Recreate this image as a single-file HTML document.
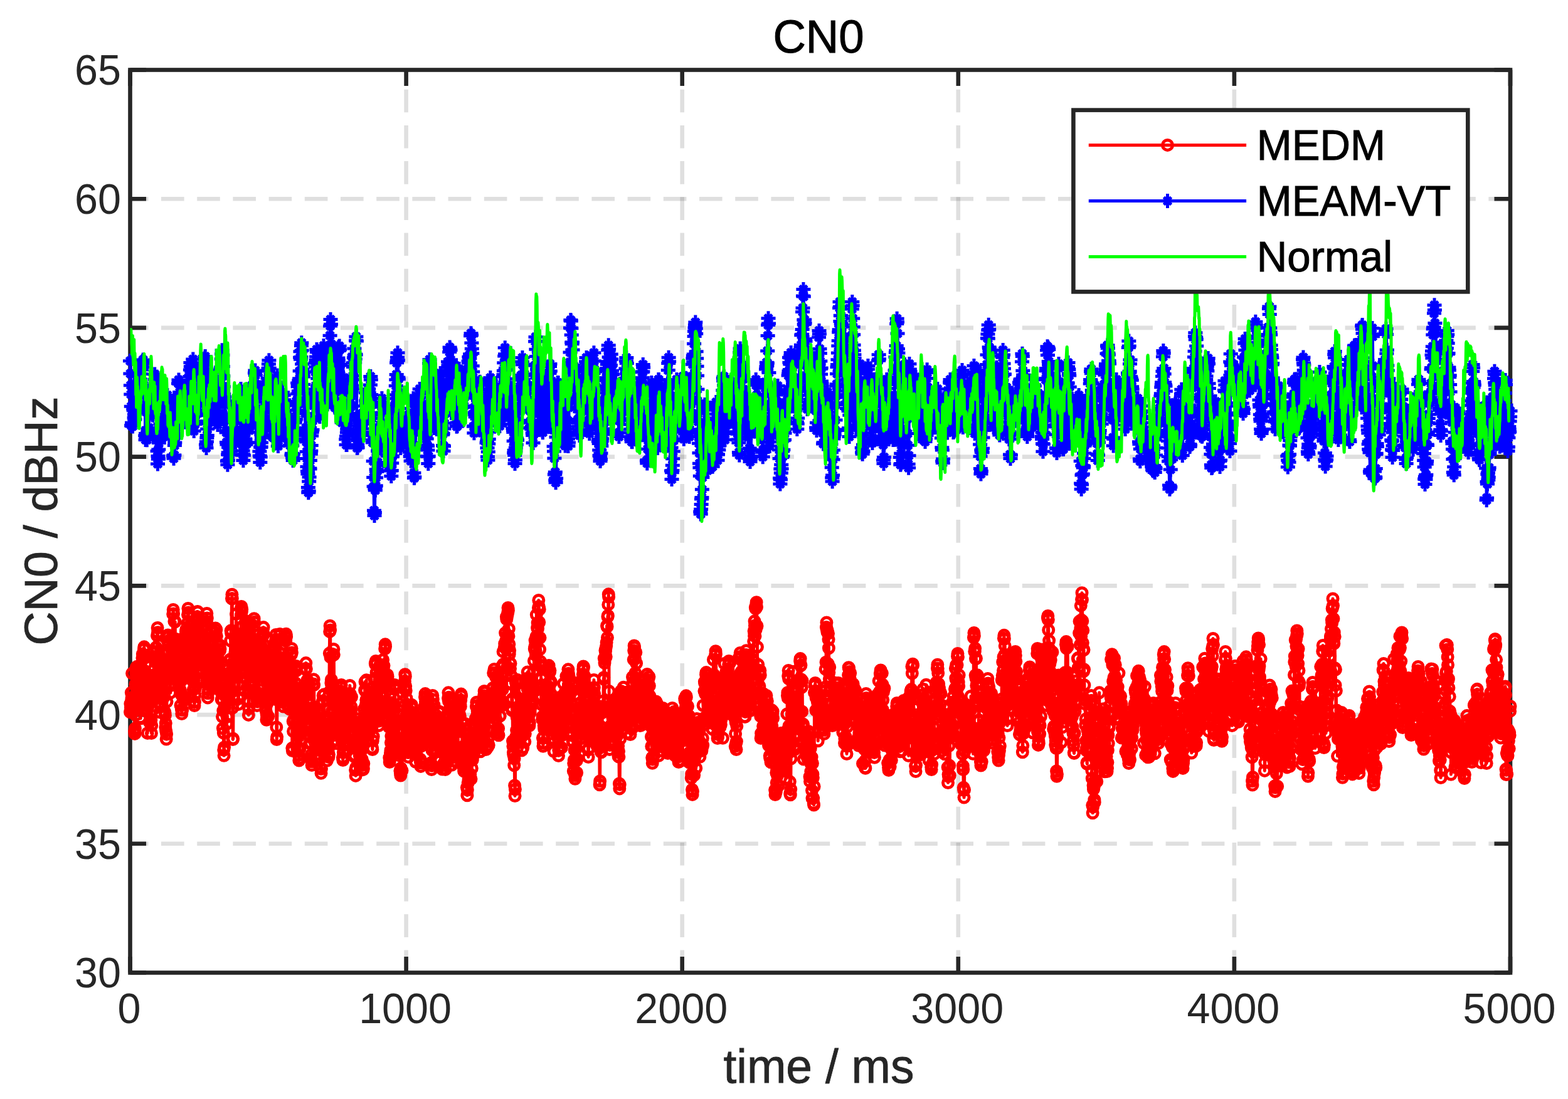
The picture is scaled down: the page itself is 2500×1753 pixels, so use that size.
<!DOCTYPE html>
<html><head><meta charset="utf-8"><title>CN0</title><style>html,body{margin:0;padding:0;background:#fff;width:2500px;height:1753px;overflow:hidden}svg{display:block}</style></head><body>
<svg width="2500" height="1753" viewBox="0 0 2500 1753">
<defs>
<marker id="mo" markerUnits="userSpaceOnUse" markerWidth="1" markerHeight="1" refX="0" refY="0" overflow="visible"><circle r="8" fill="none" stroke="#f00" stroke-width="5"/></marker>
<marker id="ms" markerUnits="userSpaceOnUse" markerWidth="1" markerHeight="1" refX="0" refY="0" overflow="visible"><path d="M0 -11.5V11.5M-11.5 0H11.5M-6 -6L6 6M-6 6L6 -6" fill="none" stroke="#00f" stroke-width="5"/></marker>
<clipPath id="ax"><rect x="207.5" y="111.5" width="2200.5" height="1440.0"/></clipPath>
</defs>
<rect width="2500" height="1753" fill="#fff"/>
<path d="M2408.0 1345.8H207.5M2408.0 1140.1H207.5M2408.0 934.4H207.5M2408.0 728.6H207.5M2408.0 522.9H207.5M2408.0 317.2H207.5" stroke="#262626" stroke-opacity="0.15" stroke-width="6.6" stroke-dasharray="36.6 20.6" stroke-dashoffset="2" fill="none"/>
<path d="M647.6 1551.5V111.5M1087.7 1551.5V111.5M1527.8 1551.5V111.5M1967.9 1551.5V111.5" stroke="#262626" stroke-opacity="0.15" stroke-width="6.6" stroke-dasharray="36.6 20.6" stroke-dashoffset="0.6" fill="none"/>
<path d="M207.5 1551.5h25.5M2408.0 1551.5h-25.5M207.5 1345.8h25.5M2408.0 1345.8h-25.5M207.5 1140.1h25.5M2408.0 1140.1h-25.5M207.5 934.4h25.5M2408.0 934.4h-25.5M207.5 728.6h25.5M2408.0 728.6h-25.5M207.5 522.9h25.5M2408.0 522.9h-25.5M207.5 317.2h25.5M2408.0 317.2h-25.5M207.5 111.5h25.5M2408.0 111.5h-25.5M207.5 1551.5v-25.5M207.5 111.5v25.5M647.6 1551.5v-25.5M647.6 111.5v25.5M1087.7 1551.5v-25.5M1087.7 111.5v25.5M1527.8 1551.5v-25.5M1527.8 111.5v25.5M1967.9 1551.5v-25.5M1967.9 111.5v25.5M2408.0 1551.5v-25.5M2408.0 111.5v25.5" stroke="#262626" stroke-width="6.6" fill="none"/>
<rect x="207.5" y="111.5" width="2200.5" height="1440.0" fill="none" stroke="#262626" stroke-width="6.6" stroke-linejoin="miter"/>
<path d="M207.5 1135.8l.4 -13.1l.5 6.1l.4 3.7l.5 -27.7l.4 12l.4 -3.8l.5 -38.9l.4 52.1l.5 -3.4l.4 -19.6l.4 14l.5 18.5l.4 -10.4l.5 5.3l.4 -19.2l.4 54.9l.5 4.1l.4 -8.5l.5 -70.4l.4 49l.4 -66.5l.5 -9.5l.4 5.3l.5 19.3l.4 -25.8l.4 23.2l.5 -20.7l.4 54.3l.5 -27l.4 -4.3l.4 38.6l.5 -52.2l.4 46l.5 -49.7l.4 30.3l.4 -8.5l.5 51.2l.4 1.5l.5 -46.4l.4 18.9l.4 -24.9l.5 10.4l.4 -30.9l.5 -23.6l.4 -6.4l.4 39.2l.5 32.8l.4 -44.1l.5 -20.4l.4 -15l.4 -3.8l.5 13.4l.4 25.5l.5 -.2l.4 4l.4 -15l.5 46.3l.4 -4.4l.5 33.3l.4 -23.7l.4 -23.3l.5 43.7l.4 38l.5 -43l.4 -12.1l.4 -8.1l.5 .9l.4 13l.5 -19.6l.4 51.6l.4 -37.6l.5 5.8l.4 -15.3l.5 -10.5l.4 9.3l.4 44.5l.5 21.2l.4 -12.2l.5 -67.1l.4 43.4l.4 -.5l.5 -14.9l.4 -32.1l.5 9.2l.4 -13.2l.4 .5l.5 26.7l.4 -.7l.5 -22.5l.4 -7.7l.4 -2.8l.5 -19l.4 -6.6l.5 -17.3l.4 7.1l.4 41l.5 -33.2l.4 -33.8l.5 -12.4l.4 7.4l.5 38.3l.4 9.3l.4 -27.9l.5 47.5l.4 -12.3l.5 48.8l.4 -16.5l.4 40.1l.5 -34.7l.4 1.1l.5 8.7l.4 12l.4 -12.9l.5 -39.1l.4 25.3l.5 -6.4l.4 -12.1l.4 -7.5l.5 -11l.4 12.3l.5 2.8l.4 36.7l.4 -3.1l.5 2.9l.4 24.2l.5 1.2l.4 4.5l.4 19.1l.5 -6.6l.4 12.3l.5 13.2l.4 -8l.4 -51.7l.5 -44.7l.4 -34l.5 -24l.4 -3.6l.4 9.3l.5 30l.4 -12.3l.5 33.6l.4 -11.2l.4 -2.4l.5 7l.4 23.9l.5 14.2l.4 -11.7l.4 -2.7l.5 -38.7l.4 17.4l.5 -49.7l.4 18.4l.4 4.3l.5 -5.7l.4 -57.3l.5 -6.9l.4 6.4l.4 47l.5 -.5l.4 -34.2l.5 30.7l.4 33l.4 -63.2l.5 43.4l.4 16.7l.5 -32.2l.4 29.5l.4 -29.1l.5 9.1l.4 3.9l.5 24.2l.4 -1.7l.4 24.8l.5 -33.9l.4 20.1l.5 25.8l.4 -4l.4 -33.8l.5 43.8l.4 -18.9l.5 21.2l.4 2.3l.4 22.3l.5 -18.1l.4 -35.4l.5 60.1l.4 6.7l.4 -6.1l.5 .2l.4 -23l.5 -26l.4 31l.4 -43.5l.5 -30.5l.4 76.7l.5 -85.1l.4 45.3l.4 .4l.5 -21.5l.4 -42.2l.5 48.3l.4 -54.8l.4 -3.6l.5 14l.4 17.3l.5 -15.4l.4 4.6l.4 -30.7l.5 -13.5l.4 -9.9l.5 6.6l.4 34.5l.4 -12.8l.5 20.5l.4 -15.9l.5 4.7l.4 17.7l.4 .4l.5 20.8l.4 -3.2l.5 36.3l.4 -34.2l.4 4.9l.5 -11.2l.4 26.4l.5 18.2l.4 -23.4l.4 18.9l.5 20.4l.4 -11.8l.5 -2.8l.4 34.9l.4 5.1l.5 -6.1l.4 -10.8l.5 -10.2l.4 -39.5l.4 -13.3l.5 6.5l.4 -18l.5 -45l.4 53.8l.4 -59.2l.5 -8.2l.4 .4l.5 52.8l.4 -33.3l.4 13.9l.5 -21.6l.4 28.9l.5 3l.4 5.2l.4 16.7l.5 -3.3l.4 22.6l.5 -24.6l.4 -6.3l.4 23.8l.5 17.2l.4 16.6l.5 -4.3l.4 -53.2l.4 38.8l.5 17.6l.4 -32.1l.5 -15.6l.4 12.4l.4 -20.4l.5 18.8l.4 -17.1l.5 24l.4 -22l.4 -28.5l.5 22.5l.4 2.5l.5 -34.2l.4 -5.1l.4 -13.1l.5 7.5l.4 95.7l.5 31.2l.4 -7.2l.4 -23.1l.5 17.5l.4 -19.1l.5 9.1l.4 -33.6l.4 -6.9l.5 42.4l.4 -10l.5 -12.6l.4 24.2l.4 -46.8l.5 8.5l.4 26.8l.5 14.1l.4 -38.7l.4 31.3l.5 -47.8l.4 16.5l.5 -12.2l.4 -30.4l.5 34.8l.4 11.4l.4 -23.8l.5 -.5l.4 27.1l.5 -55l.4 -7l.4 14.7l.5 -13l.4 .9l.5 9.8l.4 44.5l.4 39.7l.5 -1.3l.4 -41.5l.5 -5.7l.4 18.6l.4 4l.5 -11.1l.4 -25.3l.5 -7.7l.4 1.9l.4 7.3l.5 -2.1l.4 64.8l.5 .6l.4 -11.8l.4 8.2l.5 18.4l.4 -9.8l.5 -4.7l.4 42l.4 -26.7l.5 45.1l.4 -28.1l.5 35.4l.4 27.3l.4 9l.5 -13.3l.4 -65.2l.5 2.1l.4 -22.7l.4 -2.5l.5 -15l.4 -13.2l.5 9l.4 .9l.4 69.3l.5 -11.3l.4 -41.8l.5 -39.9l.4 46l.4 5l.5 -45.6l.4 49.3l.5 -5.6l.4 -25l.4 15l.5 -5.7l.4 -43.2l.5 1.1l.4 -31l.4 -15.9l.5 4l.4 -4.4l.5 -50.9l.4 -6.6l.4 6.5l.5 174.3l.4 50.5l.5 -1.2l.4 -63.6l.4 -38.7l.5 -20.7l.4 37.3l.5 -39l.4 -4.2l.4 -7.5l.5 -25.4l.4 2.6l.5 -4.9l.4 -34.9l.4 39.2l.5 36.8l.4 5.8l.5 19.4l.4 -2.8l.4 13.6l.5 20.4l.4 11.8l.5 -9.1l.4 -63.9l.4 41.4l.5 -28.9l.4 -1.2l.5 10.8l.4 -19.4l.4 -33l.5 6.7l.4 -55.2l.5 -4.2l.4 8.4l.4 -4l.5 60.9l.4 -33.9l.5 34.6l.4 -15.1l.4 35.2l.5 13.2l.4 -35.9l.5 -7.1l.4 34.9l.4 22.8l.5 -29.1l.4 -9.6l.5 17.3l.4 -69.7l.4 37.3l.5 -19.1l.4 28.8l.5 -25.3l.4 -12.3l.4 -1.5l.5 -5.8l.4 4l.5 106.6l.4 37.3l.4 -9.8l.5 -11.6l.4 -25.7l.5 7.4l.4 -6.2l.4 -31.1l.5 22.2l.4 -9.7l.5 -6l.4 -19.6l.4 -5.8l.5 18.9l.4 22.6l.5 -65.5l.4 22l.4 -23.4l.5 17.8l.4 -12.3l.5 -26.1l.4 -11.8l.4 5.5l.5 14l.4 26.4l.5 -3.6l.4 10.3l.4 35.2l.5 33.1l.4 -85.8l.5 59l.4 33.7l.4 11l.5 -6.3l.4 -47.8l.5 4.5l.4 29.6l.4 3.3l.5 -23.4l.4 -22.4l.5 14.9l.4 -10.4l.4 12l.5 -12.3l.4 -18.6l.5 12.5l.4 -31.1l.4 36.2l.5 3.6l.4 -51l.5 28.2l.4 -31.9l.4 37.5l.5 -7.1l.4 -36.3l.5 -8.6l.4 11.2l.4 16.3l.5 11l.4 18.1l.5 5.8l.4 19.1l.4 -5.9l.5 37.1l.4 14.7l.5 7.5l.4 12.7l.4 -7.5l.5 5.5l.4 -28.8l.5 -25.3l.4 28.2l.5 22.4l.4 -70.9l.4 44.3l.5 -18.6l.4 -13.7l.5 24.3l.4 -38.8l.4 29.1l.5 17.5l.4 -25.5l.5 -23.9l.4 -20.9l.4 7.1l.5 -14l.4 66l.5 -39.8l.4 -18.7l.4 -7.9l.5 1.8l.4 11.8l.5 -21.7l.4 56.4l.4 -51.3l.5 -3.6l.4 19l.5 20.1l.4 -5.4l.4 -43.3l.5 -9.6l.4 7.3l.5 140.1l.4 19.6l.4 -4.2l.5 -80.8l.4 18.8l.5 -37.1l.4 41.1l.4 -36.4l.5 -31.2l.4 4.2l.5 -13.5l.4 -19.7l.4 -9.2l.5 .4l.4 .2l.5 52.8l.4 -1.7l.4 15.5l.5 14.2l.4 -3.8l.5 28.2l.4 -25.2l.4 27.8l.5 -9.3l.4 -9.8l.5 26.2l.4 -9.6l.4 -59l.5 7.7l.4 19.5l.5 6.9l.4 -43.5l.4 .9l.5 -33.3l.4 5.7l.5 -11l.4 4.3l.4 48.4l.5 14.1l.4 2.1l.5 -10.2l.4 30.2l.4 -4.7l.5 33l.4 -32.1l.5 10.6l.4 17.8l.4 6.1l.5 -29l.4 -23.4l.5 5.6l.4 -13.9l.4 41.6l.5 -26.2l.4 -41.5l.5 -9.6l.4 6.5l.4 152.3l.5 4.2l.4 -4l.5 -42.8l.4 15.8l.4 -35.3l.5 16.5l.4 -35.8l.5 -11.4l.4 24.5l.4 -10.8l.5 25.1l.4 -49.9l.5 -20.1l.4 -6.8l.4 7.3l.5 -3.4l.4 54.7l.5 -23l.4 55.8l.4 15.7l.5 -24.4l.4 48.6l.5 -18.8l.4 29.6l.4 8.5l.5 -3.4l.4 -42.7l.5 26.7l.4 -26.3l.4 2l.5 10.6l.4 -13.9l.5 -9.5l.4 11.4l.4 -3.2l.5 -48.4l.4 34.3l.5 -2.4l.4 -33.1l.4 18.1l.5 -38.9l.4 50.7l.5 -38.2l.4 -1.5l.4 20.9l.5 -31.4l.4 10.1l.5 -37.5l.4 -.9l.4 -9l.5 9.5l.4 40.9l.5 -10.1l.4 19.2l.4 -32.2l.5 8.9l.4 14.4l.5 26.7l.4 1.7l.4 -1.4l.5 18.8l.4 -9.5l.5 8.6l.4 32.6l.4 -31.8l.5 21.4l.4 34.6l.5 -24.2l.4 18.1l.4 9.7l.5 7l.4 -5.4l.5 -69.8l.4 -13.2l.4 38.6l.5 -40.1l.4 -39.5l.5 -7.3l.4 8.8l.4 40.8l.5 -2.9l.4 -2.7l.5 21.1l.4 29l.4 .2l.5 -6.6l.4 -6.4l.5 -18.3l.4 -2.3l.4 2.5l.5 24.6l.4 11.5l.5 -19.7l.4 -3.9l.4 43.4l.5 -9.7l.4 -16.7l.5 -44.2l.4 62.1l.4 16.6l.5 13l.4 -33l.5 3.8l.4 31.3l.4 7.2l.5 -7l.4 -41.1l.5 -28.6l.4 11.6l.4 -48.8l.5 -.8l.4 -9.1l.5 9.1l.4 27.9l.5 15.2l.4 -54l.4 56.9l.5 -6.1l.4 -14.2l.5 36.8l.4 -21.5l.4 25l.5 -34.9l.4 -2.7l.5 44.7l.4 21.6l.4 -27.7l.5 7.9l.4 -24.4l.5 -14.2l.4 40.2l.4 12.4l.5 -4l.4 -95.3l.5 -66.1l.4 -34.7l.4 -9.2l.5 6.8l.4 43.4l.5 52.2l.4 -10.9l.4 -5.6l.5 15.9l.4 -10.6l.5 44l.4 -42.1l.4 24.2l.5 -15.3l.4 -55.4l.5 -9.3l.4 8.8l.4 52.7l.5 25.5l.4 46.5l.5 11.5l.4 -12.4l.4 -57.5l.5 31l.4 18.6l.5 20.6l.4 -40.7l.4 -21.2l.5 66.9l.4 -41.4l.5 -10.5l.4 -18.4l.4 -.7l.5 47.6l.4 -37.1l.5 -7.5l.4 -1.6l.4 39.5l.5 -45.3l.4 22.3l.5 -9.4l.4 -2.6l.4 -24.5l.5 -3.7l.4 11l.5 36.5l.4 -5.5l.4 4.5l.5 69.3l.4 4.3l.5 -12.4l.4 -11.5l.4 -33l.5 42l.4 -14.2l.5 -9.4l.4 3l.4 10.6l.5 -20.6l.4 -21.3l.5 37.1l.4 -35.1l.4 -9.1l.5 -19.9l.4 28.2l.5 -24.3l.4 7.3l.4 16.2l.5 -11.5l.4 16.4l.5 -17.4l.4 -17.4l.4 -1.7l.5 -8.3l.4 -12.8l.5 13.4l.4 6.5l.4 30.2l.5 -9.9l.4 -6.2l.5 -15.8l.4 44.1l.4 1.1l.5 1.3l.4 -4.6l.5 -2.9l.4 17.2l.4 14.3l.5 -2.1l.4 4.7l.5 -1.4l.4 21.2l.4 3l.5 -14.6l.4 35.3l.5 9.1l.4 -12.9l.4 -33.6l.5 -37.8l.4 -6.6l.5 9.6l.4 3.9l.4 3.4l.5 2.8l.4 25.7l.5 -15.3l.4 -17.5l.4 -7.4l.5 15.7l.4 18.5l.5 .8l.4 -3.2l.4 -8l.5 11.3l.4 26l.5 -40.2l.4 24.5l.4 31l.5 -17l.4 -18.4l.5 24.2l.4 3.7l.4 6.9l.5 -1.7l.4 -7.9l.5 -86.7l.4 33.5l.4 10.3l.5 -74.1l.4 -13.4l.5 12.4l.4 2.9l.4 21.4l.5 -7.8l.4 -31.6l.5 44.7l.4 -8.1l.4 24.8l.5 25.8l.4 -25.7l.5 -18.6l.4 18.9l.4 -2.5l.5 18.9l.4 -46.7l.5 7.9l.4 -15.1l.4 55.6l.5 -10.1l.4 -9.9l.5 .8l.4 5.6l.4 -4.7l.5 14.7l.4 -1l.5 32.9l.4 2.5l.4 -14l.5 -33.6l.4 26.8l.5 -23.8l.4 -12.1l.4 -.4l.5 8.5l.4 -65l.5 .5l.4 -24.4l.4 1.9l.5 -5.4l.4 5.2l.5 13l.4 34.6l.4 -11.1l.5 -2.2l.4 41.3l.5 -40.5l.4 1.2l.4 46.8l.5 4.8l.4 9.8l.5 -7.5l.4 -23.4l.5 14.4l.4 -4.6l.4 -8.2l.5 -20.5l.4 -28.2l.5 31.4l.4 20.8l.4 -13l.5 -28.8l.4 15.4l.5 -27.7l.4 2.6l.4 -27.6l.5 14.3l.4 5.2l.5 -10.2l.4 14.7l.4 18.3l.5 -15.2l.4 -44.7l.5 -7.1l.4 3.4l.4 62.7l.5 51.6l.4 -8.3l.5 -41.7l.4 -7l.4 -7.9l.5 -4.1l.4 3.2l.5 64.7l.4 1.8l.4 -23.7l.5 15.5l.4 21.8l.5 48.9l.4 6.8l.4 -4.5l.5 -5.7l.4 -4.3l.5 -4.4l.4 -12.1l.4 -10.4l.5 -16.2l.4 -37.2l.5 27.6l.4 33.8l.4 -51.5l.5 -6.5l.4 28.2l.5 -23.5l.4 -16l.4 36.1l.5 -53l.4 -3.4l.5 6.7l.4 49l.4 10.3l.5 20.8l.4 20.1l.5 4.1l.4 -20.3l.4 9.1l.5 -38l.4 10.9l.5 -10.7l.4 11.8l.4 -.1l.5 18.1l.4 -19.3l.5 34.9l.4 2.8l.4 -21l.5 23.7l.4 24.1l.5 3.7l.4 3.8l.4 -11.8l.5 -26.5l.4 -8.8l.5 11.8l.4 27.4l.4 -26.7l.5 -4.2l.4 -12.5l.5 -67l.4 20.4l.4 -12.4l.5 25.8l.4 1l.5 -54.8l.4 -12.2l.4 -10.8l.5 3.3l.4 15.5l.5 7.3l.4 39.5l.4 -27.6l.5 49.1l.4 -12.7l.5 21.6l.4 24.2l.4 -36.1l.5 40.8l.4 6.9l.5 -13.4l.4 -29.8l.4 8.5l.5 1.7l.4 -31.8l.5 13.4l.4 15.5l.4 11.4l.5 -56.6l.4 9.3l.5 -11.2l.4 -.1l.4 4.8l.5 28.6l.4 -15l.5 12.8l.4 16.1l.4 -22.9l.5 12.4l.4 7.9l.5 10l.4 19.1l.4 .5l.5 -27.4l.4 -7.8l.5 51.7l.4 -30.9l.4 -2.5l.5 -28.7l.4 39.1l.5 -29.3l.4 8.1l.4 -15.8l.5 18l.4 13.2l.5 -29.4l.4 13.8l.4 18l.5 -21.9l.4 1.9l.5 10.1l.4 -9.8l.4 41.9l.5 5l.4 6.4l.5 -5.4l.4 -47.1l.4 19.9l.5 -15.1l.4 -17.9l.5 11.2l.4 -2.9l.4 14.1l.5 1.5l.4 -47.1l.5 9.1l.4 13.8l.4 8.2l.5 -37.9l.4 -14.9l.5 -5.3l.4 12.7l.4 5.6l.5 -4.5l.4 21l.5 26l.4 -19.2l.4 -37.8l.5 58l.4 -42.2l.5 16.2l.4 -.1l.4 -10l.5 15.3l.4 8.8l.5 11.1l.4 14.7l.4 -2l.5 -19.4l.4 29.5l.5 26.7l.4 3.1l.4 -1.7l.5 9.1l.4 -5.9l.5 -24.7l.4 -73.7l.4 -13.7l.5 6.2l.4 51.2l.5 6.6l.4 4.4l.5 -52.9l.4 27.4l.4 -14l.5 42.6l.4 -8.7l.5 4.8l.4 1l.4 31.5l.5 -34.4l.4 24.1l.5 -12l.4 -6.4l.4 -.3l.5 -9.5l.4 -26.6l.5 33.8l.4 -2.5l.4 -25.8l.5 -13.5l.4 8l.5 -9.3l.4 25l.4 -3.7l.5 -7l.4 26.8l.5 -21.1l.4 10.4l.4 15.9l.5 4.3l.4 1.7l.5 39.5l.4 -51.5l.4 17.3l.5 -26.9l.4 36l.5 15.7l.4 3.4l.4 -34.7l.5 9.4l.4 30.6l.5 -6.5l.4 7.6l.4 -13.5l.5 5.1l.4 -14.4l.5 -18.6l.4 -32.6l.4 5.5l.5 -1.1l.4 -5l.5 -14.7l.4 -24.7l.4 -8.6l.5 13.6l.4 -6.1l.5 3.8l.4 3.3l.4 23.8l.5 -14.4l.4 52.6l.5 -2.5l.4 -.3l.4 -1.8l.5 30.9l.4 12.5l.5 -11.8l.4 -41.7l.4 19.8l.5 -50l.4 46.6l.5 -63l.4 10.7l.4 -11.9l.5 46.9l.4 -38.4l.5 73.3l.4 -60.3l.4 73.2l.5 -8.4l.4 10.3l.5 -13.1l.4 -.4l.4 1.3l.5 -66.5l.4 64.7l.5 -23.2l.4 -40.9l.4 43.7l.5 -43.4l.4 24l.5 -2.9l.4 -21.5l.4 22l.5 -37.3l.4 20.4l.5 -18.7l.4 3.4l.4 -10.3l.5 -9.7l.4 3l.5 42.3l.4 -.5l.4 28.5l.5 15.2l.4 11l.5 12.5l.4 -8.6l.4 13.7l.5 5.9l.4 -39.9l.5 5l.4 -3.9l.4 -28.5l.5 -8.3l.4 9.2l.5 28.8l.4 -20.3l.4 21.5l.5 30.6l.4 31.8l.5 12.6l.4 -8.7l.4 -43l.5 31.8l.4 -14.7l.5 8.8l.4 -8.6l.4 7.9l.5 -4.4l.4 .5l.5 -29.2l.4 25.8l.4 -33.2l.5 8.6l.4 32.2l.5 -33.3l.4 -33.6l.4 49.9l.5 -13.1l.4 -.4l.5 -22.1l.4 -.2l.4 -14.9l.5 -12.5l.4 41.4l.5 -41.2l.4 -5.5l.4 -2.5l.5 42.9l.4 -22.9l.5 -28.2l.4 3.2l.4 7.9l.5 -30.5l.4 -6.7l.5 5.3l.4 14.8l.4 -6.2l.5 9.1l.4 26.9l.5 22.5l.4 -29l.4 11.3l.5 -24.2l.4 29.3l.5 9.8l.4 -43l.4 22.7l.5 29.3l.4 -55.2l.5 23.2l.4 15.1l.4 -50.3l.5 21.5l.4 4.5l.5 12.3l.4 -47.8l.4 43.3l.5 -20.5l.4 13.4l.5 -5.1l.4 -43.5l.4 -7.2l.5 1.8l.4 9.4l.5 14.6l.4 21l.4 35l.5 11.2l.4 -4.5l.5 -46.5l.4 -7.7l.4 55.6l.5 -28.4l.4 27.8l.5 -12l.4 -45.1l.4 -21.7l.5 75.5l.4 -52.4l.5 -17.8l.4 33.7l.5 -14l.4 -19.2l.4 3.5l.5 7.2l.4 -4.7l.5 10.6l.4 -25.1l.4 -2.8l.5 15.9l.4 -8.7l.5 12.6l.4 -29.8l.4 0l.5 -24.1l.4 50.1l.5 -49.2l.4 -6.8l.4 6.7l.5 29.2l.4 12.8l.5 -43.1l.4 33.2l.4 -26.3l.5 67.8l.4 -32.3l.5 -18l.4 22.1l.4 44.9l.5 5.8l.4 -1.4l.5 1.6l.4 -8.5l.4 10.8l.5 -51.8l.4 3.5l.5 -16.8l.4 -8.6l.4 43l.5 -16l.4 -8l.5 -1.8l.4 4.4l.4 5.3l.5 -34.8l.4 -11.1l.5 -18l.4 37.6l.4 -36.3l.5 -24l.4 20l.5 1.5l.4 11.7l.4 -1l.5 -39.1l.4 -5.8l.5 5l.4 -22.1l.4 17.6l.5 7l.4 -12.8l.5 -37.6l.4 4l.4 45.2l.5 -50.5l.4 30.7l.5 -35.3l.4 -8.4l.4 4.2l.5 40.7l.4 -11.5l.5 24.6l.4 16.1l.4 -6.1l.5 20.2l.4 8.8l.5 -8.2l.4 31.3l.4 1.5l.5 -13.3l.4 40.1l.5 11.5l.4 4l.4 -18.8l.5 67.2l.4 8.5l.5 9.8l.4 3.9l.4 -21.3l.5 38l.4 -10.6l.5 42.8l.4 16.6l.4 -10.4l.5 -72.5l.4 -8.5l.5 -3.1l.4 8.8l.4 -19l.5 -21.2l.4 -58.8l.5 -.3l.4 5.2l.4 54.9l.5 9l.4 -16.7l.5 7.3l.4 -41l.4 80.9l.5 -43.2l.4 19.7l.5 -33.1l.4 19.9l.4 -18.3l.5 23l.4 9.1l.5 8.9l.4 26.8l.4 -22.5l.5 -8.9l.4 -8.3l.5 35.3l.4 -56l.4 31.2l.5 -67.2l.4 17.5l.5 21.6l.4 -15.6l.4 59.1l.5 -12.7l.4 -86.2l.5 4.8l.4 2.6l.4 -9.1l.5 4.6l.4 28.4l.5 -31.7l.4 14.4l.4 -26.2l.5 18.6l.4 42.3l.5 10.4l.4 -38.8l.4 46.1l.5 6.9l.4 -4.5l.5 -29.8l.4 13.6l.4 -6.4l.5 -13.7l.4 -17.1l.5 -2.5l.4 5.5l.4 -17.5l.5 32.9l.4 -13.6l.5 -.8l.4 14l.4 -13.7l.5 -8l.4 -25.7l.5 -16l.4 45.1l.4 -64.2l.5 -3.7l.4 -9.8l.5 17l.4 -.7l.4 7.5l.5 -29.9l.4 -34.9l.5 36.3l.4 8.3l.4 -23.6l.5 -8l.4 9.1l.5 12.7l.4 -46l.4 -12l.5 10l.4 25.1l.5 -20.4l.4 63.7l.4 -18.5l.5 37.7l.4 6l.5 2.2l.4 51l.4 -31.5l.5 10l.4 31.6l.5 23.2l.4 -4.6l.4 34.3l.5 13l.4 -5l.5 -9.5l.4 -18.5l.4 5.4l.5 -18.8l.4 -21.7l.5 28l.4 12.3l.5 -40.5l.4 3.5l.4 -13.2l.5 47.1l.4 -42.8l.5 21l.4 -32.1l.4 15.6l.5 -17.3l.4 -37.7l.5 45.3l.4 5.8l.4 -55.5l.5 34.9l.4 -8.4l.5 -16.1l.4 -2.5l.4 16.4l.5 19.9l.4 25.2l.5 -42.5l.4 30.4l.4 36.2l.5 -19.6l.4 -6.3l.5 -1.4l.4 28.2l.4 .2l.5 21.8l.4 -36.6l.5 57.2l.4 -32.8l.4 17.8l.5 -30.4l.4 -14.7l.5 11.5l.4 -10.9l.4 8.4l.5 17.3l.4 5.5l.5 -20.7l.4 -18l.4 -1.4l.5 -9l.4 -6.7l.5 4.4l.4 59.4l.4 27.2l.5 -8.7l.4 -4.6l.5 -79.8l.4 60.6l.4 -18.7l.5 -38.1l.4 50.2l.5 -10.6l.4 6.6l.4 -37.3l.5 67.5l.4 -43.1l.5 -11.7l.4 34.8l.4 -20l.5 1l.4 4l.5 -67.3l.4 72.3l.4 -42.9l.5 10l.4 10.2l.5 -35.3l.4 18l.4 6.3l.5 -18.6l.4 8.1l.5 -39.8l.4 .9l.4 -1.7l.5 27.8l.4 64.9l.5 -72.2l.4 -19l.4 -11.5l.5 6.4l.4 37.6l.5 -31.8l.4 48.7l.4 -15.4l.5 22.2l.4 -50.9l.5 14.3l.4 48.4l.4 -42.6l.5 49.3l.4 4.3l.5 1.6l.4 9.6l.4 3.6l.5 9l.4 -11.7l.5 13.1l.4 46.4l.4 -12.4l.5 -5.1l.4 1l.5 -17l.4 38.7l.4 7.2l.5 -5l.4 -41.9l.5 -33.7l.4 31.3l.4 20.4l.5 19.1l.4 -22l.5 -44.9l.4 10.5l.4 -19.4l.5 10.6l.4 -19l.5 -19.7l.4 37.1l.4 -9.7l.5 -12.1l.4 5.6l.5 29l.4 -43.1l.4 -14.6l.5 20.1l.4 -54.9l.5 43.2l.4 -35.3l.4 -5.6l.5 13.8l.4 26.5l.5 -53.1l.4 -7.7l.4 -4.9l.5 1.3l.4 50.1l.5 -29.1l.4 -7.1l.4 19.3l.5 7.1l.4 32.2l.5 -20.7l.4 50.2l.4 -19.6l.5 -13l.4 3.4l.5 27l.4 -39.3l.4 2.8l.5 31.6l.4 37l.5 11.4l.4 -13.8l.4 -19.2l.5 -43.3l.4 33l.5 -33.1l.4 48.1l.4 -20.9l.5 -5.7l.4 5.7l.5 -5.5l.4 -5.9l.4 -1.8l.5 -22.8l.4 -18.9l.5 29.4l.4 18.1l.4 -12.8l.5 -28.5l.4 -12l.5 -13.1l.4 12.2l.4 9.6l.5 23.2l.4 45.5l.5 -16.4l.4 22.7l.4 -37.2l.5 10l.4 21.1l.5 13l.4 -18.9l.4 20.8l.5 -34.9l.4 34.6l.5 -11.4l.4 -45.3l.4 0l.5 -6.6l.4 5.5l.5 61.4l.4 58.3l.5 -5.8l.4 -87.6l.4 9l.5 31.7l.4 -13.6l.5 14.4l.4 -24.3l.4 -38.4l.5 23.5l.4 -30.1l.5 1.9l.4 -14.1l.4 8.7l.5 -43.9l.4 -2.4l.5 -30.6l.4 78.9l.4 -71.4l.5 -5.8l.4 -14.3l.5 1.7l.4 -4.3l.4 12.6l.5 -17.3l.4 -5.4l.5 -26.9l.4 1.8l.4 17.4l.5 -33.3l.4 -1.9l.5 -17.5l.4 -16.6l.4 4.4l.5 150.4l.4 82.3l.5 10.6l.4 -7l.4 -14.2l.5 -15.8l.4 15.4l.5 8.3l.4 -14.6l.4 -8.2l.5 .2l.4 -5l.5 7.1l.4 -16.6l.4 -26.9l.5 65.4l.4 -63.7l.5 31.3l.4 -25.2l.4 18.9l.5 -15l.4 17l.5 -17.4l.4 -10.6l.4 30.7l.5 19l.4 -38.1l.5 -11l.4 4.9l.4 29.5l.5 19.4l.4 -13.2l.5 39.8l.4 -10l.4 16.6l.5 -8.2l.4 9l.5 42.6l.4 8l.4 -6.3l.5 -72.9l.4 -20.1l.5 -51.5l.4 -4.6l.4 10.9l.5 15.5l.4 -5l.5 -14.6l.4 31.2l.4 -21.3l.5 43.9l.4 -29.6l.5 -37.2l.4 44.9l.4 -24.6l.5 .7l.4 6.1l.5 2.7l.4 8.2l.4 10.7l.5 -5.7l.4 -23l.5 -12.1l.4 11.4l.4 23.9l.5 10.6l.4 19.2l.5 -62.4l.4 29l.4 -5.7l.5 -2.9l.4 11.3l.5 -7.2l.4 .1l.4 -7.1l.5 21.4l.4 13.7l.5 12.1l.4 -42.7l.4 -10l.5 16.3l.4 21.6l.5 5.6l.4 -5.5l.4 -38.3l.5 -38.6l.4 9.6l.5 .6l.4 16.5l.4 -54.6l.5 -14.3l.4 -7.8l.5 2.2l.4 8.6l.4 10.2l.5 22.5l.4 7.9l.5 -41l.4 46.6l.4 -29l.5 62.9l.4 -26.6l.5 .7l.4 -2.7l.4 6.7l.5 4.6l.4 -10l.5 32.6l.4 -5.7l.4 13.5l.5 -12.3l.4 18.7l.5 11l.4 6.1l.4 -13.1l.5 -19l.4 27l.5 4.2l.4 -41.7l.4 -18.6l.5 4.1l.4 6.9l.5 3l.4 11.2l.4 22.7l.5 -.2l.4 -35l.5 21.8l.4 5.6l.4 9.3l.5 -32.5l.4 -12.9l.5 28.7l.4 14.1l.4 -42l.5 48.3l.4 -5.8l.5 -40.8l.4 -27.3l.4 18.2l.5 3.7l.4 16.5l.5 -29.5l.4 65.1l.4 -56.6l.5 -13.4l.4 14.5l.5 15.8l.4 20.5l.4 27.1l.5 -4.1l.4 -9.7l.5 -26.7l.4 58.2l.4 15.3l.5 -14.4l.4 32.5l.5 8.8l.4 -6l.4 -46.7l.5 26.4l.4 -38.7l.5 52.8l.4 -49.5l.4 24.3l.5 -28l.4 18.7l.5 -15.3l.4 11.3l.5 -30l.4 -17.7l.4 20.9l.5 -6.3l.4 -11.7l.5 4.5l.4 2.4l.4 27l.5 -6l.4 11.6l.5 44.2l.4 -33.6l.4 8.1l.5 8.9l.4 -11.5l.5 -6l.4 26.3l.4 -.2l.5 -59.8l.4 29.7l.5 -6.6l.4 -7.7l.4 33l.5 -38.7l.4 24.9l.5 -31.3l.4 -11.5l.4 4.7l.5 2.1l.4 13.3l.5 -17.1l.4 6.1l.4 33.9l.5 -1l.4 -32.8l.5 1l.4 52l.4 -37.7l.5 -2.8l.4 29.4l.5 -24l.4 10l.4 26.9l.5 3.9l.4 4.1l.5 -3.6l.4 -24.1l.4 -3.9l.5 2.7l.4 -8.1l.5 14.7l.4 -6.9l.4 -23.1l.5 17l.4 -16.4l.5 -2.7l.4 6.7l.4 21.2l.5 -16.9l.4 -16l.5 -12.6l.4 8.5l.4 1.2l.5 -1.6l.4 23.3l.5 13.8l.4 16.3l.4 -55.7l.5 46.6l.4 5l.5 18.4l.4 -32l.4 -2.3l.5 -27.7l.4 16.8l.5 -4.5l.4 3.9l.4 4.3l.5 -10.7l.4 30.9l.5 11.6l.4 9.5l.4 1.9l.5 8.5l.4 -2.4l.5 -54.1l.4 22.5l.4 -21.9l.5 3l.4 20.8l.5 -8.6l.4 29.4l.4 9.2l.5 -34.9l.4 -14.6l.5 -1.5l.4 .2l.4 9.3l.5 -28.5l.4 23.9l.5 -18.9l.4 23.6l.4 3.7l.5 5l.4 -40.2l.5 -26.3l.4 3.2l.4 13.1l.5 -15.3l.4 6.2l.5 -11.6l.4 2.4l.4 38.7l.5 30.2l.4 -38.1l.5 16l.4 -32.6l.4 40.4l.5 -12.4l.4 -2.8l.5 -10l.4 74.4l.4 -59.1l.5 13.3l.4 29.6l.5 10.8l.4 5.3l.4 1.5l.5 -14.8l.4 38.4l.5 -6.3l.4 -27.7l.4 52.5l.5 7.9l.4 -4.8l.5 -55l.4 .2l.4 7.2l.5 -7.4l.4 29l.5 -57.8l.4 30.7l.4 -28.7l.5 25.5l.4 -11.2l.5 -20.3l.4 50.4l.4 -50.4l.5 -15l.4 -13.3l.5 6.7l.4 15.6l.4 1.6l.5 -9l.4 -9.1l.5 6.8l.4 -.3l.4 -6.4l.5 13.8l.4 23l.5 18.1l.4 -23.4l.4 10.3l.5 -7.1l.4 2.5l.5 -2.1l.4 2.6l.4 7.4l.5 -4.9l.4 -1.9l.5 -13.3l.4 11.2l.4 -63.4l.5 25.9l.4 -2.7l.5 -2.9l.4 -43.2l.4 -14.7l.5 2.6l.4 15.6l.5 49.5l.4 -47.8l.4 -31.6l.5 -3.3l.4 9.2l.5 19l.4 -9.9l.4 -14.4l.5 17.9l.4 27.4l.5 -5.6l.4 20.9l.4 -43.3l.5 45l.4 -17.2l.5 5.2l.4 23.6l.5 -24.9l.4 10.3l.4 10.2l.5 2.8l.4 -.7l.5 5l.4 -19.7l.4 -23.9l.5 53.3l.4 -54.1l.5 3.7l.4 -27l.4 -33.2l.5 23.6l.4 12.3l.5 4.8l.4 -14.5l.4 10.8l.5 -.6l.4 -43.7l.5 -6.2l.4 4.9l.4 38.8l.5 1.4l.4 60.5l.5 -38.8l.4 65.6l.4 6.4l.5 -6.6l.4 -1.9l.5 -23.9l.4 9.4l.4 -13.1l.5 -26.1l.4 32.6l.5 -3.9l.4 15.9l.4 -12.5l.5 -45.2l.4 53.7l.5 -8.2l.4 -2.6l.4 -7.6l.5 -25.9l.4 22.8l.5 -20l.4 62.9l.4 -64.4l.5 -19.5l.4 13.4l.5 33.5l.4 -42.2l.4 -39.5l.5 76.2l.4 -24.8l.5 -18.5l.4 22.2l.4 -34.8l.5 -7.1l.4 40.5l.5 -31.4l.4 18.9l.4 -12.4l.5 14.4l.4 -16.5l.5 -18.3l.4 25.7l.4 -32.6l.5 -5.6l.4 4.5l.5 52.9l.4 -31.1l.4 -24.1l.5 31.4l.4 20.4l.5 -13.4l.4 1.2l.4 42.5l.5 -28.8l.4 27.8l.5 -14.4l.4 -28.2l.4 13.8l.5 16.3l.4 16.1l.5 -18.7l.4 -8.3l.4 11.6l.5 13.6l.4 -3.6l.5 9.8l.4 44.7l.4 -20.1l.5 -18.2l.4 33.6l.5 9.7l.4 -12.9l.4 -24.3l.5 -33.5l.4 -15.2l.5 18.8l.4 -3.7l.4 -38.7l.5 -2.7l.4 17.6l.5 -51.9l.4 1.5l.4 25.1l.5 -28.1l.4 -6l.5 7.1l.4 52.9l.4 -10.2l.5 -19.8l.4 51.3l.5 -5.5l.4 -11.4l.4 -31.6l.5 27.7l.4 -46.5l.5 38.6l.4 -39.7l.4 44.8l.5 32.4l.4 -16.7l.5 28.1l.4 -11l.4 11.4l.5 -8l.4 -30.7l.5 -60.1l.4 -6.9l.4 11.4l.5 23.3l.4 -25.9l.5 37.9l.4 20l.4 -10l.5 -3l.4 17.1l.5 11.6l.4 -74.5l.4 86.8l.5 -10.8l.4 3.8l.5 8.1l.4 -9.2l.4 -9l.5 -47.8l.4 38.7l.5 -19.5l.4 21.9l.4 -21.8l.5 -23l.4 -1.4l.5 5.8l.4 -15.9l.4 2l.5 -31.2l.4 -16.7l.5 7.6l.4 -23.2l.4 7.1l.5 16.6l.4 -45.7l.5 2.1l.4 33.3l.4 -39.8l.5 -3.7l.4 7.5l.5 30.3l.4 33.4l.4 57.2l.5 -5.2l.4 -23.8l.5 53.1l.4 7.4l.4 -6.7l.5 -40.5l.4 21.1l.5 -19.2l.4 -5.8l.4 7.5l.5 65.6l.4 34.9l.5 -7.8l.4 4.7l.4 1.3l.5 -42.1l.4 6.9l.5 -9.6l.4 -25l.4 52.4l.5 17.8l.4 -2.5l.5 -40.5l.4 34.6l.4 -6l.5 -29.9l.4 5.4l.5 -8.5l.4 10.9l.5 30.3l.4 -56.2l.4 -4.2l.5 6.5l.4 25l.5 -22.7l.4 11.1l.4 8.6l.5 9.2l.4 23.5l.5 18.3l.4 -18.2l.4 11.1l.5 -13l.4 36.6l.5 3.8l.4 -34.8l.4 -12.3l.5 53.6l.4 -25.5l.5 -39.1l.4 -18.6l.4 25.3l.5 27.2l.4 -46.4l.5 -4l.4 11.1l.4 45l.5 25.1l.4 -42.8l.5 29.6l.4 12.1l.4 1.7l.5 43.6l.4 7.4l.5 -4.6l.4 -4l.4 4.2l.5 -30.6l.4 15.8l.5 -21.2l.4 4l.4 6.1l.5 -12.2l.4 -29.3l.5 58.1l.4 -29.5l.4 -28.2l.5 -23.6l.4 41.4l.5 11.2l.4 4.8l.4 -.1l.5 -32.3l.4 18.2l.5 -46.1l.4 31.6l.4 13l.5 -35.2l.4 -9.5l.5 5.9l.4 23.1l.4 29.3l.5 -49.3l.4 50.7l.5 -49.6l.4 13.8l.4 0l.5 16l.4 -6l.5 21.8l.4 -16.1l.4 32.8l.5 -47.3l.4 -23.8l.5 1.5l.4 -6.5l.4 -26.8l.5 -29.5l.4 -4.8l.5 8.7l.4 -35.2l.4 -8.7l.5 13.3l.4 75.1l.5 2.8l.4 39l.4 47.1l.5 18.9l.4 2l.5 -8.9l.4 -48.7l.4 -43.6l.5 19.3l.4 -46.2l.5 -37.3l.4 -2.8l.4 11.5l.5 -39.7l.4 25.5l.5 57.7l.4 -8.2l.4 6.8l.5 37.1l.4 5.3l.5 -4.7l.4 -18.2l.4 -48l.5 22.2l.4 -.4l.5 -41.1l.4 7.1l.4 2.8l.5 28.8l.4 -9.4l.5 25.6l.4 10.3l.4 -12.6l.5 -6.9l.4 3.9l.5 -23.2l.4 2.2l.4 -48.1l.5 .9l.4 -32.1l.5 -4l.4 11.1l.4 -.7l.5 22.7l.4 12.1l.5 .5l.4 38.7l.4 -49.1l.5 70.3l.4 3l.5 -4.1l.4 29.3l.4 26.7l.5 -35.7l.4 18.6l.5 -1.8l.4 2.9l.4 -20.3l.5 -4l.4 26.9l.5 -22.3l.4 29.3l.4 -2.4l.5 -24.6l.4 16.5l.5 -5.4l.4 -4l.4 25.6l.5 -35.6l.4 -8.3l.5 10.5l.4 29.8l.4 -36.8l.5 25l.4 43.9l.5 7.5l.4 -39.5l.4 -13.4l.5 37.1l.4 -12l.5 18.7l.4 -29.7l.4 53.2l.5 12.6l.4 -55.9l.5 17.5l.4 5.4l.4 32.6l.5 8.3l.4 2.8l.5 -29.6l.4 -149.7l.4 -11.5l.5 10.9l.4 -14.8l.5 12.8l.4 30.9l.4 -20l.5 -8.5l.4 27.3l.5 -18.1l.4 -2.1l.4 8l.5 13.9l.4 48.2l.5 -74.4l.4 28.4l.4 -7.5l.5 -1l.4 36.7l.5 -13.7l.4 -1l.5 -21.3l.4 -6.7l.4 23.9l.5 -10.4l.4 -4.6l.5 25.9l.4 -36.3l.4 10.7l.5 31.4l.4 -16.3l.5 16.1l.4 -29.2l.4 32.2l.5 -.9l.4 6.7l.5 -6.5l.4 -29l.4 6.1l.5 -39l.4 -34.8l.5 28.3l.4 -39.4l.4 -55.6l.5 -7.7l.4 9.5l.5 5.2l.4 -1.8l.4 3.4l.5 49.5l.4 -48.3l.5 9.8l.4 13.5l.4 39.1l.5 10.3l.4 -18.9l.5 38.2l.4 -3.1l.4 23.9l.5 .9l.4 -26.5l.5 24l.4 -1.1l.4 18.7l.5 10.3l.4 8l.5 -4.2l.4 -14.1l.4 12.2l.5 -15.2l.4 -5.1l.5 20.3l.4 -.6l.4 4.5l.5 -13.4l.4 -18l.5 6.8l.4 -1.9l.4 -39.4l.5 11.4l.4 51.6l.5 -32.8l.4 -28l.4 24.3l.5 4.3l.4 -28.9l.5 12l.4 -13.8l.4 7.4l.5 15.9l.4 15.8l.5 9.7l.4 -4.9l.4 -20.3l.5 19.6l.4 1.3l.5 5.6l.4 -24.1l.4 28.4l.5 -2.7l.4 7.1l.5 1.7l.4 -30.2l.4 48.2l.5 .3l.4 -39.3l.5 27.4l.4 -12.7l.4 10.4l.5 31.5l.4 -7l.5 6.1l.4 -10l.4 -21.7l.5 27l.4 -48.5l.5 53.7l.4 17.3l.4 -12.5l.5 -30.8l.4 -34.5l.5 .2l.4 -27.7l.4 -20.4l.5 -12.1l.4 1.1l.5 57.6l.4 -52l.4 39.7l.5 -27.4l.4 -10.2l.5 34.4l.4 -2.5l.4 -5.9l.5 5.2l.4 -9.4l.5 22.8l.4 -16.1l.4 11.9l.5 23.6l.4 -46.6l.5 16.9l.4 -.2l.4 -.5l.5 -9l.4 23.3l.5 10.4l.4 -3.4l.4 -27.6l.5 47.3l.4 2.4l.5 -10.6l.4 -19.4l.4 4.8l.5 57.7l.4 -2.5l.5 -22.9l.4 -25.6l.4 45.2l.5 -19.6l.4 31.7l.5 -42.7l.4 22.6l.4 -11.5l.5 21.1l.4 -25.6l.5 32.8l.4 -23.9l.4 -8.1l.5 31l.4 -4.7l.5 -44.7l.4 43.2l.4 4.8l.5 3.6l.4 30.7l.5 -43.2l.4 14.4l.4 -31.5l.5 6.8l.4 19.5l.5 10.8l.4 .6l.4 18.6l.5 10.8l.4 .6l.5 -108.4l.4 -10.4l.4 7l.5 23.8l.4 4.7l.5 -17.2l.4 8.6l.4 -7l.5 66.7l.4 -51l.5 -8.4l.4 17.1l.4 22.4l.5 -13.2l.4 -8.4l.5 -19.2l.4 22l.4 -15.6l.5 33.2l.4 25.3l.5 -6.7l.4 -30.5l.4 -5.5l.5 -5.8l.4 38.9l.5 4.9l.4 6.7l.4 -6.7l.5 -31.2l.4 -18l.5 56.8l.4 -42.8l.4 50.8l.5 -83.8l.4 16.3l.5 -.4l.4 20.1l.5 4.2l.4 -28.1l.4 19.2l.5 -41.7l.4 12.2l.5 -18l.4 9.3l.4 -5.5l.5 15.1l.4 58.8l.5 -99.8l.4 19.5l.4 13.9l.5 -16l.4 23.1l.5 -52.5l.4 1.9l.4 -7l.5 4l.4 27.7l.5 5.7l.4 -12.6l.4 -20l.5 17.8l.4 40.3l.5 -15.4l.4 24.1l.4 -37.1l.5 43.3l.4 11.4l.5 -60.2l.4 54.6l.4 36.4l.5 -49.8l.4 39.1l.5 -15l.4 20.3l.4 -20.7l.5 -3.7l.4 11l.5 5.4l.4 -.5l.4 -1.7l.5 43.7l.4 -29.6l.5 36.8l.4 4.2l.4 -4.3l.5 -64.5l.4 52.2l.5 2.1l.4 8.9l.4 -36.5l.5 -9.9l.4 17.6l.5 -2.9l.4 21.2l.4 -27.4l.5 -11.9l.4 -20.4l.5 20.2l.4 3.4l.4 19.9l.5 -23.8l.4 22.6l.5 -4.4l.4 -42.4l.4 -9.7l.5 7.8l.4 5.8l.5 -13.7l.4 27.8l.4 -2.7l.5 8.4l.4 -20.9l.5 -24.2l.4 -5.3l.4 4.2l.5 23.1l.4 -16.2l.5 40.3l.4 -29.4l.4 27.2l.5 2.7l.4 -16.5l.5 9.6l.4 -.7l.4 23.8l.5 9.2l.4 -30.9l.5 29.9l.4 -39l.4 23.1l.5 4.5l.4 11.1l.5 -13l.4 -37.4l.4 -16.2l.5 -11.3l.4 12.7l.5 -14.7l.4 26.3l.4 7.4l.5 2.1l.4 -20.4l.5 32.6l.4 -25.2l.4 8.2l.5 25.6l.4 -21.3l.5 -32.7l.4 53.4l.4 -12.7l.5 -6.1l.4 35l.5 -36.7l.4 24l.4 -15.6l.5 44l.4 -93.2l.5 34.6l.4 -2.3l.4 9.8l.5 -35.7l.4 -9.6l.5 35.2l.4 -41.6l.4 8.8l.5 -11.9l.4 3.4l.5 -39.8l.4 10.8l.4 -11.9l.5 -2.9l.4 2.1l.5 53.8l.4 13.2l.4 -.9l.5 38.1l.4 -25.5l.5 22l.4 -16l.4 20.5l.5 55.3l.4 8.7l.5 -9.9l.4 -17l.4 -6.7l.5 -20.9l.4 26.4l.5 -14.9l.4 2.7l.4 15.7l.5 -34l.4 30.9l.5 -29.8l.4 -2.6l.4 27.9l.5 -21l.4 -20.4l.5 -12.4l.4 12.7l.4 -10.9l.5 47.5l.4 -8.3l.5 -20.6l.4 3.4l.4 22.7l.5 -55.9l.4 54.7l.5 -81.6l.4 -9l.4 26l.5 -3.9l.4 -6l.5 23.1l.4 -2.8l.4 -7.5l.5 52.7l.4 -24.6l.5 -27l.4 24.6l.4 -61.6l.5 49l.4 39.5l.5 -32.9l.4 17l.4 -22.9l.5 41.8l.4 -10.4l.5 .7l.4 21.7l.4 17.1l.5 -13.8l.4 -47.5l.5 45.6l.4 .3l.4 -25.1l.5 -6.4l.4 27.1l.5 30.5l.4 4l.5 -7.9l.4 -22.7l.4 -2.9l.5 -17.3l.4 7.8l.5 -25.1l.4 -25.3l.4 25.6l.5 12.1l.4 30.7l.5 -102.1l.4 26.8l.4 -13.1l.5 17.3l.4 -28.6l.5 14.5l.4 11.6l.4 -40.4l.5 7.9l.4 28.2l.5 -58.7l.4 -5.7l.4 6.2l.5 7.4l.4 25.6l.5 -8.4l.4 5.1l.4 1.1l.5 32.2l.4 -22l.5 -3.8l.4 19.7l.4 17.3l.5 -34.2l.4 61.9l.5 -24.3l.4 34.7l.4 19.1l.5 -15.4l.4 7l.5 -20.5l.4 -5.2l.4 -25.3l.5 33.3l.4 -7.9l.5 -37.2l.4 52l.4 24.1l.5 -23l.4 14.3l.5 -29.4l.4 -15.7l.4 20.8l.5 -9l.4 -16.5l.5 10.9l.4 -8.6l.4 5.6l.5 71.7l.4 24.7l.5 -13.3l.4 3.4l.4 -48.7l.5 -15.8l.4 47l.5 15.9l.4 -64.4l.4 -10.5l.5 -10.1l.4 19.4l.5 -2.1l.4 -11.7l.4 17.5l.5 -37.4l.4 0l.5 -17.6l.4 48.4l.4 -10.6l.5 .3l.4 -47.4l.5 39.2l.4 -25.3l.4 4.2l.5 -7.2l.4 -22.3l.5 -1.4l.4 -31.8l.4 15.4l.5 2.1l.4 -23l.5 20.7l.4 19.1l.4 -39.7l.5 -13.8l.4 -4.5l.5 5.6l.4 63.1l.4 -23.2l.5 6.3l.4 -17.5l.5 39.8l.4 14.3l.4 -12.2l.5 16l.4 -4.3l.5 36.3l.4 20.4l.4 -10.7l.5 11l.4 -.7l.5 -5.4l.4 5.8l.4 15.7l.5 18.8l.4 6l.5 28.7l.4 3.9l.4 11.9l.5 -12.2l.4 -61.5l.5 -58.3l.4 -13.6l.4 13.7l.5 -3.8l.4 4.7l.5 45.7l.4 -56.5l.4 10.3l.5 12.3l.4 -9.1l.5 14.6l.4 4.4l.4 8.9l.5 -13.5l.4 17.2l.5 -19.3l.4 20l.4 12.5l.5 -56.6l.4 31.2l.5 9.3l.4 -40l.4 -22l.5 68.3l.4 -17.9l.5 29.7l.4 -14.6l.4 1.2l.5 -5.5l.4 17.1l.5 13.7l.4 -31.3l.4 -154.2l.5 -7.6l.4 4.5l.5 25.3l.4 .4l.4 -5.5l.5 43l.4 -26.4l.5 31l.4 -31.5l.4 43.3l.5 9.3l.4 -13.4l.5 -12.6l.4 36.1l.4 12.1l.5 -5.5l.4 3.9l.5 38.5l.4 -13.3l.4 .9l.5 32l.4 -10.2l.5 -6.6l.4 38.2l.4 12.1l.5 6.1l.4 -4.7l.5 -15.6l.4 14.1l.4 -19.4l.5 -3.1l.4 -5l.5 4.2l.4 -19.3l.4 3.3l.5 -17.4l.4 38.8l.5 -59.6l.4 29.8l.4 -39.7l.5 26.1l.4 11.4l.5 -51.7l.4 52.5l.5 -57.7l.4 -1.2l.4 18.6l.5 -32.1l.4 37.2l.5 -34.4l.4 -13.7l.4 7.5l.5 5l.4 26.5l.5 -25.5l.4 10.9l.4 30.5l.5 -28l.4 29.5l.5 -28.9l.4 50.8l.4 12.2l.5 -46.8l.4 -20l.5 17.4l.4 56.2l.4 -26.4l.5 31.6l.4 -48.4l.5 6.7l.4 14.9l.4 22.3l.5 -26.7l.4 -17.2l.5 25l.4 -5.4l.4 7l.5 -14.6l.4 -10l.5 11.5l.4 -2.3l.4 -13.7l.5 -7.6l.4 4l.5 10l.4 -4.5l.4 63.1l.5 -29.1l.4 38l.5 5.1l.4 -8.8l.4 -27.5l.5 20.8l.4 -47.3l.5 39.7l.4 -38.3l.4 -9.2l.5 4.4l.4 -8.5l.5 -5.3l.4 -17.8l.4 -30.5l.5 35.8l.4 -43.2l.5 -21.4l.4 26.2l.4 -12.8l.5 -21.4l.4 -29.7l.5 -5l.4 5.9l.4 25.1l.5 -14l.4 23.1l.5 30.7l.4 -4.6l.4 .3l.5 36.9l.4 9.6l.5 -9.2l.4 29.6l.4 10.8l.5 -13.4l.4 -20l.5 -22.7l.4 30.8l.4 -10.9l.5 -11.1l.4 9.4l.5 -2.1l.4 -20l.4 .3l.5 -6.6l.4 39.6l.5 -62.5l.4 28.9l.4 15.3l.5 -40.5l.4 -.3l.5 -3.1l.4 -19l.4 56.1l.5 -31l.4 -20l.5 6.5l.4 13.2l.4 -12.7l.5 -14l.4 25l.5 -30.2l.4 -3l.4 6l.5 9.6l.4 23.1l.5 -6.9l.4 72.5l.4 -53.5l.5 28.9l.4 -23.3l.5 2l.4 26.9l.4 2.9l.5 3.7l.4 4.5l.5 16.5l.4 18.8l.4 .5l.5 -40.3l.4 33.4l.5 -4.1l.4 -47.7l.4 1.2l.5 -.7l.4 -9l.5 4l.4 58.6l.4 32.6l.5 -10.4l.4 -30.8l.5 11.4l.4 -11.8l.4 -54.7l.5 19.6l.4 35.2l.5 -45.7l.4 49.2l.4 -29.1l.5 3l.4 -2.9l.5 -44.4l.4 18l.4 -10.1l.5 22.1l.4 22.1l.5 -38.1l.4 2.5l.4 -22.7l.5 7.1l.4 -.8l.5 -2.3l.4 12.2l.4 -29.2l.5 -5.2l.4 3.5l.5 -.8l.4 37l.4 -6l.5 -29.9l.4 46.7l.5 -14.3l.4 38.4l.4 -5.5l.5 -2.1l.4 37.8l.5 -31.8l.4 2.4l.4 12.2l.5 -4.2l.4 -26.5l.5 20.7l.4 -10.3l.4 -26.2l.5 -27.8l.4 47.4l.5 -5.1l.4 -15.5l.4 -5.6l.5 8.9l.4 -36.2l.5 -28.6l.4 -8l.4 4.4l.5 130.3l.4 19.2l.5 -6.4l.4 3.4l.4 -34.6l.5 5.5l.4 14.4l.5 -13.5l.4 -40.9l.4 -22.2l.5 48.6l.4 -70.6l.5 -21.9l.4 -10.5l.5 55.9l.4 -59.6l.4 17.8l.5 5.3l.4 31.5l.5 -50.4l.4 31.2l.4 7.8l.5 24.9l.4 -29.9l.5 13l.4 -8.1l.4 30.2l.5 -.1l.4 -23.6l.5 21.5l.4 -37.5l.4 44.3l.5 11.6l.4 -8.6l.5 -41.9l.4 -89.3l.4 -3.2l.5 6l.4 16.5l.5 28.5l.4 -11.7l.4 30l.5 18l.4 -11.3l.5 -13.3l.4 29.7l.4 -22.1l.5 -14.4l.4 64.7l.5 22.4l.4 -5l.4 -26.8l.5 -53.5l.4 59.7l.5 33.9l.4 -13.5l.4 42.5l.5 -37.2l.4 33l.5 1.4l.4 7.5l.4 -26.4l.5 32.9l.4 14.1l.5 -6.4l.4 -11.4l.4 23.3l.5 36.4l.4 8.3l.5 -3.2l.4 -42.1l.4 -16.8l.5 -28.6l.4 -10.2l.5 -60.4l.4 2.5l.4 9.9l.5 7.4l.4 29.1l.5 -39.4l.4 35.6l.4 0l.5 17.7l.4 -1.8l.5 46.2l.4 -103.7l.4 39.3l.5 20.2l.4 20l.5 -15l.4 -9.5l.4 -26.8l.5 -4.5l.4 1l.5 39.1l.4 -55.6l.4 62.9l.5 -42.8l.4 -36l.5 13.4l.4 -4.6l.4 -53.5l.5 -4.5l.4 10.4l.5 -3.5l.4 41.7l.4 1.4l.5 -42.2l.4 51.6l.5 3.4l.4 19.5l.4 -21.4l.5 14.9l.4 3.6l.5 -7.3l.4 42.7l.4 -8.4l.5 16.5l.4 -18.7l.5 21.3l.4 -37.5l.4 11.7l.5 37.7l.4 -19.6l.5 1.7l.4 16.2l.4 -30l.5 40.3l.4 11.5l.5 7.6l.4 11.8l.4 1l.5 -31.8l.4 -36.4l.5 1.4l.4 -27.9l.4 -9.8l.5 -10.7l.4 14.4l.5 18l.4 -.9l.4 -24.5l.5 15.6l.4 -16.4l.5 -41.8l.4 -1.1l.4 15.4l.5 .7l.4 .8l.5 -56.7l.4 -18.7l.4 72.4l.5 -53.5l.4 18.5l.5 -26.6l.4 -35.8l.4 48.7l.5 -26l.4 -32.7l.5 -10.4l.4 11l.4 33.8l.5 34.8l.4 -19.9l.5 31.7l.4 33.6l.4 -34.2l.5 31.3l.4 25l.5 29.8l.4 -7.2l.4 1.5l.5 39.7l.4 -9.5l.5 34.6l.4 12.8l.4 2.9l.5 19l.4 2.2l.5 -54.3l.4 32.3l.4 -18.1l.5 -7.1l.4 3.5l.5 17.5l.4 -30.9l.4 -7.8l.5 -23.1l.4 17.5l.5 -1l.4 -23.4l.4 8.7l.5 -10.1l.4 -12.8l.5 7.9l.4 111.6l.4 12.6l.5 42.7l.4 12.5l.5 -9.8l.4 -34l.4 6l.5 -2.6l.4 -3.2l.5 22.4l.4 4.1l.4 -34.5l.5 4.1l.4 -39l.5 -31.1l.4 32.5l.4 1.7l.5 17.9l.4 15.2l.5 -48.3l.4 15.6l.5 -9.1l.4 -23.1l.4 7l.5 -14.1l.4 18.2l.5 -57.4l.4 -30.5l.4 43.8l.5 11.9l.4 5.3l.5 -29.7l.4 24.9l.4 -21.2l.5 29.4l.4 -25.9l.5 -3.9l.4 43l.4 -41.2l.5 -1.7l.4 48l.5 -11.1l.4 -45.7l.4 72.6l.5 -45.5l.4 18.2l.5 9.5l.4 45.2l.4 -38.1l.5 21.3l.4 -18.2l.5 15.7l.4 -35.7l.4 30.8l.5 17l.4 7l.5 -5.3l.4 -9.1l.4 -19.3l.5 -23.9l.4 12.9l.5 -45l.4 20.5l.4 -4l.5 -20.3l.4 -11.4l.5 -.6l.4 -21.8l.4 -1.2l.5 11l.4 -61.2l.5 55.3l.4 -56.3l.4 -7l.5 2.7l.4 14.1l.5 -1.5l.4 27.6l.4 1.2l.5 12.6l.4 -19.7l.5 -30.9l.4 14.8l.4 14l.5 16.1l.4 -34.4l.5 28.1l.4 7.4l.4 -11l.5 10.2l.4 51.3l.5 -43.6l.4 42l.4 -32.5l.5 -16.7l.4 27.3l.5 -17l.4 9l.4 -41.3l.5 53.8l.4 -16.4l.5 36.3l.4 -18.2l.4 -7.6l.5 -11.1l.4 23.4l.5 -5.7l.4 -5.8l.4 54.7l.5 -37.9l.4 22.9l.5 13.6l.4 -19l.4 6.6l.5 -.3l.4 11.2l.5 -5.5l.4 .8l.4 -5.1l.5 -10.1l.4 3.1l.5 -1.9l.4 18.7l.4 24.4l.5 -42.6l.4 8.8l.5 -5.2l.4 20.6l.4 23.5l.5 -24.7l.4 14.8l.5 -49.8l.4 45.2l.4 21.9l.5 6.5l.4 -10.4l.5 -5.3l.4 -14.4l.4 24.4l.5 -40.1l.4 5.2l.5 -7.6l.4 6.4l.4 -41.2l.5 59.7l.4 -17.4l.5 -20.3l.4 -5.8l.4 14.2l.5 -6.3l.4 -18.5l.5 1.8l.4 6.9l.4 -18.4l.5 -1.2l.4 -5.1l.5 -1.9l.4 -21.7l.4 3.9l.5 22.7l.4 5.2l.5 -19.8l.4 -16.7l.4 -17.9l.5 34.2l.4 22.1l.5 -12.7l.4 -31l.4 -15.5l.5 -4.7l.4 10.4l.5 19.6l.4 -20.2l.4 39.5l.5 .1l.4 -34.5l.5 10.8l.4 34.9l.4 .6l.5 -39.9l.4 27l.5 19.9l.4 -8l.4 -24.9l.5 19.6l.4 19.3l.5 -.9l.4 -26.1l.4 67.8l.5 -39.3l.4 -31.4l.5 25.6l.4 -45l.4 43.1l.5 15.3l.4 50.8l.5 -41.1l.4 6l.4 10.3l.5 -8.3l.4 -13.3l.5 41l.4 -13.9l.4 22.7l.5 -7.6l.4 -36.1l.5 32.4l.4 11l.4 -5.1l.5 -10.6l.4 -15.2l.5 -14.9l.4 41.5l.4 -4.9l.5 -28.9l.4 -24.4l.5 5.7l.4 -5.5l.5 -5.6l.4 -4.5l.4 20.9l.5 -1.7l.4 -22.4l.5 -10.4l.4 4.4l.4 57.8l.5 -33.2l.4 -11.1l.5 62.4l.4 -46.1l.4 -17.2l.5 30.8l.4 -30l.5 8l.4 28.1l.4 -30.5l.5 -15.9l.4 44.1l.5 3.8l.4 -42.2l.4 21.4l.5 29.4l.4 -15.2l.5 8.9l.4 -24.2l.4 -15.5l.5 -4.1l.4 -.6l.5 4.1l.4 -61.8l.4 9.8l.5 32.2l.4 7.5l.5 -31.6l.4 7.6l.4 -26.7l.5 -11.4l.4 24.6l.5 -9.9l.4 -14.2l.4 -21l.5 6.9l.4 -11.3l.5 11.8l.4 16.9l.4 -.1l.5 22.1l.4 2.3l.5 31.8l.4 -2.6l.4 -23.6l.5 -18.3l.4 41l.5 -19.3l.4 46.1l.4 -53.8l.5 25.3l.4 43.1l.5 -25.1l.4 18.8l.4 3.4l.5 -17.5l.4 30.6l.5 -28.5l.4 15.3l.4 52.4l.5 -40.1l.4 15.5l.5 -23.2l.4 51.6l.4 -39.1l.5 8.2l.4 7.4l.5 33.8l.4 4.6l.4 -9.1l.5 -38.3l.4 -.1l.5 -24.8l.4 -6l.4 3.7l.5 -1.5l.4 -25.6l.5 -7.2l.4 11.3l.4 35.1l.5 -5.9l.4 -.2l.5 12.2l.4 -29.6l.4 41l.5 -20.4l.4 -10.8l.5 19.7l.4 -26.3l.4 57.7l.5 -27.2l.4 -31.6l.5 9.5l.4 14.3l.4 1.4l.5 21.9l.4 10.7l.5 5l.4 -6.9l.4 -26.3l.5 42.2l.4 4.4l.5 -59.1l.4 52.1l.4 9.7l.5 -7.8l.4 -5.6l.5 -17.8l.4 -14.4l.4 -31.4l.5 -22.9l.4 15.2l.5 -4.6l.4 -8.1l.4 -30.2l.5 4.7l.4 14.8l.5 8.2l.4 -23.4l.4 -.9l.5 -3.5l.4 -20.1l.5 -11.9l.4 5.2l.4 30.5l.5 -23.3l.4 54.8l.5 -2.3l.4 11.4l.4 -10.8l.5 1.8l.4 -16.1l.5 37.3l.4 26.6l.4 -73.9l.5 94.2l.4 -46.2l.5 22.7l.4 -27.7l.4 10.3l.5 16.3l.4 -22.1l.5 36.2l.4 -37l.4 9.3l.5 -27.2l.4 -.4l.5 -.5l.4 -9.1l.4 -9.2l.5 9l.4 17l.5 47.2l.4 -5.4l.4 -16.5l.5 -12l.4 -24.5l.5 10.9l.4 22.2l.4 -12.3l.5 -23.2l.4 22.8l.5 -10.1l.4 -21.4l.4 11.2l.5 29.9l.4 -61l.5 38.3l.4 -25.7l.4 12l.5 -7.6l.4 -5.4l.5 -11.5l.4 0l.4 10.1l.5 -7.3l.4 -39.3l.5 33.1l.4 13.6l.4 -11.1l.5 -16.4l.4 -16.7l.5 -5.6l.4 -10.6l.4 10.3l.5 -2.6l.4 19.2l.5 -.7l.4 10.2l.4 -23.2l.5 29.5l.4 5.9l.5 6.2l.4 43.5l.5 -38.2l.4 8.6l.4 35.7l.5 -27.7l.4 39.5l.5 -19.3l.4 -28.2l.4 -8.8l.5 9.4l.4 -13.7l.5 -1.5l.4 -20.3l.4 15.7l.5 -31.9l.4 -3.2l.5 -1.5l.4 -28.2l.4 11.2l.5 -15.3l.4 -12.3l.5 9.8l.4 149.6l.4 2.6l.5 -10l.4 -43.9l.5 38.4l.4 -39.7l.4 -35.8l.5 39.6l.4 -33.4l.5 22.7l.4 -16l.4 22.7l.5 -20.4l.4 -21.6l.5 31.7l.4 30.3l.4 -59.1l.5 36.6l.4 -9.1l.5 6.2l.4 -28.3l.4 9.9l.5 51.8l.4 -20.1l.5 -8.6l.4 50.6l.4 -6.6l.5 -4.7l.4 -28.9l.5 43.6l.4 3.8l.4 -6.7l.5 -61l.4 8l.5 27.3l.4 -22.1l.4 -2.8l.5 -13l.4 -9.4l.5 14.2l.4 39.8l.4 -69.4l.5 -34.7l.4 -12.9l.5 10.8l.4 17.1l.4 5.4l.5 -8.9l.4 -2.3l.5 8.1l.4 -4.8l.4 -2.6l.5 65.7l.4 -23.9l.5 14.4l.4 -5.8l.4 -34.5l.5 32.6l.4 -14.6l.5 5.4l.4 17.4l.4 9.2l.5 -.2l.4 -1.8l.5 -10.6l.4 3.9l.4 21.7l.5 16.2l.4 -23.7l.5 -29l.4 9.7l.4 8.9l.5 -1.6l.4 1.9l.5 -2.1l.4 -19l.4 -16.1l.5 -23.8l.4 45.8l.5 -35l.4 -10.9l.4 6.3l.5 28.5l.4 42.6l.5 8.6l.4 -13.6l.4 -5.7l.5 -8.1l.4 -13.4l.5 15.1l.4 28.6l.4 -37.8l.5 11.4l.4 -57.1l.5 55l.4 -40.8l.4 23.2l.5 27.7l.4 -34l.5 17.5l.4 -20.5l.4 -4.1l.5 10.5l.4 14.3l.5 -21.5l.4 -4.1l.4 -20.5l.5 -16.4l.4 34.4l.5 -7.9l.4 7.2l.4 13.5l.5 -6.2l.4 -35.6l.5 20.8l.4 -1.3l.4 -12.3l.5 4.3l.4 -23.3l.5 5l.4 41.2l.4 -14l.5 -14.4l.4 62.3l.5 -20.7l.4 -1.2l.4 27l.5 10.5l.4 -8.2l.5 -2.8l.4 7.5l.4 34.5l.5 -11.4l.4 19.9l.5 -40.8l.4 35.5l.4 9.5l.5 5.5l.4 -22.2l.5 37.2l.4 38l.4 6.4l.5 -12.4l.4 -40.1l.5 -22.3l.4 22l.4 -29.8l.5 -1.9l.4 16.1l.5 -8.5l.4 -16.1l.4 -55.1l.5 12.3l.4 25.2l.5 -56.8l.4 39.1l.4 -35.2l.5 9.9l.4 -36.8l.5 -24.6l.4 -6.6l.4 -6.4l.5 -6.1l.4 3l.5 47.6l.4 -40.3l.4 34.4l.5 16.9l.4 5.9l.5 9.4l.4 -3.4l.4 -40.6l.5 60.9l.4 1.1l.5 3.7l.4 20.6l.5 12.4l.4 -4.3l.4 32.6l.5 20.7l.4 -31.3l.5 -5.9l.4 -12.1l.4 44.3l.5 -40.2l.4 76l.5 -13.1l.4 -33.4l.4 20.8l.5 -34.4l.4 -8l.5 33.9l.4 -38.9l.4 21.9l.5 -10.9l.4 30.5l.5 -28.3l.4 21.9l.4 -17.6l.5 -36.1l.4 -11.3l.5 -22.2l.4 39.5l.4 -50.6l.5 26.8l.4 -20.5l.5 17.7l.4 23.2l.4 -35l.5 -5.8l.4 9.6l.5 30.2l.4 -26l.4 40.8l.5 4.8l.4 -9.7l.5 10.1l.4 52.8l.4 -.7l.5 3.1l.4 -16.2l.5 18.8l.4 36.6l.4 8.7l.5 -6.2l.4 -33l.5 -15.9l.4 -2.4l.4 28.8l.5 -19.5l.4 -25.3l.5 65.3l.4 -74.3l.4 36.1l.5 -27.3l.4 30.8l.5 -15.1l.4 16l.4 -24.6l.5 -16.7l.4 41.1l.5 -32.9l.4 -6l.4 -1.7l.5 -14.5l.4 18.7l.5 23.6l.4 -6.6l.4 -26.8l.5 4l.4 -.8l.5 -30.6l.4 -10.1l.4 10.3l.5 -3.8l.4 29.5l.5 -28.6l.4 26.3l.4 9.5l.5 -17.7l.4 13.8l.5 23.5l.4 -52.6l.4 -8.1l.5 37.3l.4 -.4l.5 48.4l.4 -19.6l.4 -7.4l.5 -10.5l.4 -34.7l.5 14.2l.4 22l.4 12.2l.5 15.9l.4 6.5l.5 -13.1l.4 -34.8l.4 -.9l.5 -17.4l.4 36.9l.5 -71.2l.4 45.9l.4 -3.2l.5 -62.6l.4 24.4l.5 24.7l.4 -46.3l.4 -.1l.5 4.1l.4 20.6l.5 -20.5l.4 -32.6l.4 -20.5l.5 -9.2l.4 30.3l.5 -56l.4 24.5l.4 16.9l.5 -42.5l.4 11l.5 -16.6l.4 -8.4l.4 5.1l.5 27l.4 7.5l.5 13.1l.4 -23.7l.4 51.6l.5 -17l.4 24.5l.5 -4.7l.4 65.7l.4 -27.7l.5 51.6l.4 -45.3l.5 16.9l.4 45l.4 -26.9l.5 26.1l.4 24.2l.5 -25.4l.4 -9.3l.4 5.4l.5 22l.4 -14.8l.5 14l.4 -34.2l.4 -7.4l.5 -16.2l.4 13.4l.5 -9l.4 6.2l.4 -19.6l.5 1.4l.4 4.8l.5 22.4l.4 -29.1l.4 -13l.5 -4l.4 12l.5 68l.4 31.7l.4 -5.7l.5 -68.7l.4 24.3l.5 22.8l.4 3.3l.4 -26.3l.5 -32l.4 14.1l.5 -45.4l.4 21.8l.4 -27.8l.5 17.8l.4 22.7l.5 9l.4 -45.1l.4 -24l.5 -10.5l.4 6.7l.5 47l.4 -3.5l.4 -2.9l.5 -4.1l.4 27.6l.5 -34.4l.4 5l.4 63.6l.5 -69.7l.4 29.8l.5 -12.9l.4 41.1l.4 -31.6l.5 2l.4 4.3l.5 26l.4 -32.6l.5 -11.8l.4 20.4l.4 -11.5l.5 11l.4 -24.5l.5 -12l.4 11l.4 -4l.5 5l.4 -25.9l.5 -44.3l.4 28.5l.4 -5.8l.5 -8.9l.4 5.8l.5 -23.2l.4 21.2l.4 -42l.5 -9.4l.4 10.6l.5 25.1l.4 120.2l.4 7.1l.5 -4.2l.4 -31.4l.5 1.5l.4 -20.2l.4 7.6l.5 -9l.4 32.7l.5 -23.5l.4 -24.8l.4 2.4l.5 -8.1l.4 -39.9l.5 37.8l.4 -41.3l.4 22.4l.5 -19.3l.4 9.2l.5 4.1l.4 -22.9l.4 -27.7l.5 -2.8l.4 11.4l.5 -25.9l.4 -5.6l.4 -.9l.5 -11l.4 11.5l.5 -25.8l.4 4.7l.4 -22.7l.5 -2.3l.4 -13.6l.5 11l.4 21l.4 37.8l.5 1.8l.4 -17.9l.5 58.6l.4 -51.9l.4 50.5l.5 27.2l.4 -24.9l.5 65.9l.4 -32.2l.4 48.5l.5 -17.2l.4 29.2l.5 -4.6l.4 48.4l.4 -39.5l.5 12.2l.4 -6.2l.5 -10.8l.4 -9.1l.4 13.1l.5 11.6l.4 -1.9l.5 -7.4l.4 -13.7l.4 16.6l.5 -34.1l.4 19.2l.5 -7.4l.4 -12.1l.4 4.6l.5 49.5l.4 49.6l.5 -5.7l.4 -11.1l.4 9.5l.5 -.7l.4 -12.9l.5 .8l.4 -12.3l.4 17.4l.5 -58.6l.4 24.8l.5 21.8l.4 -6.2l.4 -17.8l.5 -10.3l.4 21l.5 -22.5l.4 -21.4l.4 43.4l.5 -33.3l.4 8.9l.5 -29.8l.4 21.5l.4 -18.6l.5 -6.7l.4 23.7l.5 -6.7l.4 25l.4 -3.8l.5 .9l.4 1.7l.5 -15.2l.4 44.8l.4 .8l.5 -8.4l.4 -49.7l.5 80.3l.4 -28.4l.4 15.2l.5 -2l.4 13.7l.5 -24.8l.4 21.7l.4 -11.1l.5 -25.3l.4 12.7l.5 -39.7l.4 2.3l.4 33.7l.5 22.9l.4 -49.6l.5 42l.4 -22.6l.4 -20l.5 -6.1l.4 11.4l.5 26.7l.4 -10.2l.4 13.3l.5 12.1l.4 10.7l.5 -8.2l.4 -5.2l.4 -19.1l.5 -44.9l.4 -2.8l.5 33.5l.4 -14.8l.4 40.5l.5 -41.9l.4 28.1l.5 -14.8l.4 31.9l.4 -31.8l.5 -.3l.4 -26.9l.5 25.3l.4 3.5l.4 -18.3l.5 14.1l.4 -37.7l.5 13.9l.4 10.1l.4 -16.9l.5 28.4l.4 -14.3l.5 -27.7l.4 -8.8l.4 15.9l.5 -16.8l.4 4l.5 -17l.4 35.6l.4 -14.6l.5 .1l.4 7.9l.5 -14.6l.4 -26l.4 8.5l.5 40.4l.4 3.4l.5 7.3l.4 22.5l.4 -56.7l.5 23.1l.4 52.6l.5 11.6l.4 -38.4l.5 45.7l.4 2l.4 -38.1l.5 22.2l.4 36.9l.5 5.8l.4 -11.5l.4 -8.1l.5 .5l.4 -36.6l.5 -16.8l.4 6.9l.4 35.1l.5 3.4l.4 -58.7l.5 8l.4 -49.2l.4 67l.5 -56.5l.4 37.8l.5 -38.7l.4 -7.8l.4 5.2l.5 33.7l.4 14.8l.5 -36.1l.4 -8.7l.4 29.7l.5 20.3l.4 -45.8l.5 8.2l.4 38.7l.4 -27.7l.5 -29l.4 8.1l.5 1.1l.4 2.5l.4 -23.1l.5 -14.7l.4 -35.1l.5 .7l.4 -10.7l.4 11.6l.5 16.8l.4 6.2l.5 20.8l.4 -22.5l.4 -12.7l.5 46.4l.4 -21.5l.5 6l.4 18.4l.4 -9.6l.5 7.8l.4 -17l.5 52.7l.4 -48.9l.4 57.4l.5 -47.7l.4 15.2l.5 31.2l.4 13.3l.4 -6.3l.5 -27.6l.4 -18.7l.5 42l.4 -22.3l.4 4.8l.5 -15.1l.4 -9.3l.5 20.5l.4 -10.4l.4 14l.5 -21.8l.4 -35.2l.5 40.7l.4 -17.3l.4 -8.6l.5 -60.5l.4 42l.5 17.6l.4 -18.8l.4 14.7l.5 3.9l.4 -15.2l.5 -21.4l.4 24.5l.4 -4.3l.5 -15.2l.4 -36l.5 10.2l.4 37.8l.4 -24.1l.5 -33.7l.4 29.3l.5 1.6l.4 8.9l.4 -7.1l.5 -4.1l.4 -25.9l.5 -21.1l.4 18.2l.4 36.9l.5 -56.5l.4 41l.5 -38.4l.4 -2.5l.4 -4.7l.5 9.9l.4 114.3l.5 27.3l.4 -4.3l.4 -5.1l.5 -47.8l.4 38.8l.5 -4.7l.4 6.8l.4 -62.7l.5 62.2l.4 -42.5l.5 16.8l.4 -5.3l.4 -12.8l.5 1.7l.4 1.3l.5 16.6l.4 9.8l.4 -21.9l.5 20.3l.4 -14l.5 18.6l.4 -50.9l.4 28.1l.5 -20.2l.4 -4.8l.5 5.5l.4 42.6l.4 -6.2l.5 14.5l.4 -9l.5 33.2l.4 7.4l.4 -2.2l.5 -8.6l.4 7.2l.5 -37.7l.4 3l.4 32.6l.5 -13.1l.4 -53.2l.5 40.9l.4 -10.6l.4 -16.4l.5 -1.5l.4 -14.2l.5 3.7l.4 -7.7l.4 -10.6l.5 12.8l.4 -12.7l.5 29.1l.4 3.6l.4 -26.4l.5 -6.5l.4 16.7l.5 -30.7l.4 -6.5l.4 29.2l.5 -10.3l.4 -8.3l.5 36l.4 10.6l.4 -20.5l.5 14.3l.4 -1.6l.5 20.1l.4 35.1l.4 -81.2l.5 94.2l.4 -18.7l.5 -22.8l.4 20.6l.4 -5.9l.5 14.6l.4 4.5l.5 11.3l.4 10.4l.4 -5.6l.5 -32.1l.4 4.4l.5 19.1l.4 -27.5l.4 12.2l.5 -2.3l.4 -7.2l.5 -29.2l.4 31.4l.4 -8.8l.5 38.2l.4 -68.2l.5 39.2l.4 -32.3l.5 -.4l.4 37.6l.4 -39.7l.5 16l.4 -16.2l.5 -23.4l.4 10.9l.4 -7.1l.5 1.5l.4 39.1l.5 -30.8l.4 -46.8l.4 69.6l.5 -32.8l.4 7.6l.5 -37l.4 -7l.4 9.7l.5 15.2l.4 .4l.5 5.5l.4 12.6l.4 25.8l.5 -3.3l.4 -5.2l.5 22.8l.4 -65.9l.4 51.6l.5 10.9l.4 3.7l.5 26.6l.4 -20.4l.4 28.5l.5 -26.4l.4 21.9l.5 -7.2l.4 -2.6l.4 19.8l.5 5.7l.4 -24.9l.5 41.4l.4 -19.7l.4 11.7l.5 -51.2l.4 57.7l.5 16.3l.4 12l.4 -11.4l.5 -34.3l.4 -2.5l.5 -30.8l.4 19.4l.4 -32.8l.5 12.5l.4 13.7l.5 .7l.4 -4.7l.4 -41l.5 -22.4l.4 21.2l.5 13.8l.4 -56.6l.4 37l.5 -37.7l.4 -54.9l.5 43.5l.4 28.5l.4 -30.9l.5 -42.2l.4 .4l.5 6.9l.4 12.1l.4 12.4l.5 24.1l.4 -1.9l.5 14.6l.4 42.3l.4 24.3l.5 -52.6l.4 23.1l.5 29.9l.4 8.5l.4 -32.5l.5 95.1l.4 -34.9l.5 -8.4l.4 -47.2l.4 43.1l.5 -30.9l.4 32.4l.5 -5.7l.4 -6.5l.4 6.4l.5 -21.8l.4 13.8l.5 -6.1l.4 -20l.4 10.7l.5 63.5l.4 -47.4l.5 -7.3l.4 38.8l.4 -44l.5 -6.6l.4 23.2l.5 28.2l.4 14.7l.4 -45.5l.5 13.6l.4 1.6l.5 -16.2l.4 4.4l.4 8.7l.5 3.1l.4 24l.5 -58.8l.4 49.8l.4 -.6l.5 21.5l.4 -33.9l.5 1.6l.4 11.1l.4 -12.1l.5 .8l.4 0l.5 1.5l.4 -5.9l.4 9.9l.5 -2.1l.4 2.3l.5 -10.7l.4 47.4l.4 2.7l.5 -6.1l.4 -48.2l.5 28l.4 -24.4l.4 -3.9l.5 -2.6l.4 -10.7l.5 -21.2l.4 -10.8l.4 8.2l.5 18.4l.4 -4.8l.5 17.3l.4 9.7l.4 11.5l.5 -6.2l.4 -22.6l.5 4.6l.4 -1.9l.4 32.8l.5 -25.4l.4 -10.3l.5 -1.5l.4 38.1l.4 -30.2l.5 -33.2l.4 69.4l.5 -9.4l.4 4.1l.4 -.2l.5 -14.1l.4 -7l.5 -11.4l.4 -21.4l.4 -31.2l.5 -1.5l.4 42.1l.5 4l.4 -20l.4 -20.5l.5 23.4l.4 -17.9l.5 -3.8l.4 -12.1l.4 -18.1l.5 -1.2l.4 8.4l.5 52.1l.4 6.3l.4 -35.3l.5 16.2l.4 -7.1l.5 8.3l.4 8.8l.4 13.4l.5 -37.3l.4 61.8l.5 -34.4l.4 -13.4l.4 69.4l.5 -60.5l.4 17.8l.5 -15.7l.4 36.5l.4 -79l.5 58.5l.4 -40.4l.5 61.2l.4 9l.5 -26.5l.4 -34.7l.4 37.1l.5 18.8l.4 -40.6l.5 -14.4l.4 -8.5l.4 -8.6l.5 8.7l.4 57l.5 25.3l.4 -11.7l.4 -30l.5 -23.9l.4 -10.8l.5 20.3l.4 7.4l.4 5.2l.5 -11.7l.4 -44.9l.5 34.2l.4 -29.5l.4 34.5l.5 -36.9l.4 -4.4l.5 -10.3l.4 25.9l.4 -26.6l.5 52.4l.4 -36.5l.5 -51.5l.4 17.9l.4 16.8l.5 -9.9l.4 -8.4l.5 -12.1l.4 -37.1l.4 -2.5l.5 36.4l.4 -33.6l.5 -14.5l.4 -2.2l.4 12.6l.5 -3.4l.4 38.3l.5 -14.7l.4 12.4l.4 37.4l.5 -20.4l.4 11.8l.5 14.7l.4 -32.8l.4 77l.5 -18.9l.4 -11.4l.5 41.3l.4 -33.6l.4 12.4l.5 -3.2l.4 27.7l.5 -6.5l.4 16.7l.4 -22l.5 15.2l.4 .1l.5 -4.3l.4 -3.7l.4 -9.3l.5 -21.5l.4 -26.7l.5 43.4l.4 -38.5l.4 31.5l.5 -11.2l.4 -3.4l.5 -2.3l.4 8l.4 -34.4l.5 -2.7l.4 13.2l.5 118.8l.4 8.4l.4 -7.1l.5 -27.1l.4 33.7l.5 -30.7l.4 -9.2l.4 10.5l.5 -41.8l.4 10.4l.5 7.2l.4 -14.4l.4 27.1l.5 -25.8l.4 4.6l.5 -38.5l.4 -7.9" fill="none" stroke="#f00" stroke-width="5" stroke-linejoin="round" marker-start="url(#mo)" marker-mid="url(#mo)" marker-end="url(#mo)"/>
<path d="M207.5 575.8l.4 20.3l.5 18.7l.4 14.2l.5 19.3l.4 30.2l.4 1l.5 -5.2l.4 2.2l.5 3.4l.4 -4.7l.4 .7l.5 -23.7l.4 2.6l.5 -4l.4 15.4l.4 -5.3l.5 8.2l.4 -10.6l.5 -8.8l.4 -8.7l.4 -11.7l.5 -4.1l.4 9.6l.5 -14.5l.4 2l.4 8.8l.5 -1.2l.4 .7l.5 -1.5l.4 -.3l.4 -19.9l.5 12.3l.4 -1l.5 -8.4l.4 -4.5l.4 -2.5l.5 4.1l.4 -12.3l.5 -9.8l.4 -7.9l.4 11.2l.5 -7l.4 2.7l.5 -8.7l.4 1.8l.4 -2.7l.5 -2.2l.4 5.8l.5 34.4l.4 4l.4 32.3l.5 0l.4 1.7l.5 .6l.4 42.2l.4 6.5l.5 -10l.4 5.6l.5 -4.2l.4 1.2l.4 7.7l.5 -6.3l.4 -.6l.5 -5.6l.4 -5.1l.4 6l.5 -3l.4 -5l.5 -21.1l.4 -7.4l.4 -4.2l.5 1.7l.4 3.7l.5 .4l.4 -2.9l.4 1.5l.5 .5l.4 4l.5 -18.6l.4 8.2l.4 12.5l.5 1.8l.4 -11.5l.5 -12.4l.4 -2.6l.4 8.6l.5 -3l.4 -20.4l.5 -24.1l.4 8.4l.4 22.9l.5 -15.6l.4 -4l.5 1.7l.4 2.9l.4 -6.5l.5 -5.5l.4 10.9l.5 107.5l.4 20.5l.5 -12.6l.4 4.8l.4 -15.3l.5 -10.5l.4 -5l.5 -2.3l.4 -4.3l.4 -7.9l.5 -1l.4 -9.7l.5 13.1l.4 -3.2l.4 -9.1l.5 4.3l.4 -11.8l.5 6.6l.4 -1.8l.4 14.4l.5 0l.4 -11l.5 4.6l.4 -3.4l.4 1.1l.5 -29.3l.4 -.7l.5 -1.1l.4 12.1l.4 -10.8l.5 3l.4 -2.8l.5 -12.1l.4 -2.8l.4 6l.5 -4.2l.4 -6.9l.5 13.5l.4 12.2l.4 12.4l.5 8.3l.4 -2.3l.5 9.5l.4 .5l.4 11.6l.5 -13.6l.4 9.7l.5 -17.8l.4 -9l.4 5.9l.5 7.9l.4 -12.9l.5 -.9l.4 8.4l.4 14.2l.5 1.2l.4 9.9l.5 -.3l.4 28.2l.4 4.2l.5 -5l.4 -.2l.5 -15.6l.4 -4.4l.4 -12.5l.5 4.7l.4 -7.4l.5 5l.4 -14l.4 -12.4l.5 -14.1l.4 -4.4l.5 -2.6l.4 -6.2l.4 -4.1l.5 -1.1l.4 -25.3l.5 -5.8l.4 3.6l.4 .3l.5 2.6l.4 13l.5 9l.4 -5.9l.4 6.8l.5 -6.3l.4 9.8l.5 -11.7l.4 12.9l.4 .5l.5 4.3l.4 .9l.5 -6.1l.4 5.6l.4 3.6l.5 9l.4 6l.5 9.5l.4 -.8l.4 -4.4l.5 -7.2l.4 -13.9l.5 -6.7l.4 .8l.4 -7.2l.5 -2.4l.4 8.7l.5 -7.4l.4 -8.1l.4 -9.4l.5 24.9l.4 -8.9l.5 -3.2l.4 -2.8l.4 5.6l.5 -9.9l.4 -10.3l.5 -3.8l.4 -6.5l.4 -10.4l.5 -11.5l.4 6.3l.5 0l.4 13.6l.4 -6.2l.5 -3.8l.4 8.9l.5 -17.2l.4 3.1l.4 -10.2l.5 13l.4 57.1l.5 44.4l.4 -12.4l.4 -11.7l.5 11.6l.4 1.8l.5 -5l.4 -9.4l.4 -3.7l.5 1.2l.4 -5.4l.5 .9l.4 4l.4 -17.2l.5 .3l.4 2l.5 -5.2l.4 -7.4l.4 11l.5 -5.4l.4 -4.6l.5 -7.4l.4 -4l.4 -3.5l.5 -1.6l.4 -12.7l.5 -10.5l.4 -.4l.4 1.3l.5 -1.6l.4 8.2l.5 -.8l.4 4.6l.4 -1.3l.5 -20.8l.4 5.9l.5 11l.4 -3.1l.4 -4.6l.5 -12.3l.4 1.5l.5 -9.6l.4 -2.7l.4 7.9l.5 67.4l.4 65.5l.5 5.1l.4 -9.9l.4 -5.9l.5 -4.2l.4 -10.2l.5 -8.4l.4 -4l.4 3.1l.5 -12.2l.4 -12.7l.5 -1.2l.4 -5.8l.4 -16.1l.5 -2.4l.4 -4.6l.5 -5.6l.4 -1.2l.4 -1.6l.5 8.5l.4 -3.8l.5 -2.6l.4 -9.3l.4 1.2l.5 -3.4l.4 -1.6l.5 11.9l.4 19.7l.5 3.4l.4 1l.4 2.8l.5 5.1l.4 -2.3l.5 -.5l.4 6.1l.4 12.9l.5 -1.9l.4 -13.8l.5 10.4l.4 3.7l.4 -4.1l.5 13.1l.4 9.5l.5 -10.3l.4 -35.6l.4 4.3l.5 -3.2l.4 -11.3l.5 -5.2l.4 -1.9l.4 1.2l.5 -3.4l.4 .3l.5 -23.2l.4 -1.5l.4 -2.1l.5 -12.9l.4 -8.1l.5 -5.9l.4 5.5l.4 2.1l.5 18.1l.4 15.3l.5 17l.4 11.7l.4 8.4l.5 -3.8l.4 6.5l.5 6.2l.4 24.6l.4 -2.9l.5 -2.9l.4 2.5l.5 19.7l.4 3.4l.4 15.4l.5 3.5l.4 26.4l.5 5.9l.4 -7l.4 -9.1l.5 -3.4l.4 -8.2l.5 11.9l.4 -14.5l.4 -6.4l.5 10.4l.4 11.1l.5 -6.2l.4 -14.7l.4 -11.1l.5 -5.1l.4 1.8l.5 11.8l.4 4.2l.4 2.9l.5 -10l.4 2l.5 1.2l.4 .7l.4 -6.9l.5 -8.5l.4 5.3l.5 6.6l.4 -9.8l.4 -3.1l.5 3l.4 4.9l.5 4.6l.4 -10.8l.4 1.5l.5 -18.8l.4 -21.6l.5 -1.9l.4 4.1l.4 -12.2l.5 1.4l.4 2.9l.5 -.2l.4 1.6l.4 7l.5 -6.4l.4 -6.6l.5 2.5l.4 5.2l.4 -21.5l.5 -5.4l.4 4.5l.5 34.6l.4 7.4l.4 2.2l.5 16l.4 9.6l.5 24.3l.4 5.6l.4 9.8l.5 -8.3l.4 -14.8l.5 -3.8l.4 -6.2l.4 3.6l.5 -4.9l.4 1l.5 4.8l.4 3.3l.4 -18.3l.5 -7.2l.4 3.2l.5 -3.3l.4 -7.8l.4 4.4l.5 -1.8l.4 .8l.5 3.1l.4 -8.5l.4 4.1l.5 -4.5l.4 -3.3l.5 2.7l.4 -19.3l.4 -14.7l.5 -7.1l.4 9.6l.5 .2l.4 -5.9l.4 -8.8l.5 -12l.4 6.1l.5 1l.4 3l.4 5.4l.5 -2l.4 6.1l.5 -10.2l.4 6.8l.4 -4.4l.5 -11.4l.4 -20.1l.5 -4.2l.4 7.5l.4 14.4l.5 3.9l.4 9.3l.5 7.7l.4 21.3l.4 1.1l.5 9.3l.4 -.3l.5 -2.9l.4 7.4l.4 6.4l.5 13.6l.4 16.5l.5 0l.4 13.9l.4 6.9l.5 10.6l.4 -8.5l.5 -15.4l.4 -.9l.4 -6.8l.5 -11.8l.4 4.4l.5 -11.2l.4 5.8l.4 -15.7l.5 6.7l.4 1.8l.5 -2.4l.4 1l.4 -10.1l.5 -7.3l.4 2.8l.5 -16.1l.4 -6.7l.4 -5.6l.5 -5.4l.4 -5.4l.5 -21.7l.4 2.1l.4 2.3l.5 7.7l.4 .6l.5 -11.5l.4 -6.9l.5 -11.2l.4 -4.8l.4 -6.5l.5 -6.1l.4 12.6l.5 17.3l.4 2.1l.4 5.2l.5 10.8l.4 -.3l.5 12l.4 13.2l.4 .2l.5 6.7l.4 .3l.5 21.5l.4 8l.4 12.6l.5 .9l.4 -13.9l.5 -5.8l.4 5.5l.4 4.2l.5 -5.2l.4 -11.3l.5 -6.3l.4 -.8l.4 -18.3l.5 .2l.4 -14.5l.5 -3.5l.4 -.5l.4 -17.8l.5 -10.8l.4 13.5l.5 90l.4 9l.4 -8.4l.5 -17.5l.4 4l.5 -4.6l.4 -17.7l.4 4.7l.5 4l.4 -9.3l.5 -2.5l.4 -.6l.4 -7.3l.5 2.1l.4 -.8l.5 -10.7l.4 -20.5l.4 -.6l.5 15.6l.4 8.9l.5 -6.5l.4 -13.3l.4 7.3l.5 19.7l.4 9.1l.5 11.7l.4 -1.8l.4 -3.3l.5 -8.1l.4 1.9l.5 -6.5l.4 11.8l.4 -.9l.5 13.8l.4 -4.3l.5 3.7l.4 -6l.4 9.1l.5 -5.9l.4 12.8l.5 3.9l.4 -14.7l.4 -6.2l.5 8.8l.4 4.6l.5 19.6l.4 -7.6l.4 .6l.5 2.6l.4 4.4l.5 15.2l.4 -2.6l.4 -12.5l.5 16.1l.4 3.5l.5 4.2l.4 -10.2l.4 -22.4l.5 -1.6l.4 2.5l.5 -7.9l.4 -9.2l.4 -11.4l.5 -3.4l.4 -2.1l.5 0l.4 -21.7l.4 -7l.5 4l.4 10.6l.5 -.2l.4 -26.2l.4 -17.2l.5 5.6l.4 -1.6l.5 -2.6l.4 11.3l.4 -16.9l.5 4l.4 -7.2l.5 -11.9l.4 -21.5l.4 -9.5l.5 12.5l.4 -3.8l.5 -18.1l.4 -4.7l.4 12.2l.5 21.9l.4 8.2l.5 4.5l.4 4.7l.4 2.8l.5 12.3l.4 7.6l.5 17.9l.4 4.2l.4 1l.5 -4.1l.4 19.9l.5 29.9l.4 4.1l.4 -11.3l.5 18.9l.4 3.5l.5 15.5l.4 11l.4 13l.5 7.1l.4 4.5l.5 21.6l.4 8.1l.4 -2.5l.5 -15.3l.4 -7l.5 -13.9l.4 1.1l.4 -13.7l.5 -12.7l.4 2.5l.5 -4.9l.4 -8.9l.4 -15.2l.5 -5.5l.4 -2.5l.5 -1.8l.4 -13.9l.4 -2.5l.5 -22.3l.4 -2.6l.5 -11.4l.4 2.4l.4 -9.2l.5 12.5l.4 -9.9l.5 -7.7l.4 -27.3l.4 -14.4l.5 6.2l.4 -10.8l.5 -5.5l.4 -11.5l.4 4.3l.5 17.4l.4 12l.5 12.5l.4 12.6l.4 -1.5l.5 -3.2l.4 14.2l.5 9.6l.4 17.5l.4 11.6l.5 -11.8l.4 -11l.5 -14.5l.4 -7.3l.4 3.6l.5 -5.2l.4 -5.6l.5 -6.3l.4 -10l.4 3.6l.5 -8.6l.4 -19.2l.5 -15.3l.4 -5.5l.5 6.5l.4 14.6l.4 -14.1l.5 17.6l.4 16.9l.5 .5l.4 15.2l.4 -2.8l.5 3.4l.4 1.3l.5 18.5l.4 11l.4 1.2l.5 3.3l.4 -5.8l.5 -35.6l.4 -6.7l.4 -4.5l.5 .2l.4 -14.6l.5 -10.2l.4 -12.9l.4 -19.2l.5 -15.1l.4 -10.5l.5 7.7l.4 39.2l.4 -7.6l.5 2l.4 14l.5 13.5l.4 10.4l.4 4.4l.5 12.1l.4 -3.5l.5 5.6l.4 -.8l.4 18.6l.5 10.6l.4 12.3l.5 1.8l.4 -26.2l.4 -6.3l.5 1.3l.4 -1.4l.5 4.2l.4 3l.4 -12.7l.5 0l.4 -21.2l.5 2.3l.4 -21.8l.4 3.7l.5 -20.8l.4 5.5l.5 -1.3l.4 -6.3l.4 5.9l.5 40.1l.4 -15.2l.5 -1.6l.4 17.2l.4 6.2l.5 12.8l.4 36.6l.5 20.1l.4 -4.6l.4 -14.6l.5 -1.6l.4 -3.7l.5 -7.6l.4 8.1l.4 -23.6l.5 -10.2l.4 -5.7l.5 4l.4 39.1l.4 4l.5 5.4l.4 14.4l.5 23.4l.4 8.7l.4 -13.8l.5 13.8l.4 -19.5l.5 -4.8l.4 -.8l.4 -19.9l.5 -1.5l.4 7.9l.5 -9.7l.4 -17.1l.4 5.7l.5 9.5l.4 -9l.5 -4.6l.4 3.6l.4 -3.7l.5 -13.7l.4 -8l.5 -4.7l.4 -3.9l.4 5.5l.5 -15l.4 -.4l.5 -5.9l.4 -20.7l.4 6.8l.5 -1.3l.4 -13.6l.5 -14.6l.4 10.3l.4 11.9l.5 -5.6l.4 -7.7l.5 1l.4 -22.7l.4 -6.3l.5 7l.4 126.4l.5 44.1l.4 -5.3l.4 4.5l.5 -21.1l.4 10l.5 -4.7l.4 2l.4 -10.8l.5 -9.7l.4 10.1l.5 1.1l.4 .9l.4 1.1l.5 -.3l.4 -18.4l.5 -3.2l.4 -3l.4 16.2l.5 5.5l.4 -14.6l.5 -15.7l.4 6.3l.4 2.7l.5 7.9l.4 -15.5l.5 11.5l.4 -4.5l.4 5.2l.5 -5l.4 -9.7l.5 -10.3l.4 9.6l.4 -30.7l.5 12.6l.4 5.1l.5 -8.1l.4 5.6l.4 -3.9l.5 -12.8l.4 -1.3l.5 5.6l.4 -1l.4 -7.8l.5 5.7l.4 3.8l.5 6.1l.4 -4.4l.4 6.7l.5 -24.4l.4 -13.6l.5 5.2l.4 23.7l.4 17.2l.5 15.6l.4 5.2l.5 26.5l.4 .9l.4 11.2l.5 -4.2l.4 33.7l.5 26l.4 14.5l.4 38.2l.5 8.2l.4 -4.8l.5 -38.1l.4 2.4l.4 -5.9l.5 -1.3l.4 -12.8l.5 -13.1l.4 3.5l.4 -.5l.5 -.9l.4 -11.1l.5 -2.2l.4 -18.2l.4 -10.8l.5 2.2l.4 -10.6l.5 -11.4l.4 -7.6l.5 14.1l.4 -8.9l.4 -2l.5 -7l.4 14.3l.5 -12.3l.4 -.9l.4 -29.4l.5 -13.6l.4 6.1l.5 7.7l.4 8.7l.4 20.2l.5 1.7l.4 14.3l.5 .1l.4 2.7l.4 -8.6l.5 -2.3l.4 4.2l.5 9.1l.4 -10.2l.4 -9.6l.5 4.9l.4 4.3l.5 8.6l.4 16.9l.4 -5.6l.5 16.6l.4 2l.5 -2.2l.4 -14.4l.4 16.4l.5 14.7l.4 .8l.5 1.6l.4 -5.6l.4 -15.3l.5 -.6l.4 -4.9l.5 -1.9l.4 35.2l.4 8.4l.5 -9.1l.4 -11.7l.5 -10.3l.4 -1.2l.4 -12.5l.5 -10.7l.4 -4.5l.5 -13.3l.4 -4.5l.4 -11.4l.5 -13.4l.4 -10l.5 8.3l.4 -6.7l.4 -12.7l.5 -6.1l.4 -14.1l.5 -9.8l.4 -8.3l.4 -18.7l.5 -3.2l.4 -5.5l.5 -7.3l.4 11.9l.4 27.4l.5 2.7l.4 20.8l.5 16.9l.4 9l.4 20.2l.5 -1l.4 11l.5 28.4l.4 4.4l.4 -10.4l.5 -3.7l.4 2.3l.5 3.1l.4 -8.5l.4 -1.7l.5 -1.7l.4 -5.8l.5 .8l.4 -16.6l.4 -4.2l.5 1.9l.4 2.1l.5 9.3l.4 -3.4l.4 15.1l.5 -14.8l.4 15.6l.5 -11.5l.4 -9.9l.4 -4.1l.5 -2.2l.4 .7l.5 -1.1l.4 6.2l.4 6.5l.5 -10.2l.4 -5.8l.5 8.3l.4 20.8l.4 11.5l.5 2.4l.4 15.7l.5 -8.2l.4 15.2l.4 -.9l.5 7.9l.4 -15l.5 3.5l.4 -10.3l.4 -7.1l.5 -21.9l.4 -21.4l.5 -4l.4 -19l.4 -4.5l.5 8.7l.4 110l.5 8.3l.4 -1.8l.4 -33l.5 -10.8l.4 -1.2l.5 -25.6l.4 -6.7l.4 -1.8l.5 -2.8l.4 -13.3l.5 10.5l.4 -4.7l.4 -4.6l.5 -18.5l.4 -.4l.5 3.8l.4 2.6l.4 -1.8l.5 -8.3l.4 -15.9l.5 -7.7l.4 13.2l.4 7l.5 .3l.4 5.8l.5 0l.4 4.9l.4 3.3l.5 -5l.4 16.3l.5 5.9l.4 -7.4l.4 -4.7l.5 1.3l.4 .9l.5 -1.5l.4 9.3l.4 3l.5 -1.8l.4 19l.5 -.5l.4 5.7l.4 -8l.5 -2.9l.4 -.4l.5 15.7l.4 10.2l.4 .6l.5 .8l.4 6.4l.5 10.3l.4 11.3l.4 -11.8l.5 -57l.4 -24.8l.5 -66.5l.4 -5.9l.4 7.6l.5 18.7l.4 10.1l.5 6.1l.4 -10.9l.4 7.5l.5 15.1l.4 -4.9l.5 -5.8l.4 7.6l.4 15l.5 -4.1l.4 11.3l.5 4.6l.4 22l.5 9.1l.4 -4.5l.4 -21.9l.5 .1l.4 9.9l.5 -1.1l.4 -1l.4 -14l.5 -7.5l.4 -12.3l.5 8l.4 5.4l.4 -1.5l.5 .9l.4 -9.6l.5 -7.1l.4 6.5l.4 -8.8l.5 4.1l.4 6.9l.5 -17.7l.4 -11.2l.4 2.4l.5 -13l.4 4.3l.5 55.3l.4 -2.2l.4 19.2l.5 11.1l.4 7.7l.5 2.6l.4 -.8l.4 -1.1l.5 18.9l.4 9l.5 -7.8l.4 -27.7l.4 -9l.5 -16.4l.4 1.6l.5 -18l.4 -1.2l.4 5.3l.5 -15.5l.4 -10.2l.5 0l.4 8.9l.4 -7l.5 -9.3l.4 -2.8l.5 -19.6l.4 -13.7l.4 5.6l.5 3l.4 -1.4l.5 -6.4l.4 -16.3l.4 -7.5l.5 2.3l.4 2l.5 15.4l.4 5.9l.4 3.9l.5 -5.1l.4 7.3l.5 8.3l.4 8.4l.4 1.5l.5 19.2l.4 -10.5l.5 10l.4 -9l.4 -5.1l.5 13.2l.4 1.6l.5 -.5l.4 7l.4 25.7l.5 -5.6l.4 -.6l.5 13l.4 -3.9l.4 21.7l.5 -12.6l.4 11.8l.5 -5.3l.4 -23.1l.4 -15l.5 -20.6l.4 -7.4l.5 -7.8l.4 -11.7l.4 4.4l.5 15.2l.4 7.3l.5 3.6l.4 -3.1l.4 -6.7l.5 11.6l.4 .3l.5 -2.8l.4 .2l.4 5.2l.5 7.8l.4 -.8l.5 -2.8l.4 -7.3l.4 2.2l.5 12.1l.4 12.6l.5 -14l.4 -12.2l.4 -2.9l.5 2.6l.4 -4.9l.5 -5.2l.4 -5.3l.4 -5.4l.5 .3l.4 1.3l.5 -7.3l.4 -5.4l.4 -.4l.5 1.5l.4 4.7l.5 -18.8l.4 2.7l.4 -9.6l.5 .8l.4 1.7l.5 7.3l.4 -14.2l.4 .8l.5 -29.8l.4 -4l.5 2.8l.4 12.5l.4 9.2l.5 7.5l.4 19.9l.5 9.2l.4 9.6l.4 13l.5 14.9l.4 49.8l.5 10.6l.4 -11.4l.4 -29.6l.5 8.6l.4 2.9l.5 3.8l.4 -8.3l.4 7.9l.5 -.3l.4 12.2l.5 -12.8l.4 -.5l.4 4.9l.5 -11.8l.4 -7.5l.5 -9.8l.4 -6l.4 3.3l.5 -3.2l.4 -12.8l.5 1.3l.4 -12.5l.4 5.9l.5 28l.4 8.7l.5 7.3l.4 8.7l.4 7.9l.5 14.7l.4 -6.5l.5 -7.6l.4 -6.1l.4 -5.4l.5 9.3l.4 -12.8l.5 -9l.4 7l.4 -.2l.5 1.7l.4 -21.4l.5 -2.4l.4 9.5l.4 -3.2l.5 -2.8l.4 7.7l.5 22.2l.4 36.1l.4 -2.7l.5 10.8l.4 14l.5 5.4l.4 -13.3l.4 -12.8l.5 -7.3l.4 -11.4l.5 -21.6l.4 -30.4l.5 -15.7l.4 -13.6l.4 -5.5l.5 4.8l.4 6.4l.5 11.9l.4 9l.4 -10.8l.5 -1.3l.4 .5l.5 -7.2l.4 17.6l.4 -14.5l.5 7.2l.4 10.4l.5 3.4l.4 5.1l.4 -19.4l.5 5l.4 5.9l.5 4.5l.4 -8.9l.4 2.7l.5 -2.2l.4 16.3l.5 -4.1l.4 1.7l.4 1.3l.5 1.2l.4 16.2l.5 9.9l.4 -.9l.4 -5.8l.5 -4.3l.4 -13.7l.5 20.3l.4 8.9l.4 -13.6l.5 -17.2l.4 6.8l.5 -.3l.4 -6.5l.4 4.8l.5 -8.6l.4 4.5l.5 -14.1l.4 -8.9l.4 -13.8l.5 .5l.4 -12.3l.5 -3.2l.4 -6.1l.4 -12.8l.5 12.5l.4 -23.1l.5 -13.4l.4 10l.4 25.5l.5 -2.9l.4 17l.5 5.5l.4 3.4l.4 3.1l.5 4.6l.4 5.3l.5 1.1l.4 1.7l.4 1.9l.5 -10l.4 4.7l.5 15.5l.4 14.7l.4 1.2l.5 -5.6l.4 11.5l.5 -4.8l.4 -3.8l.4 -4.2l.5 -6.7l.4 27.3l.5 6l.4 -17l.4 5.3l.5 -2l.4 20l.5 3.4l.4 3l.4 14.2l.5 18.8l.4 -4.1l.5 8l.4 13.2l.4 -5.7l.5 -14.2l.4 -5.3l.5 -12.6l.4 7.5l.4 -10.3l.5 2.7l.4 .7l.5 -19.6l.4 -7.9l.4 -3.7l.5 -14.5l.4 -4.1l.5 -1.2l.4 -17.8l.4 -3.6l.5 .8l.4 -7.2l.5 -7.6l.4 -13.2l.4 .1l.5 0l.4 -4l.5 7.1l.4 -7.3l.4 -21.5l.5 -6.6l.4 11.2l.5 24.4l.4 7.3l.4 -8.1l.5 -8.4l.4 15.6l.5 -16.1l.4 .4l.4 17.7l.5 -4.3l.4 8.8l.5 -5l.4 22.2l.4 -2.8l.5 5.9l.4 -11.7l.5 8.8l.4 6.7l.4 -3.4l.5 7.4l.4 -.9l.5 4.9l.4 -2.7l.4 -.6l.5 -5.6l.4 9.9l.5 2.8l.4 -1l.4 18.5l.5 1.2l.4 .3l.5 -3.4l.4 11.5l.4 2.8l.5 -4.9l.4 2l.5 8.8l.4 3.9l.4 11.9l.5 -13.3l.4 -4.2l.5 -29.4l.4 -20.6l.4 -20.7l.5 -19.3l.4 -15.9l.5 -38.4l.4 -7.2l.4 6.8l.5 12.9l.4 11.3l.5 12.4l.4 2.4l.4 5.8l.5 3.7l.4 7.6l.5 1.7l.4 9.8l.4 13.3l.5 16.7l.4 -5.5l.5 6.9l.4 2l.4 4.2l.5 -2.2l.4 4.4l.5 8.2l.4 3.1l.4 .5l.5 14.6l.4 3.3l.5 1.2l.4 4.3l.4 2.8l.5 -8.6l.4 2l.5 -5.5l.4 -12.9l.4 7.4l.5 -6.5l.4 -14.2l.5 -.5l.4 -6.3l.5 1.3l.4 -10.8l.4 -2.7l.5 -12.6l.4 -7.9l.5 4.8l.4 -3l.4 13.1l.5 -9.5l.4 -.8l.5 -12.8l.4 11.3l.4 -4.4l.5 -16.4l.4 1.2l.5 -10.9l.4 -4l.4 11.6l.5 19.9l.4 12l.5 9.1l.4 2.3l.4 4.2l.5 6l.4 1.1l.5 12.9l.4 5.5l.4 9.3l.5 7l.4 4.4l.5 26.2l.4 8l.4 11l.5 25.9l.4 -.7l.5 -3.2l.4 12.8l.4 3.9l.5 -6.7l.4 -65.8l.5 -31.2l.4 -11.7l.4 -15.1l.5 -15.5l.4 -13.2l.5 10.3l.4 -10l.4 16.9l.5 4.7l.4 -5.6l.5 13.5l.4 1.9l.4 5.2l.5 -.1l.4 9.1l.5 3.3l.4 -9.7l.4 -5.5l.5 -3.1l.4 11.2l.5 7l.4 3l.4 -1.3l.5 -3l.4 5.6l.5 8.3l.4 6l.4 11.5l.5 9.3l.4 -9l.5 16.7l.4 4.4l.4 -5.7l.5 -2.9l.4 .1l.5 -7.7l.4 -6l.4 2l.5 -1.2l.4 -19.5l.5 13.9l.4 15.8l.4 11.6l.5 -5.6l.4 -55.8l.5 -9.7l.4 -24.9l.4 -24.5l.5 -13.2l.4 -15.7l.5 -39.2l.4 -12.4l.4 1.5l.5 11.8l.4 10.5l.5 11.8l.4 2.6l.4 -2.8l.5 12.1l.4 24.9l.5 11l.4 -11.2l.4 7.5l.5 0l.4 1.5l.5 1.4l.4 -1.8l.4 -5.1l.5 13.1l.4 -.6l.5 4.7l.4 6.1l.4 9.5l.5 4l.4 6.6l.5 4l.4 9.6l.4 9l.5 16.5l.4 6.1l.5 -3.1l.4 8.2l.4 10l.5 4.6l.4 -6.7l.5 -31.1l.4 13.1l.4 -2.5l.5 6.5l.4 -19.1l.5 -20.9l.4 4.9l.4 -6.8l.5 1.9l.4 -7.2l.5 6.2l.4 -5.8l.4 -4l.5 1.1l.4 -7.7l.5 -6.1l.4 7.2l.4 -6.5l.5 -3.4l.4 -1.3l.5 -5.2l.4 -1.7l.4 -22.6l.5 -6.3l.4 8.8l.5 7.3l.4 5.8l.4 -4.9l.5 -3.5l.4 12.9l.5 12.3l.4 20l.4 18.7l.5 31.4l.4 12.2l.5 -5.4l.4 -17.8l.4 2.3l.5 -10.9l.4 -14.6l.5 -26.1l.4 7.2l.4 -5.3l.5 8.2l.4 5.8l.5 2.7l.4 -11.3l.4 -6.6l.5 -23.9l.4 -19.7l.5 -13.4l.4 13.3l.4 12.7l.5 4.1l.4 0l.5 22.7l.4 4.5l.4 -3.5l.5 4.2l.4 -2l.5 19.9l.4 16.1l.4 4.8l.5 6.5l.4 -7.1l.5 20.5l.4 3.7l.4 20.9l.5 -3.8l.4 7.4l.5 10.3l.4 8.6l.5 .9l.4 8l.4 -2.9l.5 -9.5l.4 -16.5l.5 4.9l.4 -8l.4 -3.7l.5 -8.5l.4 -4.4l.5 -10.3l.4 14.1l.4 2.3l.5 -8.9l.4 -10.8l.5 -6.3l.4 -17.9l.4 -2.8l.5 -9l.4 -10.5l.5 -11.1l.4 -9.2l.4 .8l.5 -4.6l.4 -11.2l.5 -.1l.4 -3.8l.4 -6.2l.5 6.1l.4 -10.7l.5 -18.3l.4 -7.6l.4 6.2l.5 12.8l.4 7.8l.5 -.5l.4 6.9l.4 -1.1l.5 -.4l.4 -9.5l.5 -8.1l.4 8.2l.4 23.5l.5 -5.4l.4 5.7l.5 .5l.4 10.4l.4 -2.2l.5 5l.4 8.3l.5 -.2l.4 3.6l.4 2.9l.5 8.7l.4 7.8l.5 7.4l.4 3.6l.4 -7.4l.5 .2l.4 8.1l.5 3.2l.4 9.3l.4 -8.8l.5 -2.3l.4 -.3l.5 9.4l.4 .4l.4 -.7l.5 26.6l.4 6.1l.5 -6.6l.4 -18.9l.4 -2.6l.5 1.6l.4 .6l.5 -9.6l.4 -5.6l.4 -3.7l.5 2.4l.4 -4.9l.5 3.6l.4 -10.6l.4 -4.4l.5 5.6l.4 -17.6l.5 -12.4l.4 5l.4 2.8l.5 2.5l.4 -.3l.5 .1l.4 -12.7l.4 -6l.5 -1.3l.4 -15.4l.5 -12.3l.4 -5.3l.4 8.9l.5 16.8l.4 -5.1l.5 3.7l.4 4.5l.4 9.7l.5 9.5l.4 7l.5 -.2l.4 16.8l.4 13.1l.5 -4.6l.4 5.2l.5 14.7l.4 6.7l.4 7.4l.5 .2l.4 15.9l.5 3.8l.4 -7.2l.4 7.4l.5 -13.6l.4 5.4l.5 -.7l.4 -12.2l.4 -3.4l.5 6.4l.4 -10.2l.5 -7.9l.4 -24.3l.4 -8.8l.5 2.7l.4 3l.5 6.8l.4 6.1l.4 11.7l.5 -1.9l.4 14.5l.5 -6.7l.4 -1l.4 -17.5l.5 -3.6l.4 .6l.5 -.4l.4 -11.5l.4 -5.7l.5 -13.9l.4 1.5l.5 -10l.4 7.3l.4 -.9l.5 2l.4 -.2l.5 -1.9l.4 .6l.4 -5.8l.5 -17.5l.4 8.7l.5 -9.7l.4 -11.3l.4 4.9l.5 36l.4 7.2l.5 8.4l.4 7.8l.4 6.7l.5 6.2l.4 10l.5 11.8l.4 3.1l.4 9.7l.5 -2.5l.4 4.7l.5 39.7l.4 3.9l.4 -5.3l.5 -17.4l.4 -16.4l.5 2.8l.4 -13.9l.4 -7.1l.5 -7.6l.4 8.2l.5 -6.7l.4 7.7l.4 -4.9l.5 -14.6l.4 -7.4l.5 .1l.4 -34l.4 -12l.5 11.4l.4 4.5l.5 2.2l.4 17.3l.4 1.6l.5 -1.4l.4 -.4l.5 -6.4l.4 12.7l.4 -.8l.5 31.8l.4 .1l.5 -6.6l.4 -8.3l.5 .8l.4 8.1l.4 -.6l.5 9.7l.4 8.3l.5 5.9l.4 8.5l.4 5.6l.5 -12.1l.4 -84.7l.5 -12.1l.4 .1l.4 12.2l.5 5.8l.4 -2.4l.5 14.1l.4 -3.1l.4 -2.3l.5 .9l.4 4.2l.5 8.4l.4 -1.5l.4 -2.7l.5 14.6l.4 10.1l.5 9.8l.4 10.2l.4 3.1l.5 16.2l.4 -7l.5 -9.3l.4 1.9l.4 -7.2l.5 -10.9l.4 -8.4l.5 -16.3l.4 .5l.4 -8.1l.5 -2.5l.4 3.1l.5 -3.8l.4 -8.2l.4 -6.6l.5 -8.3l.4 3.9l.5 -25.6l.4 -10.9l.4 -9.4l.5 6.6l.4 35.8l.5 16.9l.4 29.8l.4 13.2l.5 18.1l.4 7.8l.5 8l.4 7.6l.4 37.1l.5 13.3l.4 -10.7l.5 -3.1l.4 -8.3l.4 -10.6l.5 -11.6l.4 -17.2l.5 -2.9l.4 .5l.4 -16.1l.5 -10.4l.4 6.3l.5 -12.8l.4 -2.9l.4 7.1l.5 -20.6l.4 -10.8l.5 -27.6l.4 -7.2l.4 7.6l.5 19.3l.4 4.1l.5 10.5l.4 1.7l.4 -3.1l.5 5.9l.4 5.4l.5 4l.4 20.2l.4 1.9l.5 -4.2l.4 -1.6l.5 -1.3l.4 5.8l.4 -8.5l.5 -20.4l.4 -12.9l.5 2.4l.4 -12.5l.4 -2.5l.5 -15l.4 -11.8l.5 4.8l.4 62.5l.4 32.4l.5 -11.7l.4 -47.6l.5 -.9l.4 -9.5l.4 -20.1l.5 -5.9l.4 -1.2l.5 6.4l.4 -5.1l.4 12.3l.5 -4.3l.4 17.2l.5 7l.4 18.4l.4 -6.8l.5 -.8l.4 -2.5l.5 26.5l.4 19.2l.4 5.7l.5 -11.8l.4 -22.2l.5 -.7l.4 -4.1l.4 -18.2l.5 -6.2l.4 -20l.5 -12.6l.4 4.9l.4 3.5l.5 -8.1l.4 -19.7l.5 -9.5l.4 -4.4l.4 9.7l.5 -12.1l.4 -16.8l.5 -11.8l.4 -8l.4 -5.3l.5 -4.6l.4 -4.5l.5 10l.4 8.3l.4 28.5l.5 11l.4 12.5l.5 14.9l.4 21.8l.4 18.6l.5 20.2l.4 12.8l.5 16.7l.4 7.7l.4 10.3l.5 15.3l.4 16.6l.5 6.8l.4 13.2l.4 57.1l.5 3.7l.4 -7.8l.5 -7.7l.4 -8.5l.4 -2.4l.5 -12.8l.4 -19.2l.5 -16l.4 -9.4l.4 -8.6l.5 -13.2l.4 -13.6l.5 -10.2l.4 -15.7l.4 -22.9l.5 -6.5l.4 4.6l.5 25.7l.4 3.7l.4 10.4l.5 12.2l.4 18.5l.5 9.1l.4 12l.4 -1.4l.5 10.2l.4 -12.9l.5 -17.5l.4 -17.5l.4 -4.3l.5 -18.5l.4 -4.3l.5 9.5l.4 .6l.5 7l.4 .1l.4 1.4l.5 .3l.4 6.7l.5 2.3l.4 3l.4 5.8l.5 21.9l.4 10.1l.5 -7.3l.4 -18.8l.4 -3.2l.5 -13.5l.4 -3.2l.5 -16.4l.4 -2.2l.4 -1.9l.5 -6.7l.4 1.8l.5 -12.2l.4 -12.8l.4 -6.2l.5 12.7l.4 26.7l.5 26.9l.4 16.9l.4 9.5l.5 -9.4l.4 -7.6l.5 -10.4l.4 10.9l.4 -6.5l.5 -14.6l.4 .6l.5 .8l.4 -13.6l.4 -5.3l.5 12.4l.4 -11.3l.5 -7.1l.4 14.7l.4 -15l.5 -20.8l.4 -14.2l.5 -3.2l.4 1.1l.4 -13.2l.5 -19.5l.4 4.7l.5 -7.3l.4 13.9l.4 25l.5 52.3l.4 9.8l.5 -12.8l.4 -20.2l.4 -1.9l.5 -9.9l.4 -.7l.5 11.3l.4 4.7l.4 3.5l.5 1.5l.4 -6.3l.5 -3.5l.4 -19.5l.4 4.4l.5 1.2l.4 -3l.5 -3.1l.4 -13.1l.4 -5.4l.5 -13.1l.4 -1.8l.5 -.4l.4 -4.2l.4 9.9l.5 -9.1l.4 1.5l.5 -.8l.4 .4l.4 8.7l.5 6l.4 -.5l.5 13.8l.4 -.3l.4 6.9l.5 -6.6l.4 -2.5l.5 7.7l.4 22.9l.4 -10l.5 -5.2l.4 .8l.5 4.2l.4 8l.4 14.2l.5 2l.4 8.3l.5 2.8l.4 -1.4l.4 .9l.5 9.2l.4 5.3l.5 15.2l.4 4.6l.4 -41.2l.5 -122.8l.4 -6.1l.5 4.3l.4 17.2l.4 16.9l.5 -4.1l.4 8.1l.5 1.5l.4 -12.8l.4 -.8l.5 11.5l.4 4.7l.5 2.3l.4 16.3l.4 2.7l.5 7l.4 9.8l.5 -1.1l.4 8.9l.4 -4.9l.5 -4.4l.4 16.5l.5 14.2l.4 6.9l.4 -5.1l.5 .9l.4 -2.7l.5 -.5l.4 9l.4 3l.5 15.7l.4 -8.3l.5 3.4l.4 -1.6l.4 -.5l.5 25l.4 16.5l.5 5l.4 -4.7l.4 -4.2l.5 -8.8l.4 -31.7l.5 -17.2l.4 7.8l.4 -20l.5 14.6l.4 4.2l.5 -2.5l.4 -2.9l.4 -1l.5 -12.3l.4 8.4l.5 -11.6l.4 -14.8l.4 9.2l.5 -8.1l.4 -5.9l.5 -24.5l.4 -5l.4 9l.5 27l.4 -11l.5 4.4l.4 16.9l.4 -5.7l.5 -3.9l.4 -7.5l.5 -.9l.4 .3l.4 11.6l.5 11.4l.4 -8.5l.5 14l.4 17.7l.4 10.2l.5 -4l.4 10.5l.5 -1.7l.4 -4.6l.4 -4.3l.5 -2.4l.4 8.3l.5 29.3l.4 7.2l.4 -11.3l.5 -35.8l.4 -13.6l.5 12.1l.4 -8.6l.4 -22.9l.5 -.8l.4 -2.7l.5 -25.9l.4 -9.8l.5 2.7l.4 -23.3l.4 -4.1l.5 -6.5l.4 4.9l.5 -4.3l.4 -19.1l.4 -24.3l.5 -16.9l.4 -10.9l.5 8.3l.4 78.6l.4 33.7l.5 76.6l.4 6.6l.5 -13.9l.4 -7.6l.4 -.4l.5 -2.3l.4 7.1l.5 -12.9l.4 .2l.4 5.2l.5 -8.5l.4 -2l.5 1.8l.4 -.5l.4 -4.9l.5 -13.9l.4 -7.8l.5 .8l.4 -2.5l.4 -2.6l.5 -4.3l.4 -13l.5 8.3l.4 -7.8l.4 14.1l.5 18.5l.4 -3.2l.5 -5.4l.4 -13l.4 -19.2l.5 -6.3l.4 8.2l.5 35.9l.4 1l.4 23.8l.5 11l.4 22.3l.5 13.8l.4 31.2l.4 9.3l.5 -7.1l.4 -17l.5 6.7l.4 -13.3l.4 6.5l.5 -18.2l.4 -12.4l.5 2.9l.4 7.6l.4 -10.1l.5 -.1l.4 -14.7l.5 -12.4l.4 -2.2l.4 13.4l.5 -10.7l.4 -19.2l.5 -21.6l.4 1.8l.4 5.1l.5 -5.3l.4 -1.2l.5 -9.5l.4 7.6l.4 -2.1l.5 -17.5l.4 -7.7l.5 7.3l.4 -6l.4 -23.7l.5 -2.8l.4 -4.3l.5 -21.6l.4 8l.4 11.3l.5 -8.5l.4 -10.1l.5 -3.4l.4 -5l.4 7.9l.5 10.6l.4 -7.6l.5 5.6l.4 22.4l.4 1.3l.5 4.1l.4 5.9l.5 -3.6l.4 -5.6l.4 25.8l.5 1.9l.4 -5.5l.5 12.2l.4 -.2l.4 -2.9l.5 2.5l.4 -3.5l.5 1.4l.4 17.2l.4 20.5l.5 11.6l.4 -8.4l.5 -9.1l.4 -15l.4 -21.5l.5 -10.4l.4 4.1l.5 -16.8l.4 9.5l.4 -14.4l.5 -21.6l.4 -10.7l.5 4.6l.4 -15.4l.4 -5.2l.5 -4l.4 -15.5l.5 -.9l.4 -.5l.4 -7.8l.5 -28l.4 -6.2l.5 -19.3l.4 -10.5l.4 11.5l.5 37.2l.4 7.3l.5 -7.4l.4 5.3l.4 25.2l.5 3.7l.4 13.4l.5 1.7l.4 15.8l.4 7.5l.5 22.1l.4 41.9l.5 5.8l.4 -11.4l.4 -22.9l.5 6l.4 -28.4l.5 -1.1l.4 2l.4 7.4l.5 2.2l.4 .5l.5 -3l.4 .1l.4 -8.5l.5 -6.7l.4 -14.2l.5 -3.6l.4 -4.1l.4 11.1l.5 -5l.4 9.1l.5 3.9l.4 7.2l.4 14.9l.5 3.3l.4 -2.6l.5 8.1l.4 14.2l.4 6.7l.5 9.5l.4 -7.7l.5 14.4l.4 .8l.4 -3.2l.5 30.5l.4 4.5l.5 -12.2l.4 -25l.4 -21.3l.5 -21.9l.4 -4.2l.5 -10.9l.4 -10.5l.4 -42.4l.5 -10.6l.4 5.2l.5 23.8l.4 7l.5 12.5l.4 12.5l.4 8.6l.5 -10l.4 20.8l.5 4.2l.4 22.6l.4 21.1l.5 -.6l.4 12.3l.5 23.4l.4 17.2l.4 -2.3l.5 -14.2l.4 -3.7l.5 -14.3l.4 8.2l.4 -4.3l.5 4.1l.4 -28.8l.5 -5.9l.4 -4.9l.4 -3.5l.5 -10.1l.4 5.2l.5 -7.8l.4 -.3l.4 6.9l.5 17.2l.4 1.8l.5 13.4l.4 9.4l.4 -1.6l.5 -15.3l.4 12.1l.5 6.7l.4 13.2l.4 4.3l.5 14.3l.4 .5l.5 13.4l.4 7.5l.4 16.5l.5 16.2l.4 5.9l.5 -9.8l.4 -25.2l.4 -14.8l.5 -18l.4 -3.9l.5 -7.2l.4 4.5l.4 -8.4l.5 2.2l.4 -.7l.5 -16.5l.4 -24.4l.4 -13.8l.5 -2.8l.4 -13.2l.5 -3.2l.4 -16.5l.4 -10.8l.5 -4l.4 -7.7l.5 -10.8l.4 -11.2l.4 -8.1l.5 -13.7l.4 -4.1l.5 -34.6l.4 -9.7l.4 7.7l.5 23.4l.4 -9.4l.5 .6l.4 12.4l.4 3.3l.5 17l.4 1.7l.5 -2.6l.4 5.6l.4 3.8l.5 7l.4 -.8l.5 8.9l.4 -5.7l.4 13.6l.5 9l.4 7.8l.5 2l.4 9l.4 10l.5 -6.5l.4 18.4l.5 5.7l.4 10.7l.4 17.4l.5 -7.9l.4 -1.9l.5 .6l.4 10l.4 .5l.5 3l.4 26.9l.5 13.8l.4 -9.9l.4 -24.4l.5 -8.2l.4 -33.6l.5 -14.2l.4 -12l.4 -10.7l.5 -26.5l.4 -21.8l.5 -42.3l.4 -11.4l.4 6l.5 20.4l.4 13.7l.5 12.2l.4 16.5l.4 8.6l.5 6.8l.4 13l.5 15l.4 24.3l.4 9.5l.5 -3l.4 35.7l.5 21l.4 -3.2l.4 -5.9l.5 -9.3l.4 5.4l.5 -21.4l.4 -1.2l.4 -2.4l.5 9.5l.4 -14.6l.5 1l.4 -9.7l.4 -19.8l.5 -22.6l.4 -6.4l.5 6.4l.4 30.8l.4 28.1l.5 2.9l.4 18l.5 27.5l.4 20l.4 7.4l.5 2.6l.4 -5l.5 .9l.4 -11l.4 -18.6l.5 -23.2l.4 2.3l.5 -6.9l.4 -16.4l.4 7.5l.5 -1.7l.4 -9.7l.5 -6.9l.4 1.1l.4 -1.2l.5 -13.9l.4 3l.5 -8.4l.4 -14l.4 -13.2l.5 -5.5l.4 12.8l.5 21l.4 -14.5l.4 -.3l.5 17.7l.4 10.1l.5 -.8l.4 4.9l.4 22.1l.5 -14.2l.4 20.5l.5 14.9l.4 -1l.4 3.8l.5 22l.4 4l.5 -4.3l.4 -3.5l.4 -14l.5 -6.3l.4 -2.3l.5 -10.3l.4 -5.5l.4 6.3l.5 -24.7l.4 -.5l.5 -8.4l.4 -12.1l.5 -2.9l.4 1.2l.4 2.8l.5 -12l.4 1.1l.5 5.6l.4 -7.6l.4 -2.6l.5 -5.4l.4 -25.8l.5 -9.5l.4 7l.4 34.8l.5 19.3l.4 7.9l.5 -5.2l.4 14.9l.4 14.5l.5 10.2l.4 -1.1l.5 .8l.4 17l.4 -2.4l.5 13.8l.4 6.3l.5 .6l.4 5.2l.4 24.6l.5 5.4l.4 -10.1l.5 -23.5l.4 -10.2l.4 -5.1l.5 -1.6l.4 -23.7l.5 -4.5l.4 -14.8l.4 -9.4l.5 -23l.4 -8l.5 13.9l.4 15.3l.4 -1.9l.5 12.8l.4 2.6l.5 13.5l.4 -9.8l.4 8.5l.5 -5.9l.4 -22.3l.5 14.3l.4 -2.5l.4 12.3l.5 1.6l.4 14.2l.5 -9.7l.4 -7.4l.4 19.9l.5 11.7l.4 1.3l.5 -11.7l.4 17l.4 8.3l.5 -9.1l.4 -19.9l.5 -20.6l.4 -7.9l.4 -13.5l.5 -24.7l.4 -14.7l.5 -.8l.4 -20.7l.4 -7.4l.5 -2.9l.4 -7.9l.5 -34.8l.4 -8.4l.4 5.6l.5 18.2l.4 24.5l.5 6.6l.4 20.2l.4 30.3l.5 20.6l.4 13.5l.5 22.5l.4 13.6l.4 19.9l.5 25.8l.4 11.8l.5 -1.7l.4 -16.3l.4 -13l.5 -11.4l.4 -14.8l.5 -14.8l.4 -5.9l.4 -16.3l.5 -6.1l.4 -5.3l.5 -17.3l.4 -13.3l.4 -5.8l.5 -11.6l.4 -6.1l.5 4.7l.4 7.1l.4 9.1l.5 13.8l.4 19.7l.5 -5.3l.4 8.9l.4 10.2l.5 7.2l.4 10.9l.5 23.7l.4 18.7l.4 29.9l.5 6l.4 -19.4l.5 -134.2l.4 -12.1l.4 8.5l.5 6.4l.4 6.9l.5 -3.8l.4 5.8l.4 -.6l.5 8l.4 1.4l.5 4.5l.4 -1.1l.4 -2.4l.5 2.7l.4 7.3l.5 -4l.4 3.5l.4 19.2l.5 -10.1l.4 -11.9l.5 -4.8l.4 2.3l.4 4.4l.5 -13.9l.4 -7.2l.5 17.1l.4 -4.6l.4 13.6l.5 14.2l.4 -22.9l.5 12.7l.4 5.4l.4 1.4l.5 7.1l.4 2.1l.5 6.6l.4 15.3l.4 -.7l.5 -11.8l.4 12.6l.5 7.2l.4 8.1l.4 -2l.5 3l.4 11.1l.5 -7.6l.4 -9l.4 10.2l.5 -6.1l.4 7.8l.5 -7.1l.4 -4l.4 3.8l.5 3.3l.4 -5.5l.5 15.3l.4 -4.8l.4 6l.5 5.1l.4 -4.2l.5 -42.1l.4 -9.6l.4 -10.7l.5 -11.1l.4 -23.4l.5 -13.6l.4 4.7l.4 23.2l.5 4.5l.4 7l.5 8.4l.4 5.8l.4 -1.1l.5 .9l.4 5.1l.5 8.3l.4 -4.8l.4 -1.3l.5 5.1l.4 8.8l.5 2l.4 4.5l.5 1.7l.4 12.8l.4 -8.9l.5 3.7l.4 -4.4l.5 1.3l.4 1.1l.4 -24.7l.5 13.4l.4 5.4l.5 9.4l.4 -.6l.4 -.4l.5 -4l.4 4.2l.5 -20.6l.4 -5.9l.4 -11.4l.5 4.9l.4 -2.3l.5 -16.4l.4 -8.7l.4 12.2l.5 11.9l.4 -1.6l.5 -9.6l.4 10.4l.4 5.7l.5 5.5l.4 0l.5 11.1l.4 .6l.4 12.1l.5 6.1l.4 5.2l.5 -4.5l.4 13.2l.4 14.9l.5 4.3l.4 17.5l.5 3.1l.4 -6.6l.4 -44.2l.5 -39.9l.4 -12.4l.5 13.1l.4 28.4l.4 -1l.5 -10.5l.4 -.8l.5 2.8l.4 7.8l.4 -3l.5 -3.8l.4 13.9l.5 2.4l.4 5.2l.4 -7.9l.5 -12.8l.4 -6.1l.5 -24.9l.4 7.6l.4 .3l.5 3.2l.4 -10.2l.5 8.2l.4 -37.5l.4 -4.4l.5 5.8l.4 10.9l.5 -3.5l.4 8.7l.4 7.5l.5 5.8l.4 19.7l.5 8.1l.4 7.8l.4 8.1l.5 5.1l.4 -17.9l.5 16.5l.4 -1l.4 -12.9l.5 -5.3l.4 -3.7l.5 -13.4l.4 -13.8l.4 -5.4l.5 9.3l.4 -20.2l.5 11.5l.4 -13.8l.4 -.1l.5 1.3l.4 10l.5 .7l.4 -8.9l.4 -2.9l.5 3.7l.4 8.4l.5 -1.1l.4 -4.5l.4 -5l.5 10.1l.4 -12.3l.5 -6.5l.4 1l.4 7.3l.5 -19l.4 -5.9l.5 -5.1l.4 5.8l.4 63.2l.5 21.9l.4 -6.2l.5 -17.2l.4 -10.3l.4 .1l.5 7l.4 -5.4l.5 -2.5l.4 -3.5l.4 -10.4l.5 .4l.4 .9l.5 7.7l.4 -7.2l.4 -9.6l.5 -.9l.4 -4.2l.5 7.9l.4 -3.8l.4 -11.1l.5 8.7l.4 .3l.5 1.7l.4 2.3l.4 6.3l.5 -11.6l.4 3.4l.5 -2.4l.4 -2.3l.4 -3.4l.5 -5.8l.4 .8l.5 -1.5l.4 3.6l.4 8.3l.5 -14.1l.4 12.6l.5 1.5l.4 -16.9l.4 -7.5l.5 -13.6l.4 9.7l.5 66.1l.4 32.1l.4 -9.8l.5 -18l.4 -9.5l.5 -13.2l.4 -10l.4 -4.4l.5 -2.2l.4 -5.9l.5 -8.2l.4 -20.3l.4 4l.5 33.4l.4 25.1l.5 16.9l.4 3.1l.4 12.7l.5 4l.4 6.7l.5 13l.4 19.2l.4 19.5l.5 8.4l.4 -4.5l.5 -33.7l.4 2.9l.4 1l.5 -.5l.4 -5.9l.5 -17.2l.4 -11.6l.4 -16l.5 -3.8l.4 9.6l.5 -20.4l.4 -3.8l.4 .5l.5 -20.8l.4 7.8l.5 -18.8l.4 -11.1l.5 -6.1l.4 -2.6l.4 -5.3l.5 -14.2l.4 -15.5l.5 -26.4l.4 -6.5l.4 6.9l.5 -13.6l.4 -8.2l.5 7l.4 28.5l.4 1.9l.5 3.6l.4 8.8l.5 -4.9l.4 23.5l.4 -.3l.5 5.4l.4 6.1l.5 9.2l.4 14l.4 18.5l.5 7.7l.4 18.2l.5 -.2l.4 10.6l.4 5.7l.5 -8.7l.4 -9.3l.5 -20.2l.4 1.7l.4 -5.3l.5 -11.3l.4 -14.4l.5 -3.3l.4 -19.9l.4 -2.1l.5 -2.5l.4 24.9l.5 .7l.4 14.6l.4 7.4l.5 -9.5l.4 -1.3l.5 7.9l.4 21.6l.4 20.3l.5 16.4l.4 4.8l.5 -9.2l.4 -31.7l.4 2.9l.5 1.5l.4 -30.5l.5 -14.2l.4 -6.2l.4 -7.4l.5 .8l.4 -1.5l.5 -28.3l.4 -11.8l.4 7.6l.5 13.9l.4 8l.5 9.7l.4 -.8l.4 21.1l.5 2.9l.4 2.2l.5 9.2l.4 -2.9l.4 7l.5 -15.1l.4 -3.2l.5 10l.4 7.9l.4 8l.5 5l.4 14.8l.5 16.9l.4 .1l.4 13.7l.5 6.2l.4 -6.5l.5 -4l.4 9.8l.4 25.2l.5 6.3l.4 -5.4l.5 -34.8l.4 -.2l.4 -14.4l.5 -3.1l.4 -36.4l.5 -6.6l.4 11.8l.4 2.5l.5 9.8l.4 -8l.5 -1l.4 12l.4 6.8l.5 5.5l.4 -11.4l.5 3l.4 -5.5l.4 8.3l.5 2.8l.4 4l.5 -3.8l.4 .1l.4 2.3l.5 -2.7l.4 -3l.5 -13.8l.4 -12.8l.4 -14.5l.5 .6l.4 6.7l.5 .1l.4 -20.2l.4 3l.5 -2.2l.4 -4.5l.5 -1.6l.4 .2l.4 4.8l.5 1l.4 4.5l.5 -38.3l.4 -12.7l.4 4.3l.5 22.7l.4 11.4l.5 -4.7l.4 1.9l.4 17.2l.5 -.5l.4 14.6l.5 8.6l.4 1.8l.4 10l.5 7.7l.4 3.6l.5 -1.7l.4 12l.4 1.2l.5 17.1l.4 5l.5 -9.7l.4 -1.4l.4 -1.5l.5 -1.9l.4 -3.3l.5 6.5l.4 -10.6l.4 -7.9l.5 -12.7l.4 -18l.5 9.7l.4 4.6l.4 9.8l.5 -16.2l.4 -6.9l.5 -4.2l.4 15.8l.4 2.3l.5 -7.7l.4 -5l.5 -1.8l.4 -13.1l.4 1.3l.5 -10.8l.4 -8.3l.5 10.2l.4 10.9l.4 -3.6l.5 1.6l.4 10.3l.5 -2.1l.4 -7l.4 4.2l.5 1.9l.4 4.6l.5 5.6l.4 2.1l.4 2.3l.5 12.1l.4 6.9l.5 8.5l.4 0l.4 -2.7l.5 4.3l.4 -9.7l.5 -3.4l.4 13.6l.4 .1l.5 -.4l.4 -2.7l.5 10.8l.4 -4.3l.5 16.4l.4 4.6l.4 -11l.5 18.2l.4 12.5l.5 -11.6l.4 -17.8l.4 -12.4l.5 -12.7l.4 -3.2l.5 -13.2l.4 3l.4 -15.8l.5 -6.1l.4 -24.8l.5 -2.1l.4 -11.8l.4 -4.2l.5 .9l.4 -29.8l.5 -6l.4 13.8l.4 -12l.5 1.6l.4 1.4l.5 19l.4 4.9l.4 13.7l.5 10.7l.4 -1.3l.5 4.4l.4 -5.8l.4 9.4l.5 4.5l.4 16.8l.5 7.4l.4 -1.3l.4 -3.6l.5 2.3l.4 4.6l.5 10.2l.4 10.5l.4 -8.4l.5 -3.4l.4 9.5l.5 -4l.4 7.1l.4 -6.7l.5 7.8l.4 5.7l.5 6.3l.4 3.2l.4 12.2l.5 21.3l.4 8l.5 -6.6l.4 -38.9l.4 -22.3l.5 -21.3l.4 -15.8l.5 -31.7l.4 -5.4l.4 6l.5 22.7l.4 .8l.5 5.7l.4 12.2l.4 7.9l.5 .1l.4 -.8l.5 15.6l.4 0l.4 13.3l.5 .7l.4 23.6l.5 -2.7l.4 26.8l.4 4.1l.5 -.2l.4 -2.8l.5 -9.2l.4 -14.6l.4 8.9l.5 -17.4l.4 -9.5l.5 -20.2l.4 -5.8l.4 -1.4l.5 -12.7l.4 -4.3l.5 -8.2l.4 -8l.4 -.1l.5 -.1l.4 -25.9l.5 -6.5l.4 10l.4 .9l.5 6.3l.4 3.4l.5 18.1l.4 23.5l.4 -2.8l.5 20.9l.4 1.1l.5 -1.2l.4 12.1l.4 16.4l.5 -3.1l.4 -1.1l.5 17.7l.4 6.8l.4 -21.6l.5 6.9l.4 1.7l.5 -.9l.4 1l.4 -4.8l.5 -3.9l.4 15.2l.5 -18.6l.4 -.4l.4 2l.5 -15.2l.4 -9.3l.5 -7.6l.4 9l.4 -9.6l.5 4.4l.4 -11l.5 -9.1l.4 5.6l.4 5.8l.5 -13.6l.4 -3l.5 6l.4 23.1l.4 9l.5 11.1l.4 22.4l.5 -2.5l.4 36l.4 35.3l.5 9.3l.4 -7.2l.5 -14.9l.4 -.8l.4 -14.6l.5 13.4l.4 -13.2l.5 3.2l.4 -2l.4 -12.5l.5 -8.5l.4 -11.9l.5 -2.6l.4 .6l.4 -5.4l.5 -7.9l.4 -4.1l.5 5.1l.4 -.4l.4 -4.8l.5 -13.4l.4 -9.6l.5 -.6l.4 -8.7l.4 -9.7l.5 7.6l.4 -5.7l.5 -4.5l.4 -10.8l.4 -2.3l.5 1.1l.4 -4.7l.5 -18.3l.4 -6.5l.4 2l.5 -15l.4 -3.8l.5 7l.4 15l.4 11.8l.5 2.4l.4 10.3l.5 -11.3l.4 -.2l.4 16l.5 11.9l.4 9.6l.5 9.5l.4 8.3l.4 -8.3l.5 16.7l.4 7.6l.5 -8.8l.4 -5.6l.4 11l.5 .9l.4 11.4l.5 3.3l.4 16.7l.5 10.4l.4 -8.3l.4 -25.1l.5 4.7l.4 -9.3l.5 1l.4 -6.1l.4 -4.8l.5 -21.5l.4 -2.4l.5 -10.3l.4 7.8l.4 7.3l.5 -1.2l.4 10.4l.5 -7.9l.4 -2.5l.4 -12.1l.5 -4.4l.4 -15.1l.5 -6.3l.4 4.6l.4 -6.2l.5 -8.1l.4 -5.4l.5 -.3l.4 5.2l.4 -19.9l.5 -3.8l.4 -4.8l.5 -5.6l.4 -3.5l.4 .4l.5 4l.4 -20.9l.5 -11.8l.4 -1.4l.4 4.8l.5 7.7l.4 2.6l.5 9.4l.4 .6l.4 4.4l.5 33.2l.4 1.6l.5 16.8l.4 2.3l.4 8.9l.5 -3l.4 10l.5 1.1l.4 -15.2l.4 -7.1l.5 16.6l.4 19.7l.5 4.6l.4 28.3l.4 13l.5 -10.9l.4 -34.6l.5 2l.4 3.1l.4 -19.5l.5 -12.5l.4 -6.8l.5 -9l.4 4.1l.4 -14.4l.5 -7.1l.4 6l.5 15.1l.4 -3.9l.4 -5.7l.5 10.1l.4 13.9l.5 8.9l.4 1l.4 -6.3l.5 3.8l.4 1.4l.5 1.9l.4 -3.2l.4 6.7l.5 4l.4 -13.3l.5 6.6l.4 -8.2l.4 3.6l.5 .9l.4 6.1l.5 -2.8l.4 -.4l.4 -1l.5 .1l.4 -6.7l.5 11l.4 -.4l.4 7.5l.5 3l.4 12.8l.5 6.5l.4 -13l.4 -23.7l.5 -5.5l.4 -13.4l.5 -11.6l.4 -2.7l.4 2.5l.5 -6.5l.4 -5.9l.5 -9.7l.4 2.9l.4 -43.4l.5 -10.6l.4 8.1l.5 42.5l.4 -2.3l.4 -11.6l.5 -6.6l.4 26.6l.5 4.6l.4 -2.3l.4 3.6l.5 -.2l.4 10.4l.5 4.4l.4 14.6l.4 19.5l.5 7.8l.4 4.1l.5 .1l.4 8.1l.4 -15.6l.5 -8.3l.4 -3l.5 -7.4l.4 7.8l.4 -1.7l.5 -6l.4 7.3l.5 -.1l.4 3.4l.4 -1.1l.5 -5l.4 -8.1l.5 -2l.4 5l.4 22.1l.5 10.2l.4 7.4l.5 1.7l.4 22.9l.4 3.7l.5 23.6l.4 3.6l.5 -19.4l.4 -60.8l.4 -8l.5 9.5l.4 17.2l.5 -8.3l.4 1.9l.4 -3.6l.5 .1l.4 16.7l.5 6.3l.4 .1l.4 3.4l.5 4.6l.4 -1.4l.5 -2.6l.4 0l.4 3.4l.5 15.1l.4 -13.8l.5 .3l.4 -4l.4 20.3l.5 -7.7l.4 8.9l.5 1.8l.4 .8l.4 5.5l.5 -.7l.4 -5.5l.5 13.6l.4 -13.6l.4 -14.3l.5 -1.2l.4 11l.5 -2.4l.4 4.8l.4 10.3l.5 5.9l.4 2.4l.5 7.6l.4 -2.3l.5 6.8l.4 -1.4l.4 6.4l.5 -3.4l.4 5.1l.5 -5.1l.4 -2.1l.4 -1.1l.5 2.6l.4 2.7l.5 5.4l.4 -8.1l.4 2.1l.5 -21.5l.4 -11.8l.5 -18.6l.4 -9.2l.4 6.9l.5 -6.2l.4 2.6l.5 7.4l.4 -20.8l.4 -1.9l.5 -1.3l.4 -1.6l.5 1.9l.4 .7l.4 -5.6l.5 -17.2l.4 2.6l.5 7.8l.4 -21.1l.4 -8.7l.5 -4.1l.4 -10.1l.5 -4l.4 -3.9l.4 2l.5 -11.5l.4 -8.1l.5 -23.3l.4 -9.4l.4 3.9l.5 24.2l.4 8.8l.5 13.4l.4 5.9l.4 -2.1l.5 2.1l.4 8.4l.5 13.7l.4 14.2l.4 19.2l.5 1.6l.4 2.7l.5 -2.5l.4 6.3l.4 13l.5 11.3l.4 11.2l.5 13.6l.4 7.5l.4 -.3l.5 38.5l.4 6.2l.5 -4.4l.4 1l.4 -28l.5 -15.7l.4 -5.3l.5 -5.4l.4 -8.2l.4 1.6l.5 6.5l.4 -1.8l.5 -5.4l.4 5.2l.4 -22.2l.5 -6.9l.4 -4.4l.5 -8l.4 -5.7l.4 -6.3l.5 -9.5l.4 -12.6l.5 -2.3l.4 2.7l.4 11.4l.5 9.9l.4 9.8l.5 -16.9l.4 1.1l.4 -.3l.5 10l.4 8.3l.5 3.5l.4 14.5l.4 -9.4l.5 -3.6l.4 -.9l.5 -2.9l.4 -9.9l.4 4.7l.5 -3.5l.4 -2.2l.5 -8.9l.4 -31.3l.4 -7.4l.5 6.1l.4 67.3l.5 31.9l.4 -8.8l.4 -43l.5 -1.7l.4 -5.9l.5 1.7l.4 -1.7l.4 9.7l.5 1.5l.4 4.8l.5 -9.5l.4 -22.8l.4 4.3l.5 16.2l.4 -5.2l.5 11.7l.4 -3.3l.4 1l.5 -.1l.4 -2.8l.5 .1l.4 -8.9l.4 9.7l.5 7.6l.4 10.9l.5 2.7l.4 13.7l.4 4l.5 -2.5l.4 -11.2l.5 -10.1l.4 -11.2l.4 -.2l.5 -16.5l.4 -1.7l.5 -8.5l.4 -32.3l.4 -.5l.5 -10.9l.4 -12.6l.5 -4.1l.4 -2.7l.4 12.5l.5 -12.2l.4 -18.2l.5 -9.2l.4 -23.7l.4 -5.8l.5 10.9l.4 -3.4l.5 3l.4 10.7l.4 18.9l.5 2.7l.4 4.7l.5 11.5l.4 3.2l.4 8.2l.5 5.2l.4 26.5l.5 3.8l.4 19.5l.4 6.2l.5 19.4l.4 -5.5l.5 7.4l.4 10.8l.4 -5.4l.5 -11l.4 -7.9l.5 12.1l.4 14l.4 -1.9l.5 -1.8l.4 -14.4l.5 -18l.4 -19.1l.4 5.5l.5 -20.2l.4 -2l.5 12.5l.4 -3l.4 -15.9l.5 -9.1l.4 9.3l.5 -12.9l.4 -5.4l.4 -12.4l.5 .8l.4 -4.9l.5 8.3l.4 -11l.5 -4.5l.4 -4.6l.4 8.6l.5 31.6l.4 7.7l.5 12.1l.4 14.3l.4 18.1l.5 -5.2l.4 5.5l.5 32.2l.4 17.2l.4 10.9l.5 16.9l.4 4.9l.5 -1.1l.4 -.1l.4 -20.1l.5 -7.4l.4 -4l.5 -5.4l.4 -16.2l.4 -6.7l.5 -12.4l.4 -6.2l.5 -1.1l.4 .2l.4 -17.8l.5 -7.6l.4 8.2l.5 10.6l.4 6.6l.4 2l.5 -6.8l.4 5.1l.5 13.2l.4 15.7l.4 3.5l.5 -6.2l.4 7.8l.5 1.5l.4 18.4l.4 -5.6l.5 20.9l.4 9.1l.5 -10.4l.4 -17.7l.4 -.8l.5 -6.6l.4 -7.7l.5 -14.4l.4 -7.8l.4 -17.8l.5 4.7l.4 -5l.5 8.8l.4 -19.4l.4 9.1l.5 -4.4l.4 -12.1l.5 -2.9l.4 -17.6l.4 -15.1l.5 17.4l.4 -10.8l.5 9.8l.4 19l.4 4.9l.5 14.4l.4 -.8l.5 -2.6l.4 14.1l.4 9l.5 .2l.4 13.1l.5 -9.4l.4 12.1l.4 -1.5l.5 5.4l.4 5.7l.5 12.1l.4 -43.2l.4 -99.2l.5 -12.6l.4 14l.5 14.6l.4 -9.8l.4 14.5l.5 4.9l.4 -8.4l.5 1l.4 11.6l.4 -8.8l.5 2l.4 -.3l.5 -2l.4 2l.4 -14.6l.5 13.9l.4 -1.3l.5 4.2l.4 -8.7l.4 23.8l.5 3.3l.4 -17l.5 -1l.4 1.9l.4 -3.2l.5 -4.9l.4 -2.6l.5 2.2l.4 10l.4 8.1l.5 14.3l.4 -.9l.5 -16.6l.4 5.4l.4 14.1l.5 -7.7l.4 5.9l.5 5.7l.4 -6.2l.4 2.6l.5 -4.2l.4 17l.5 6.1l.4 .1l.4 5.5l.5 4.5l.4 -7.1l.5 -41.5l.4 -22.4l.4 -18.6l.5 -.7l.4 -21.1l.5 -7.6l.4 6l.4 12l.5 12.9l.4 14.5l.5 -5.7l.4 -3.4l.4 -1.5l.5 6.3l.4 8.2l.5 8.2l.4 -4.7l.4 12.7l.5 -9.6l.4 7.1l.5 11.6l.4 7.2l.4 .6l.5 -5.1l.4 -.3l.5 -10.6l.4 -9.4l.4 -10.4l.5 8l.4 -13.8l.5 -7.2l.4 9.6l.4 -2l.5 7.8l.4 2.8l.5 -8.3l.4 -1.8l.4 -20.2l.5 -4.7l.4 7.3l.5 -6.3l.4 -7.2l.4 -27.3l.5 -10.6l.4 5.3l.5 34.2l.4 -16.7l.4 14.4l.5 11.4l.4 3.7l.5 2.2l.4 6.7l.4 31.8l.5 -5.6l.4 .7l.5 7.6l.4 5.9l.4 23.2l.5 7.5l.4 3.8l.5 12l.4 7.3l.4 3.4l.5 12.5l.4 7l.5 -4.5l.4 -21.9l.5 -5.3l.4 5l.4 -18.2l.5 -1.6l.4 -.2l.5 -8.5l.4 -7.3l.4 2.3l.5 -12.5l.4 -2.5l.5 -4l.4 -7.4l.4 -6.8l.5 -1.8l.4 2l.5 -20.4l.4 .5l.4 -15l.5 -13.9l.4 -3.2l.5 -4l.4 -19.8l.4 10.9l.5 -10.6l.4 -.4l.5 -29.8l.4 -3.6l.4 12.5l.5 21.7l.4 6.8l.5 4l.4 16.8l.4 6.7l.5 8.7l.4 1.5l.5 3l.4 11l.4 -2.3l.5 23.3l.4 4.6l.5 6.2l.4 5.4l.4 11.3l.5 13.5l.4 13.4l.5 1.1l.4 13.4l.4 12.9l.5 -11.8l.4 -14.1l.5 9.6l.4 -11.7l.4 -8l.5 7.7l.4 -5.9l.5 -3.4l.4 -8.5l.4 -9.8l.5 -3.9l.4 -9.3l.5 8.4l.4 -2.4l.4 11.3l.5 17.4l.4 -2.5l.5 11.4l.4 -2.7l.4 11.1l.5 -2.8l.4 -11l.5 4.8l.4 4.8l.4 10.9l.5 1.3l.4 7.4l.5 6.3l.4 -6.9l.4 -8.5l.5 -3.6l.4 -9.9l.5 5.7l.4 7.8l.4 -2.5l.5 -4.8l.4 -8l.5 7.9l.4 8.3l.4 -19.7l.5 18.2l.4 -14.5l.5 -8.1l.4 12.8l.4 64.3l.5 17.5l.4 -10.8l.5 -8l.4 -1l.4 11.9l.5 -12.5l.4 -14.6l.5 1.1l.4 -8.5l.4 -6l.5 -6.1l.4 -9.1l.5 -8.4l.4 -7.5l.4 -8.9l.5 -5.1l.4 12.5l.5 -7.3l.4 -11.9l.4 -11.5l.5 7.5l.4 -10l.5 -2.6l.4 -17.6l.4 -4l.5 -1.7l.4 1l.5 8.4l.4 15.4l.4 -.9l.5 3.1l.4 4l.5 2l.4 5.1l.4 4.6l.5 6.1l.4 7.6l.5 10.1l.4 8.1l.4 3.8l.5 -2.4l.4 1.3l.5 -.8l.4 -7.5l.4 -11.1l.5 9.4l.4 -28.7l.5 -.3l.4 -5.2l.4 4l.5 3.4l.4 -8.6l.5 -16.3l.4 -5.6l.4 -18.9l.5 -22.5l.4 -3.7l.5 9.1l.4 3l.4 8.6l.5 12.3l.4 7.5l.5 6.6l.4 3.7l.4 8.5l.5 21.1l.4 1.4l.5 -2.1l.4 2.6l.4 8.5l.5 16.6l.4 6.5l.5 14.6l.4 22l.4 4.1l.5 -10.2l.4 -5.7l.5 4.4l.4 1.5l.4 -3l.5 -14.2l.4 -5l.5 -2.3l.4 -2.4l.4 -6.5l.5 1.3l.4 1.4l.5 -.6l.4 -9.5l.4 -4.6l.5 -9.7l.4 -4.4l.5 6.2l.4 -2.6l.4 -2.3l.5 6.9l.4 -8.2l.5 -2.2l.4 -13.5l.4 7.7l.5 -3.6l.4 4l.5 1.8l.4 -5.6l.4 -.2l.5 -16l.4 -5.1l.5 -14.6l.4 10.6l.5 3.8l.4 8.1l.4 4.3l.5 3.9l.4 -11.3l.5 -23.2l.4 -10.4l.4 13.1l.5 23.8l.4 11l.5 6.5l.4 5.1l.4 -1.4l.5 -5.2l.4 13.4l.5 -2.4l.4 19.6l.4 7.3l.5 7.9l.4 2.5l.5 -9.5l.4 1.4l.4 16.8l.5 -3.2l.4 .1l.5 22.3l.4 10.4l.4 11l.5 -8.2l.4 -2.4l.5 0l.4 -6l.4 -22.4l.5 -5.7l.4 -16.5l.5 2.2l.4 -12.5l.4 8l.5 1.4l.4 -9.4l.5 -.6l.4 -3.4l.4 -4.6l.5 -5.4l.4 .3l.5 -6.2l.4 -9.1l.4 -2.1l.5 -11.1l.4 5.5l.5 -.6l.4 -23.7l.4 -4.6l.5 -3.4l.4 -3.4l.5 .5l.4 5.3l.4 3.5l.5 -25l.4 2.5l.5 -21.5l.4 -4.8l.4 10.1l.5 18l.4 6l.5 6.7l.4 20.2l.4 3.1l.5 6l.4 13l.5 21.1l.4 .3l.4 9.4l.5 15.6l.4 11.4l.5 -8.5l.4 -7.6l.4 .2l.5 -6.6l.4 6.1l.5 8.9l.4 -8.7l.4 -4.6l.5 -5.1l.4 3.1l.5 -1.5l.4 -7.4l.4 -7.2l.5 -11.2l.4 -5l.5 -2.1l.4 10.3l.4 .1l.5 -23.6l.4 -5.1l.5 8.9l.4 4.6l.4 -19.7l.5 -2l.4 10.5l.5 -10.9l.4 -6.2l.4 -1.3l.5 -10.4l.4 7.9l.5 -2.1l.4 -2.2l.4 -9.1l.5 6l.4 -7.4l.5 -11.4l.4 -7.7l.4 9l.5 94.1l.4 24.9l.5 3.1l.4 -39.7l.4 -3.9l.5 -2.1l.4 -2.6l.5 -5l.4 -19.9l.4 -6.6l.5 -19.8l.4 6.6l.5 .6l.4 1.7l.4 -18.7l.5 -18.7l.4 1.2l.5 -9.2l.4 -9.8l.4 -5.9l.5 -1.8l.4 1l.5 7.2l.4 11.2l.4 12.2l.5 5.8l.4 3.3l.5 5.8l.4 -.8l.4 3.5l.5 1l.4 -14.5l.5 11l.4 18.8l.4 12.6l.5 -3.9l.4 2.6l.5 1.6l.4 13.7l.4 -1l.5 -.1l.4 2.5l.5 -6.3l.4 -42.4l.4 -1.4l.5 -32.1l.4 -20.8l.5 -21.3l.4 -1.6l.4 6.7l.5 6.4l.4 17.8l.5 21.3l.4 5.6l.4 14.1l.5 1.1l.4 7.3l.5 2.5l.4 14.6l.4 6.4l.5 9.2l.4 10.4l.5 10.5l.4 -5.7l.4 7.6l.5 -.2l.4 4.6l.5 8.4l.4 12.6l.4 6.3l.5 5l.4 17.5l.5 7.9l.4 -12.2l.4 13.1l.5 4.7l.4 30l.5 2.6l.4 -5.6l.4 -47.1l.5 -26.9l.4 -35.9l.5 -38.3l.4 -68.2l.5 -9.2l.4 13.3l.4 47l.5 30.9l.4 21.3l.5 27.7l.4 19l.4 25.9l.5 43.4l.4 11.3l.5 -2.5l.4 1.2l.4 -14.5l.5 -22.7l.4 -1.6l.5 -12.9l.4 -2.9l.4 5l.5 -23l.4 -2.4l.5 -2.5l.4 3.6l.4 -1.6l.5 7.2l.4 -6.1l.5 -3.9l.4 -25.1l.4 -3.8l.5 -6.6l.4 -4.2l.5 4l.4 -16.3l.4 -23.3l.5 15.9l.4 -5.7l.5 -7.4l.4 7.3l.4 -1.2l.5 -7.1l.4 -5.7l.5 -2.2l.4 -15.9l.4 -4.7l.5 10.2l.4 -6l.5 -7.7l.4 6.1l.4 -10.8l.5 1.6l.4 -45.5l.5 -5.1l.4 8.9l.4 30.7l.5 -5.9l.4 24.8l.5 7.9l.4 20.8l.4 -5.6l.5 1.2l.4 -3.5l.5 8.3l.4 14.4l.4 23.7l.5 -.7l.4 2.9l.5 14.6l.4 8.9l.4 -.4l.5 3.6l.4 3.3l.5 19.3l.4 2l.4 13.3l.5 12.5l.4 -11.1l.5 -7.3l.4 -21l.4 -10.9l.5 5.8l.4 -4.2l.5 -17l.4 -16.1l.4 -17.2l.5 1.1l.4 -11.1l.5 12.6l.4 5.2l.4 27.3l.5 8.6l.4 -14.2l.5 5.3l.4 -6.4l.4 8.1l.5 3.1l.4 7.6l.5 2.2l.4 -14.8l.4 5.6l.5 -16.4l.4 -5.7l.5 -4.1l.4 2.9l.4 -10.1l.5 -.3l.4 .3l.5 13.2l.4 -24l.4 -5.7l.5 5l.4 23.6l.5 6.5l.4 12.4l.4 -2.3l.5 -17l.4 10l.5 13.4l.4 12.8l.4 10.7l.5 14.5l.4 3.4l.5 -1l.4 -3.1l.4 23.1l.5 6.7l.4 -9.5l.5 -32.2l.4 6.3l.4 -20.2l.5 .1l.4 -17.1l.5 -11.4l.4 5.7l.4 8.4l.5 .8l.4 11.3l.5 -3.4l.4 17.7l.4 -4.5l.5 -13.6l.4 -2.3l.5 -.7l.4 9.9l.4 -5.4l.5 16.9l.4 -3.8l.5 1.2l.4 14l.4 -14.6l.5 23.8l.4 -6.6l.5 -19.3l.4 12.1l.4 -6.6l.5 -18.6l.4 4.5l.5 9.5l.4 5.2l.4 -5.9l.5 -18.3l.4 -10.7l.5 1.9l.4 -3.3l.4 -9.6l.5 5.6l.4 -19.3l.5 8.2l.4 -17.6l.4 -14.8l.5 -8.1l.4 3.8l.5 31.2l.4 -9.9l.4 .1l.5 3.7l.4 9l.5 2.9l.4 1.6l.4 23.9l.5 12.3l.4 5l.5 12.6l.4 1.5l.4 -7.7l.5 -6l.4 17.6l.5 8.7l.4 7.9l.4 0l.5 11.2l.4 10.5l.5 19l.4 8.3l.4 -11.8l.5 4.2l.4 -5.9l.5 -1.7l.4 -17l.4 -4.7l.5 -26.5l.4 1.5l.5 -16.9l.4 -4.7l.5 -14.4l.4 -6.9l.4 -6.7l.5 -18l.4 -3.3l.5 2.1l.4 -7.9l.4 .7l.5 7.5l.4 -14.6l.5 -2.4l.4 -13.6l.4 -22.5l.5 -2.5l.4 -20.2l.5 -6.3l.4 11.3l.4 -18.5l.5 -18.7l.4 -9.2l.5 -2.3l.4 -.6l.4 -22.1l.5 -13l.4 7.6l.5 21.2l.4 16.3l.4 -1l.5 19.7l.4 7.1l.5 4.7l.4 -6.9l.4 8l.5 9.8l.4 19.4l.5 8.1l.4 -1.4l.4 -1.6l.5 19.7l.4 -.4l.5 25.7l.4 8.3l.4 2.1l.5 1.3l.4 21.3l.5 9.5l.4 9.2l.4 -6.7l.5 -27l.4 -12.2l.5 -20.7l.4 0l.4 -1l.5 -11.7l.4 22.8l.5 -18.3l.4 -12.6l.4 -1.2l.5 -2.5l.4 -4.1l.5 -9.1l.4 6.2l.4 -16.6l.5 -22l.4 -10.8l.5 -2.2l.4 -1.7l.4 12.4l.5 -19l.4 -9.2l.5 6.4l.4 13.8l.4 17.2l.5 -1.1l.4 22.7l.5 -.4l.4 4.5l.4 11.4l.5 -3.1l.4 14.7l.5 11.6l.4 21.7l.4 12.8l.5 -14.2l.4 15.3l.5 2.1l.4 4.2l.4 6.6l.5 30.3l.4 3.9l.5 8.8l.4 16l.4 21.3l.5 -.6l.4 4.6l.5 -13l.4 -13.3l.4 -12.4l.5 -18.7l.4 -10.7l.5 -12.5l.4 -12.9l.4 -7.9l.5 -.9l.4 -.4l.5 1.9l.4 12.1l.4 7.5l.5 -8.3l.4 -12.4l.5 26.9l.4 -3l.4 14l.5 -4.6l.4 11.9l.5 -2.2l.4 -5.4l.4 -7.4l.5 -1.7l.4 -7l.5 5.2l.4 1.2l.4 5.8l.5 4.4l.4 -9.8l.5 4.8l.4 1.4l.4 9.6l.5 11.7l.4 -8.1l.5 -19.2l.4 3.5l.4 2.7l.5 -5.4l.4 7.8l.5 .6l.4 7.9l.4 -9.7l.5 5.9l.4 .5l.5 .6l.4 10.2l.4 -5.2l.5 -1.8l.4 8.5l.5 4.8l.4 6.2l.4 -12.8l.5 -39.4l.4 11l.5 7.3l.4 -9.5l.4 -17.9l.5 -20.9l.4 0l.5 7.5l.4 -21.4l.4 -5.4l.5 7l.4 -3.5l.5 -12.6l.4 -18.5l.4 -11l.5 5.3l.4 31.4l.5 -9.6l.4 2l.4 3.7l.5 30.1l.4 -.3l.5 1.2l.4 -1.1l.4 26.3l.5 15.5l.4 -10.8l.5 -4.9l.4 9.2l.4 4.9l.5 6.6l.4 -2.7l.5 -9l.4 11.4l.4 .6l.5 31.1l.4 3.8l.5 5.1l.4 2.4l.4 -10.7l.5 -1.6l.4 -12.6l.5 -.7l.4 2.5l.4 -2.7l.5 -25.6l.4 8.4l.5 -5.9l.4 9.2l.4 -1.6l.5 -2.8l.4 1.2l.5 -9.1l.4 -1.6l.5 -5.3l.4 2.9l.4 4l.5 -12.1l.4 -6.2l.5 -8.1l.4 -1.7l.4 -8l.5 12.5l.4 88.9l.5 50.9l.4 -3.5l.4 -25.7l.5 3.3l.4 -15.3l.5 -2.5l.4 11.6l.4 -4.4l.5 -12.3l.4 -2.9l.5 -21.1l.4 -2.8l.4 -4.9l.5 -4l.4 -4.5l.5 -3.6l.4 -15l.4 -11.7l.5 -14.2l.4 .5l.5 -20l.4 -2.3l.4 -9.2l.5 -.1l.4 14.4l.5 -14l.4 1.3l.4 1.6l.5 -32.7l.4 -11.6l.5 5.1l.4 13.2l.4 4.1l.5 6.5l.4 9.5l.5 2.9l.4 17.3l.4 9.4l.5 3.4l.4 7.2l.5 -9.1l.4 -2.8l.4 1.2l.5 14.9l.4 22.6l.5 2l.4 -2l.4 2.2l.5 12.4l.4 -7.1l.5 -7.6l.4 5.3l.4 6.5l.5 -5.9l.4 -6.9l.5 -8.8l.4 -.8l.4 -29.9l.5 2.2l.4 -.2l.5 -6l.4 -6.1l.4 .1l.5 -8.5l.4 1.1l.5 -12.1l.4 -.8l.4 -15l.5 -5.2l.4 7l.5 32.4l.4 10l.4 18.1l.5 8.8l.4 -1.3l.5 14.1l.4 17.3l.4 6.6l.5 -6.4l.4 -14.8l.5 -8.2l.4 -9.6l.4 4.3l.5 4.2l.4 -17.1l.5 -7.2l.4 -9.2" fill="none" stroke="#00f" stroke-width="5" stroke-linejoin="round" marker-start="url(#ms)" marker-mid="url(#ms)" marker-end="url(#ms)"/>
<path d="M207.5 529.5l.4 17.2l.5 -10.5l.4 -10.7l.5 13.4l.4 11l.4 2.6l.5 13l.4 -22.7l.5 -7.2l.4 32.7l.4 1.6l.5 11.9l.4 -25.9l.5 -14.5l.4 27.9l.4 21.2l.5 -27.2l.4 13.3l.5 5.1l.4 -4.3l.4 52.7l.5 -18.6l.4 38.2l.5 -28.6l.4 -19.3l.4 13.3l.5 1.1l.4 7.8l.5 12.8l.4 5l.4 41.2l.5 -7.7l.4 8.2l.5 -11l.4 -3.3l.4 -19l.5 -9.7l.4 3l.5 -16.4l.4 -4.9l.4 8.4l.5 -29.8l.4 22.8l.5 -14.8l.4 13.3l.4 -11.9l.5 17l.4 -18.5l.5 -12.6l.4 -27.4l.4 -4.2l.5 13.4l.4 37.6l.5 11.8l.4 -1.9l.4 12.5l.5 -31.6l.4 16.9l.5 0l.4 33.5l.4 28.3l.5 7.2l.4 -6.4l.5 -34.3l.4 8.8l.4 -26l.5 -7.8l.4 15.9l.5 -11.8l.4 -9.8l.4 23.4l.5 -24.6l.4 -28.5l.5 8.4l.4 -18.2l.4 -12.8l.5 7.3l.4 20.3l.5 15.3l.4 10.4l.4 -11.6l.5 6.1l.4 9.4l.5 -4.3l.4 30.7l.4 -35.4l.5 -7l.4 31.1l.5 -9.3l.4 -15.8l.4 38.4l.5 6.3l.4 -18.6l.5 2.7l.4 40.3l.4 4.9l.5 1.8l.4 -11.4l.5 -.7l.4 5.4l.5 -20.6l.4 -5.7l.4 3.7l.5 -12.8l.4 -8.9l.5 5.2l.4 8.6l.4 -12.4l.5 2.4l.4 -21.5l.5 -1l.4 -28.7l.4 29l.5 -30.2l.4 -6.1l.5 12.8l.4 -9.9l.4 24l.5 25.1l.4 -25.6l.5 -11.8l.4 5.6l.4 11.7l.5 -10.4l.4 17.2l.5 -26.1l.4 39.9l.4 -22.1l.5 4.3l.4 23.9l.5 -1.3l.4 -39l.4 11.4l.5 44.3l.4 -12.3l.5 -1.3l.4 32.3l.4 -9.9l.5 12l.4 -16.7l.5 7.3l.4 4.7l.4 7.7l.5 13.2l.4 -38.7l.5 16.2l.4 5.5l.4 19.2l.5 -6.6l.4 20.3l.5 12.7l.4 -5.1l.4 -5.6l.5 -2.6l.4 -30.1l.5 26.1l.4 4.2l.4 -15.3l.5 7.7l.4 9.9l.5 -1.9l.4 -25.8l.4 -5l.5 27.4l.4 -4.2l.5 -32.2l.4 7.5l.4 -2.6l.5 8.6l.4 -7.1l.5 20.7l.4 -49.6l.4 -18.3l.5 26.2l.4 15.9l.5 -36.2l.4 -2.9l.4 15.2l.5 -9.4l.4 -7.1l.5 -10.3l.4 10.9l.4 33.6l.5 4.6l.4 -33.7l.5 31.7l.4 29l.4 -21.4l.5 17.8l.4 -13.4l.5 -2.7l.4 -17.4l.4 8.3l.5 -48.3l.4 16.6l.5 -18.4l.4 -6.2l.4 13.3l.5 -4.7l.4 31.9l.5 2.4l.4 -3.7l.4 15.8l.5 -17.8l.4 25.5l.5 4.7l.4 5.4l.4 6.2l.5 -12l.4 4.4l.5 -14.9l.4 22.2l.4 -11.3l.5 -49.7l.4 25.9l.5 -6.8l.4 12.9l.4 11.6l.5 -14.5l.4 -38l.5 -15.1l.4 26.7l.4 -9.5l.5 14.7l.4 -5.1l.5 -6.1l.4 15.1l.4 -21.7l.5 -1.4l.4 -27.9l.5 -3.5l.4 12.4l.4 2.5l.5 6l.4 18.1l.5 28.5l.4 -15.9l.4 -11.1l.5 25l.4 -4.1l.5 9.4l.4 -9.8l.4 4.9l.5 21.1l.4 -32.6l.5 6.6l.4 11l.4 -25.2l.5 -35.5l.4 22.5l.5 -17.5l.4 7l.4 -1.4l.5 -33.4l.4 -18.5l.5 -10.6l.4 12.2l.4 40.6l.5 -2.4l.4 28.8l.5 10.6l.4 -28.4l.4 15.6l.5 4.3l.4 -29.7l.5 17.8l.4 38.1l.4 -5.6l.5 -1l.4 11.3l.5 23l.4 -21.2l.4 43.5l.5 5.8l.4 -4.8l.5 -40.5l.4 11.6l.4 -27.2l.5 5l.4 -19l.5 28l.4 -1l.4 -34.8l.5 -10.1l.4 .3l.5 31l.4 -36.6l.4 2.2l.5 6.8l.4 17.7l.5 -31l.4 -15.1l.4 -17.8l.5 -8.4l.4 1.6l.5 43.5l.4 4.8l.4 7.8l.5 5.3l.4 -11.8l.5 -1.5l.4 6.6l.5 -21.2l.4 35.3l.4 -21l.5 -24.5l.4 32.5l.5 -23.2l.4 17l.4 -3.4l.5 23.1l.4 -53.6l.5 -27.5l.4 33.9l.4 1.5l.5 -14.8l.4 -9l.5 16.8l.4 -1.3l.4 -23.8l.5 -.4l.4 -9.7l.5 7.1l.4 4.7l.4 15.2l.5 25.2l.4 11l.5 -.9l.4 -16.4l.4 4.5l.5 -3l.4 11.5l.5 15.8l.4 4.3l.4 -9.9l.5 -23.3l.4 -3.5l.5 -27.4l.4 11.2l.4 10.9l.5 -16.6l.4 -1.4l.5 -42.9l.4 -3.5l.4 7.4l.5 4.7l.4 19.2l.5 10.5l.4 -9l.4 37.9l.5 -39.6l.4 27.7l.5 -36l.4 12.2l.4 7.2l.5 63.5l.4 -31.7l.5 50.7l.4 -5.9l.4 31l.5 -24.2l.4 7.6l.5 22l.4 -24.3l.4 8.9l.5 65.9l.4 9.6l.5 -10.2l.4 -29.3l.4 -6.1l.5 -13.6l.4 2.1l.5 -27.3l.4 -25l.4 24l.5 24.6l.4 -63.3l.5 -4.8l.4 13.1l.4 8.4l.5 -17.1l.4 13.4l.5 -3.3l.4 -.1l.4 11.4l.5 -9l.4 -2.9l.5 10.5l.4 .8l.4 -20l.5 26.8l.4 -4.1l.5 -10.8l.4 1.4l.4 -15.2l.5 15.5l.4 -13.2l.5 38.6l.4 15.5l.4 -13.4l.5 2.8l.4 -12.3l.5 -5l.4 27.2l.4 -9.7l.5 -7.8l.4 -13.1l.5 -5.1l.4 34.9l.4 3.7l.5 -7.6l.4 8.7l.5 -46l.4 -9.6l.4 -5.4l.5 4.3l.4 9.4l.5 6.6l.4 -9.1l.4 14.7l.5 -26.8l.4 54.6l.5 -26.5l.4 9.1l.4 1.8l.5 -17l.4 39.8l.5 -13.9l.4 -10.6l.4 9.5l.5 -38.4l.4 18.9l.5 13.4l.4 -38.6l.4 13.9l.5 -28.9l.4 22.7l.5 -3.2l.4 -36.2l.4 44.8l.5 -45.2l.4 -5.1l.5 13.3l.4 -8.2l.4 4.6l.5 11.9l.4 -4.9l.5 -4l.4 8.3l.4 -9.6l.5 11.6l.4 -11.8l.5 28l.4 31l.4 -17.1l.5 5.9l.4 34.5l.5 -48.3l.4 30.2l.4 -13.7l.5 14.1l.4 0l.5 23.7l.4 27.5l.4 6l.5 -6.3l.4 1.2l.5 -1.9l.4 1.2l.4 -15.6l.5 -7.6l.4 .4l.5 .8l.4 -15.3l.4 -17.8l.5 27.5l.4 9.6l.5 -15.5l.4 23l.4 -3l.5 -24.1l.4 -16l.5 4.4l.4 -22l.4 -.6l.5 -14l.4 .2l.5 18.4l.4 -16.2l.4 13.2l.5 -10.5l.4 -2.7l.5 -1.2l.4 -30.6l.4 -.6l.5 -7.4l.4 5.4l.5 16l.4 36.3l.5 -16.9l.4 -16.5l.4 -18.3l.5 12.4l.4 2.7l.5 7.6l.4 8.3l.4 -22.2l.5 36.6l.4 2.2l.5 5.8l.4 -1.1l.4 29.8l.5 -8.6l.4 -26.9l.5 39.7l.4 1.6l.4 -14.5l.5 48.2l.4 11.3l.5 -7.4l.4 -49.8l.4 -.5l.5 7.9l.4 3.2l.5 -25.6l.4 -40.2l.4 1.8l.5 -4.3l.4 4.4l.5 5.8l.4 31.9l.4 -26.2l.5 29.4l.4 -8.1l.5 15.2l.4 4.8l.4 11.2l.5 19.8l.4 -24.1l.5 -31.3l.4 -22.3l.4 -.5l.5 27l.4 -24.5l.5 -36.6l.4 -9.1l.4 8.5l.5 -1.9l.4 -4.1l.5 28.5l.4 -17.3l.4 -7.8l.5 -3.5l.4 11.4l.5 -16.7l.4 5l.4 36.4l.5 3.1l.4 -1.6l.5 -20.2l.4 -1.9l.4 -20.9l.5 10.5l.4 35.7l.5 13.8l.4 23.6l.4 6.4l.5 .7l.4 6.5l.5 -4l.4 17.5l.4 -35.9l.5 54.1l.4 -15.1l.5 -21.8l.4 37.5l.4 36.9l.5 -21.4l.4 24.1l.5 -8.3l.4 -5.4l.4 12.3l.5 -12.9l.4 16.5l.5 0l.4 -3.8l.4 -10.5l.5 -13.5l.4 22.4l.5 -24.7l.4 12.9l.4 16.1l.5 -7.9l.4 12.8l.5 -12.1l.4 10.2l.4 -54.6l.5 31.9l.4 -5.1l.5 10.6l.4 -12.1l.4 13.4l.5 -28.4l.4 4.5l.5 11.2l.4 -28.4l.4 -7.5l.5 -.6l.4 -43.6l.5 6l.4 -24.5l.4 30.7l.5 -9.6l.4 -12.1l.5 23l.4 -34.2l.4 -14.5l.5 3l.4 -11.7l.5 -38.4l.4 -10.6l.4 13.8l.5 -4l.4 4.7l.5 -.4l.4 16.7l.4 -9.9l.5 -13.8l.4 25.6l.5 -13.8l.4 22.9l.4 -28.9l.5 .4l.4 12.3l.5 -3.6l.4 16.8l.4 -8.1l.5 11.5l.4 20.4l.5 22.3l.4 -7.5l.4 26.9l.5 8.6l.4 -20.7l.5 38.5l.4 -4.1l.4 -6.3l.5 11.3l.4 17.5l.5 30.1l.4 6.6l.4 33.6l.5 12l.4 -8.5l.5 -14.2l.4 -25.5l.4 -27.2l.5 19.4l.4 -16.2l.5 -31l.4 19.8l.4 -6.2l.5 -.6l.4 -1.1l.5 -25.9l.4 -14.9l.4 -24.1l.5 -23.9l.4 -4.7l.5 21.8l.4 -15.8l.4 6l.5 -3.1l.4 -7l.5 16.4l.4 -20.5l.4 10.6l.5 22.4l.4 -25.5l.5 6.4l.4 23.9l.4 -35.4l.5 27.3l.4 -22.4l.5 -.1l.4 -13.6l.4 45.9l.5 -13.4l.4 28.1l.5 -21.4l.4 19.3l.4 2.3l.5 19.5l.4 -7.4l.5 -29.7l.4 36.6l.4 -12.3l.5 -3.2l.4 10.8l.5 29.6l.4 -1.1l.5 -9.5l.4 -18l.4 15.2l.5 -6.4l.4 -15.3l.5 14.2l.4 .4l.4 -3.3l.5 5.8l.4 14.7l.5 -21.4l.4 -2.4l.4 -.2l.5 -26.1l.4 -10l.5 -13.7l.4 -6.3l.4 -4l.5 13.4l.4 -42l.5 25.6l.4 3.7l.4 4.2l.5 -37l.4 -7.5l.5 3.8l.4 18.2l.4 -14.8l.5 20.8l.4 19.3l.5 -1.4l.4 -21.5l.4 43.2l.5 -24.5l.4 15l.5 -26l.4 27.5l.4 18.4l.5 5.6l.4 4.8l.5 1l.4 -14.1l.4 1.1l.5 41l.4 -27.6l.5 2.5l.4 23.3l.4 -12.3l.5 17.3l.4 -29.1l.5 22.7l.4 -8.3l.4 -19.5l.5 8.7l.4 -8.2l.5 5.6l.4 -5.5l.4 17.7l.5 1.3l.4 -12.6l.5 7l.4 -24.2l.4 11.9l.5 -12.2l.4 12.9l.5 6.9l.4 -20.5l.4 20.1l.5 -18.5l.4 17l.5 21.5l.4 -.6l.4 -7.4l.5 1.8l.4 2.4l.5 -9.4l.4 -23.2l.4 41.4l.5 0l.4 2.6l.5 0l.4 .2l.4 -4.3l.5 -2l.4 -1.1l.5 .9l.4 -5.6l.4 -.9l.5 -11.2l.4 3.3l.5 -27l.4 18.8l.4 4.2l.5 3l.4 -40.8l.5 -1.3l.4 -4.2l.4 -1.8l.5 -30.9l.4 20.2l.5 36.9l.4 -26.1l.4 -36.1l.5 -.2l.4 -4.2l.5 -20.2l.4 4.1l.4 -9.5l.5 9.7l.4 -14l.5 13.4l.4 -16.4l.4 5.7l.5 -9.7l.4 9.4l.5 -5.9l.4 -9.7l.4 -4.2l.5 3.9l.4 15.4l.5 5.3l.4 17.3l.4 -29.6l.5 23.4l.4 -8.7l.5 -1.6l.4 -10.6l.4 57.7l.5 -20l.4 -4.6l.5 13.7l.4 -22.7l.4 38.8l.5 18.3l.4 6.8l.5 -13l.4 21.2l.4 34.6l.5 -10.3l.4 -6.5l.5 8.1l.4 39.1l.4 -22.6l.5 22.6l.4 7.2l.5 -7.6l.4 -11.2l.4 -38.1l.5 15.6l.4 -.3l.5 -9.6l.4 -33.7l.4 13l.5 -2.8l.4 37.5l.5 -22.7l.4 -15l.4 25.3l.5 -40.8l.4 16.7l.5 10.4l.4 -29.4l.4 -7.4l.5 -11.6l.4 -1.7l.5 1l.4 13.1l.4 40.3l.5 -11.8l.4 60.1l.5 -57.3l.4 18.1l.4 -14.7l.5 45.3l.4 -2.3l.5 30.9l.4 -38.1l.4 6.2l.5 -39.5l.4 26.1l.5 48.3l.4 1.3l.4 44l.5 6.6l.4 -7.7l.5 -17.1l.4 -39.2l.4 28.6l.5 1.2l.4 -22.2l.5 6.2l.4 -5.5l.4 -16.2l.5 13.9l.4 18l.5 -47.4l.4 20.3l.4 -16.5l.5 .9l.4 -11.9l.5 -7.7l.4 -1l.5 -26.5l.4 -5.1l.4 23.8l.5 8.2l.4 -14.3l.5 6.6l.4 34l.4 .2l.5 1.7l.4 2.1l.5 -4.6l.4 -18.8l.4 26l.5 -.5l.4 6.9l.5 -7.9l.4 5.8l.4 -.9l.5 42l.4 -6.8l.5 6.5l.4 -8.3l.4 -51.2l.5 4.4l.4 -25l.5 14.7l.4 3.3l.4 -17.1l.5 .5l.4 -3.3l.5 -16.6l.4 -22.1l.4 24.4l.5 1.4l.4 8.6l.5 18l.4 1.7l.4 20.1l.5 -7.1l.4 -3.8l.5 50.9l.4 3.6l.4 5.8l.5 -3.9l.4 -26.2l.5 19.7l.4 -27.9l.4 15.4l.5 -4.2l.4 7l.5 -10.7l.4 10.8l.4 -13.6l.5 8.8l.4 -11.8l.5 -12.6l.4 -29.6l.4 -7l.5 12l.4 10.7l.5 -32.5l.4 5.9l.4 -30.4l.5 29.6l.4 -55.3l.5 -5l.4 4.2l.4 5.6l.5 .9l.4 21.8l.5 21.5l.4 -35.4l.4 16.1l.5 -18.5l.4 25.5l.5 -11.6l.4 15.8l.4 15.6l.5 10.2l.4 11.2l.5 1.1l.4 -5.9l.4 -25.2l.5 -7.9l.4 18.7l.5 1.4l.4 -30.2l.4 -.5l.5 -11.5l.4 12.1l.5 -13.3l.4 26.2l.4 -6.9l.5 6l.4 -10.9l.5 10.3l.4 -14.2l.4 -10.8l.5 18.1l.4 -12.5l.5 -11.4l.4 38.2l.4 -16.9l.5 -4l.4 30.4l.5 4.3l.4 1.6l.4 9.3l.5 21.2l.4 6.6l.5 2.8l.4 7.9l.4 -26.4l.5 33.9l.4 -20.7l.5 17.6l.4 4.4l.4 -10.5l.5 -23.7l.4 42.3l.5 -34.5l.4 29.4l.4 -6.1l.5 -3.1l.4 -.5l.5 15.8l.4 -7.6l.4 -8.3l.5 17.1l.4 -13.4l.5 26.4l.4 -28.3l.4 28.4l.5 4l.4 -6.3l.5 -33.4l.4 -1.6l.4 10.4l.5 4.5l.4 -5.7l.5 22.3l.4 -11.4l.4 -5.5l.5 -10.7l.4 -24.1l.5 25.2l.4 -16.3l.4 2.5l.5 8.3l.4 -42.6l.5 21.8l.4 -49.5l.4 -5.9l.5 -9.7l.4 17.5l.5 -37.3l.4 32.5l.4 -4l.5 -4.4l.4 -18.5l.5 -22.1l.4 -10.3l.4 12.3l.5 9l.4 -9.3l.5 6.8l.4 27.3l.4 -41.4l.5 37.8l.4 -2.4l.5 -33.4l.4 3.8l.4 23.7l.5 26.3l.4 -3l.5 24.7l.4 -9.9l.4 -16l.5 30l.4 6.6l.5 -12.2l.4 6.9l.4 22.6l.5 8.8l.4 -8.3l.5 -51.9l.4 -29.5l.4 -29l.5 -10.2l.4 20.2l.5 -9.4l.4 11.9l.4 -19.5l.5 22.1l.4 -15.4l.5 9.4l.4 -.9l.5 15.7l.4 -21.3l.4 -6.6l.5 -1.2l.4 4.1l.5 3.5l.4 18.1l.4 14.6l.5 10.1l.4 1.7l.5 34l.4 -16.1l.4 -2.8l.5 24.4l.4 2.5l.5 3l.4 18.2l.4 -9.6l.5 36.2l.4 14.1l.5 -6.7l.4 -.1l.4 -5.7l.5 12l.4 2l.5 -8.4l.4 2.4l.4 -1.7l.5 -6.5l.4 19.7l.5 4.2l.4 -9.4l.4 10.9l.5 -2.9l.4 -23.2l.5 -5.8l.4 -30.2l.4 41.2l.5 -34.6l.4 19.2l.5 -10.2l.4 -15.9l.4 -5.5l.5 19l.4 -24.7l.5 -8.2l.4 -6.3l.4 -7.8l.5 -6.8l.4 23.7l.5 -31.2l.4 20.4l.4 -7.5l.5 -6l.4 -1.1l.5 -9l.4 23l.4 -3.1l.5 .5l.4 -2l.5 10.5l.4 -16.3l.4 -10.3l.5 11.8l.4 -16.1l.5 34l.4 6.9l.4 -2.9l.5 7.6l.4 -16.5l.5 -10.9l.4 4.7l.4 -2.6l.5 10.1l.4 -21.3l.5 -17.9l.4 1l.4 -8.9l.5 7.7l.4 7.3l.5 -8.7l.4 -27.1l.4 -2.9l.5 12.2l.4 6.9l.5 27.7l.4 -17.2l.4 -.6l.5 29.8l.4 4.4l.5 -18.3l.4 -32.5l.4 44.3l.5 18.6l.4 -41.9l.5 52.7l.4 -47.7l.4 34.8l.5 2.7l.4 2.6l.5 -18.8l.4 30.5l.4 .8l.5 -4.6l.4 -6.2l.5 -1.3l.4 -21.3l.4 4.4l.5 -17.9l.4 52.2l.5 -21l.4 -14.8l.4 14.3l.5 -5.8l.4 23.8l.5 -36.6l.4 24.8l.4 -44.5l.5 17.3l.4 1.2l.5 -18.8l.4 13.1l.4 -18.1l.5 -16l.4 -1.3l.5 27.1l.4 -21.7l.4 -5.7l.5 -21.7l.4 -.4l.5 3.7l.4 19.6l.4 2.3l.5 -36.4l.4 -1.6l.5 5.9l.4 21.6l.4 9.7l.5 -9.8l.4 34.6l.5 -8.7l.4 11.1l.4 -34.2l.5 4.7l.4 34.8l.5 12.1l.4 -23.2l.4 3.8l.5 8.7l.4 .1l.5 -1.9l.4 9.9l.4 49.1l.5 -34.5l.4 15.2l.5 -41.7l.4 28.9l.4 7.2l.5 -27.6l.4 19.3l.5 -12.9l.4 33.2l.4 -42.3l.5 -1l.4 -14.9l.5 12.4l.4 10l.4 -27.7l.5 28.4l.4 -35.8l.5 -4.6l.4 8.2l.4 20.1l.5 26.5l.4 5l.5 .3l.4 26.2l.4 -41.2l.5 19l.4 18.9l.5 14.1l.4 -7.2l.4 6.6l.5 55.4l.4 4.8l.5 -6.8l.4 .1l.4 -11.9l.5 10.7l.4 -27.4l.5 19.7l.4 -11.3l.4 -15.9l.5 16.5l.4 3.3l.5 -2.3l.4 -3.8l.4 -4.4l.5 -4.6l.4 -25.3l.5 22.9l.4 5.2l.5 -26.2l.4 23.2l.4 -21.5l.5 -5.1l.4 -8.5l.5 16.1l.4 -37.1l.4 7.9l.5 3.9l.4 -27.5l.5 -11.1l.4 33.1l.4 -17.9l.5 2.6l.4 -23.2l.5 -24.9l.4 -4.2l.4 6.6l.5 51.4l.4 26l.5 -12.4l.4 5.6l.4 -1.3l.5 -4.1l.4 -4.6l.5 18.4l.4 -1.4l.4 -13.4l.5 7l.4 -21.9l.5 16.2l.4 -9.3l.4 27.1l.5 -21.2l.4 -28.1l.5 .5l.4 -16.5l.4 23.1l.5 -33.2l.4 -1.9l.5 17.9l.4 -15.3l.4 7.9l.5 -6.9l.4 -17l.5 -22.2l.4 18.9l.4 -11.9l.5 .8l.4 20l.5 -.2l.4 .1l.4 -1.5l.5 20.5l.4 -47.9l.5 8.8l.4 36l.4 -5.9l.5 -6l.4 10.4l.5 27.7l.4 .2l.4 -15.5l.5 -38.9l.4 34.8l.5 -32.4l.4 15.9l.4 -3.9l.5 -35.1l.4 4l.5 -5.1l.4 3.9l.4 19.9l.5 .3l.4 -37.1l.5 -6.6l.4 5.7l.4 25.9l.5 -22.3l.4 -4.8l.5 7l.4 8.7l.4 -15.2l.5 .3l.4 9.6l.5 8.8l.4 -17.6l.4 36.5l.5 14.1l.4 18.4l.5 -1l.4 25.1l.4 -22.2l.5 22.4l.4 28.1l.5 22.3l.4 -36l.4 56.6l.5 5.4l.4 -12.3l.5 9.5l.4 -28.3l.4 28.3l.5 -24.4l.4 22.2l.5 -4.8l.4 -11.5l.4 19.9l.5 -10.5l.4 -24.5l.5 -18.5l.4 40.3l.4 -9.8l.5 18.6l.4 -31.2l.5 10.8l.4 -26.3l.4 4.5l.5 -11l.4 -37.4l.5 16.1l.4 11.7l.4 -14.3l.5 12.2l.4 -33.1l.5 -16.4l.4 10.9l.4 -11.9l.5 37.3l.4 -33.1l.5 1l.4 -36.3l.4 -7.7l.5 6.3l.4 -8.4l.5 59l.4 12.2l.4 -21.9l.5 31.9l.4 7.2l.5 -2.9l.4 -20l.4 40.1l.5 -33.9l.4 25.9l.5 -27l.4 13.9l.4 33.9l.5 -20.9l.4 1.2l.5 34.3l.4 28.8l.4 10.2l.5 -4l.4 -40.2l.5 -29.8l.4 3l.4 -51.6l.5 18l.4 -30.1l.5 -23.2l.4 -.3l.4 -9.3l.5 -15.4l.4 23l.5 -49.7l.4 -.4l.4 -48.3l.5 -12.2l.4 7.6l.5 -3.7l.4 14.6l.4 40.5l.5 7.2l.4 -11.1l.5 -9.7l.4 8l.4 26.1l.5 17.6l.4 -38.1l.5 9l.4 -9.9l.4 36.1l.5 -10.4l.4 12.2l.5 -9.6l.4 38.8l.4 -.4l.5 19l.4 -1.2l.5 -13.5l.4 -3.1l.4 -7.4l.5 9.6l.4 -4.9l.5 -42.5l.4 -12.3l.4 46.8l.5 -26.9l.4 -.9l.5 17.5l.4 -10.1l.5 -3.5l.4 3.6l.4 -16l.5 -1.4l.4 -10.5l.5 5.6l.4 -20.5l.4 -3.6l.5 10.2l.4 6.8l.5 22.8l.4 -5.7l.4 10.9l.5 -2.6l.4 -29.2l.5 40.7l.4 .4l.4 -16.6l.5 51.9l.4 -52.2l.5 51.3l.4 1.2l.4 21.6l.5 29.1l.4 12.1l.5 2.5l.4 -32.9l.4 41.1l.5 -20.8l.4 18.5l.5 20.2l.4 36.1l.4 9.7l.5 -5.6l.4 -22.7l.5 4.1l.4 -12.9l.4 -.7l.5 22.5l.4 1l.5 -10.4l.4 -19.6l.4 19.8l.5 -38.1l.4 35.5l.5 3.6l.4 -5.7l.4 -4.1l.5 -1.1l.4 .9l.5 -8.9l.4 7.2l.4 -52.3l.5 -14.4l.4 5.1l.5 37.7l.4 -76.1l.4 26.6l.5 -15.2l.4 15.1l.5 4.8l.4 -26.2l.4 28l.5 4.4l.4 -49.6l.5 -21.5l.4 -4.3l.4 4.2l.5 26.9l.4 6.6l.5 -24.2l.4 31.8l.4 15.9l.5 -29.7l.4 -15.1l.5 30.1l.4 13.4l.4 -14.1l.5 13.5l.4 -13l.5 18.9l.4 11.8l.4 5l.5 -.3l.4 -13.2l.5 -4.7l.4 -25.1l.4 -7.2l.5 20l.4 8.4l.5 -6.8l.4 4.5l.4 -8.1l.5 -5.8l.4 -7.4l.5 .1l.4 1.7l.4 -25l.5 -28.7l.4 7.4l.5 -3.4l.4 15l.4 12.7l.5 -46.7l.4 10.1l.5 -6.7l.4 -7.4l.4 -8.1l.5 11.4l.4 47.9l.5 -17.5l.4 17.6l.4 12.4l.5 13.1l.4 -9.2l.5 20.2l.4 -7.3l.4 -1.3l.5 35.5l.4 -45.3l.5 43.1l.4 -12.7l.4 9.6l.5 .1l.4 23.8l.5 20.3l.4 -11.6l.4 42.6l.5 6l.4 -11.8l.5 -44.9l.4 6.1l.4 5.4l.5 -29.3l.4 10l.5 -11.8l.4 19.7l.4 -51.3l.5 .7l.4 22.3l.5 -29.3l.4 29.5l.4 -4.6l.5 -24.3l.4 -6.4l.5 7.5l.4 -8.5l.4 -28.5l.5 -7.5l.4 4.1l.5 25l.4 22.5l.4 5.5l.5 -26.5l.4 6.1l.5 1.6l.4 16.7l.4 5.7l.5 -22.8l.4 5.7l.5 29.4l.4 -31.4l.4 63.1l.5 -7.8l.4 -22.8l.5 20.3l.4 -23.2l.4 -15.8l.5 41.9l.4 -38.1l.5 .6l.4 3.5l.4 -9l.5 7l.4 -21.4l.5 14.9l.4 -18.9l.4 -12.5l.5 -9.3l.4 12.2l.5 -4.2l.4 11.8l.4 5.9l.5 -18.5l.4 -5.9l.5 23.9l.4 -7.1l.4 12.1l.5 -14.6l.4 -13.4l.5 31.3l.4 .3l.4 .8l.5 45.1l.4 -6.1l.5 -8.7l.4 20.8l.5 -2.5l.4 -5.9l.4 21.9l.5 5.3l.4 -17.4l.5 44.3l.4 7.1l.4 -1.6l.5 -24.7l.4 22.9l.5 -35.9l.4 15.6l.4 2.5l.5 5l.4 -5.7l.5 3.7l.4 2.1l.4 5.5l.5 -40.8l.4 3.6l.5 -24l.4 -3.7l.4 -15.1l.5 4.1l.4 25.4l.5 -27.8l.4 -3.4l.4 -36.2l.5 -5.1l.4 4.9l.5 26l.4 21.3l.4 -8.5l.5 -3.2l.4 21.7l.5 2.3l.4 22.2l.4 -33.4l.5 10.6l.4 23.4l.5 -17.4l.4 45.1l.4 -.3l.5 -9.7l.4 13l.5 -4.3l.4 -23.8l.4 -10.6l.5 26.3l.4 -9.3l.5 -25.7l.4 -7.3l.4 -11.5l.5 -5.9l.4 36.1l.5 -8.4l.4 -9.1l.4 -22l.5 6.1l.4 12.3l.5 -26.9l.4 15.4l.4 -16.6l.5 4.9l.4 -8.5l.5 -12.2l.4 15.2l.4 -2.2l.5 -15l.4 40.3l.5 -17.9l.4 5.9l.4 19.1l.5 -43.6l.4 31l.5 15.5l.4 -3.5l.4 -20.1l.5 27.2l.4 27.2l.5 -47.8l.4 -7.7l.4 7.8l.5 -19.5l.4 -10.1l.5 25.8l.4 -41l.4 24.3l.5 -35.6l.4 -28.3l.5 38l.4 4.8l.4 -29l.5 -21.8l.4 -3.2l.5 5.2l.4 47.5l.4 -7.9l.5 41.7l.4 5.8l.5 10.2l.4 16.6l.4 28.4l.5 -20.1l.4 -9.5l.5 -24.6l.4 -20l.4 17l.5 -.8l.4 -43.7l.5 -11.6l.4 13.8l.4 -11.4l.5 48.7l.4 -30.2l.5 11.8l.4 -6.1l.4 3.9l.5 -14.2l.4 -4.7l.5 10.2l.4 3.1l.4 -11.4l.5 9.5l.4 16l.5 2.2l.4 15.4l.4 4.5l.5 29.4l.4 -21.5l.5 -.3l.4 43.6l.4 -22.8l.5 39.3l.4 8.5l.5 5.7l.4 -3.7l.4 -29.3l.5 25.1l.4 -.5l.5 -14.4l.4 24.4l.4 -14.2l.5 -12.9l.4 29l.5 -42.7l.4 12l.4 7.8l.5 -29.7l.4 2.8l.5 -33.9l.4 13.8l.4 3.5l.5 -22.9l.4 3.8l.5 -2.2l.4 -1.7l.4 -15.1l.5 -4l.4 18.9l.5 -10l.4 21.4l.4 -19.6l.5 -5.7l.4 6.3l.5 10l.4 -17.1l.4 33.7l.5 -29.2l.4 36.5l.5 -39.7l.4 -3l.4 29.7l.5 28l.4 4.7l.5 5.4l.4 9l.4 3.2l.5 16.2l.4 -17.5l.5 15.1l.4 -13.8l.4 14.9l.5 1.9l.4 21.5l.5 8.9l.4 -11.5l.4 -9.7l.5 11.5l.4 -1.2l.5 -26.2l.4 14.2l.4 18.2l.5 5.5l.4 -14.1l.5 12.8l.4 .9l.4 -10.3l.5 10.2l.4 8.3l.5 -11.1l.4 -21.4l.5 -8.6l.4 -22.6l.4 -26.6l.5 42l.4 -42.4l.5 43.1l.4 -41.5l.4 30.9l.5 -2.3l.4 -38.6l.5 -22.5l.4 1.5l.4 .7l.5 -8.2l.4 22.8l.5 26.1l.4 .9l.4 12.9l.5 -40.2l.4 10.4l.5 13.1l.4 2l.4 20.4l.5 -27.9l.4 52.6l.5 1.8l.4 .4l.4 -10.2l.5 -20.8l.4 1.8l.5 30.2l.4 -11.4l.4 2.1l.5 5l.4 -26.7l.5 39.4l.4 -22.8l.4 4.2l.5 .3l.4 -51.9l.5 -10.6l.4 30.8l.4 -52.3l.5 .8l.4 -3.3l.5 -3.9l.4 4.4l.4 -13.6l.5 -25.2l.4 -5.2l.5 11.9l.4 14.7l.4 43.4l.5 11.7l.4 -23l.5 54.9l.4 -.1l.4 48.5l.5 11.8l.4 -12.3l.5 -25l.4 -11.7l.4 -24.7l.5 17.2l.4 -9.8l.5 -24.2l.4 23.6l.4 12.9l.5 -44.9l.4 46.7l.5 -13.3l.4 -8.9l.4 -26.4l.5 20.4l.4 -42.9l.5 -24.8l.4 -5.8l.4 6.5l.5 25.1l.4 19.1l.5 -37.7l.4 23.2l.4 -9.1l.5 -3.5l.4 12.6l.5 27.7l.4 14.7l.4 -5.8l.5 -5.4l.4 -4.4l.5 -36.8l.4 9.5l.4 -16.6l.5 10l.4 -32.1l.5 31.4l.4 -18.6l.4 -1.8l.5 -26.5l.4 -7.5l.5 8.7l.4 -9.8l.4 47l.5 3.4l.4 -16.9l.5 30l.4 3.6l.4 -33.3l.5 5.9l.4 -4.5l.5 45.5l.4 -53.1l.4 15.2l.5 24.9l.4 16.6l.5 4.7l.4 -5.7l.4 11.3l.5 15.1l.4 -.6l.5 -8.9l.4 5.6l.4 4.1l.5 -.4l.4 -7.5l.5 -17.3l.4 14.8l.4 8.6l.5 -28.3l.4 4.6l.5 17.3l.4 2l.4 -18.1l.5 -19.4l.4 -10.9l.5 -20.7l.4 -9.7l.4 -26.6l.5 22.7l.4 28.6l.5 -41.8l.4 -6.3l.4 5.5l.5 -46.3l.4 -5.8l.5 -.6l.4 19.5l.4 -17.8l.5 2.6l.4 3.9l.5 10.3l.4 9.5l.4 -2.2l.5 -15.2l.4 17l.5 -14l.4 23.7l.4 31.2l.5 46.7l.4 33.7l.5 44.4l.4 -37.7l.4 22.3l.5 3.9l.4 7.9l.5 19.5l.4 85.3l.4 8.5l.5 -10.6l.4 -25.3l.5 1.2l.4 -51.4l.4 37.6l.5 -42.4l.4 14.4l.5 -7.8l.4 -11.3l.4 9.3l.5 12.3l.4 -23.4l.5 10.9l.4 6.5l.4 -38l.5 -26l.4 -6.2l.5 -2.8l.4 -7.4l.4 -48l.5 35.5l.4 .8l.5 43l.4 -36.5l.4 28.8l.5 -4.6l.4 15.4l.5 15l.4 -31.3l.5 -15.9l.4 43.7l.4 -30.3l.5 16.8l.4 12.8l.5 -29.6l.4 21l.4 20.1l.5 7.1l.4 7.4l.5 -11.8l.4 -8.4l.4 12.4l.5 -10l.4 8.5l.5 -23.3l.4 -14l.4 5.1l.5 5.5l.4 5.2l.5 -20.2l.4 27.2l.4 -37.4l.5 11.9l.4 -35.8l.5 -14.5l.4 12.3l.4 -21.8l.5 11.6l.4 -23.6l.5 24.5l.4 -.4l.4 -40.8l.5 -40.2l.4 -18.1l.5 7.6l.4 1l.4 -4.8l.5 14.3l.4 16.9l.5 -16l.4 -1.7l.4 -13.5l.5 2.8l.4 .9l.5 -7.2l.4 .6l.4 -6.8l.5 6.1l.4 15.4l.5 47l.4 -17.5l.4 15.4l.5 40l.4 9.6l.5 -6.6l.4 -16.5l.4 -29.3l.5 40.6l.4 9.7l.5 2l.4 -19.5l.4 13.6l.5 -28l.4 10.4l.5 -27.5l.4 20.2l.4 16.4l.5 -33.4l.4 21.3l.5 37l.4 -26.2l.4 -15l.5 12.9l.4 -15.6l.5 -26.5l.4 50l.4 -35.5l.5 -3.6l.4 -1l.5 -32.6l.4 10.2l.4 14.9l.5 -18.8l.4 4.1l.5 -11.3l.4 -3.8l.4 22.6l.5 -31.2l.4 23.1l.5 -27.1l.4 -11l.4 9l.5 27.3l.4 46.5l.5 -15.7l.4 25.8l.4 11.8l.5 -12.7l.4 -16.4l.5 17l.4 16.5l.4 -6.7l.5 24l.4 -9.8l.5 52.1l.4 5.2l.4 -4.3l.5 -51.9l.4 12.6l.5 -26.8l.4 -25.9l.4 19.8l.5 11.3l.4 -50.4l.5 59.9l.4 -38.2l.4 -17.3l.5 14l.4 -41.1l.5 23.6l.4 -13l.4 -53.5l.5 -8.3l.4 3l.5 -2.7l.4 8.7l.4 -4.2l.5 10.5l.4 7.8l.5 -1.8l.4 -6.9l.4 8.3l.5 13.7l.4 -13.9l.5 25.9l.4 -11.3l.4 27.9l.5 -26.2l.4 38.7l.5 -16l.4 32.6l.4 -1.7l.5 3.3l.4 20.7l.5 -16l.4 39.1l.4 .3l.5 -6.5l.4 4.2l.5 15.8l.4 -22.1l.4 20.2l.5 -7.6l.4 -14.4l.5 -31.2l.4 40.1l.4 13.7l.5 -24.3l.4 18.3l.5 -31.6l.4 29.6l.4 5.2l.5 -24l.4 3l.5 -29.6l.4 44.2l.4 -36.8l.5 18.4l.4 -18l.5 -4.8l.4 11.9l.4 56.7l.5 9.2l.4 -4.7l.5 -9.6l.4 -33.3l.4 .5l.5 -26.2l.4 11.4l.5 -12.9l.4 21.7l.4 4.5l.5 6.6l.4 -9.6l.5 8.8l.4 27.6l.4 4.3l.5 2.1l.4 -2l.5 -41.7l.4 17.2l.4 4.1l.5 -2.5l.4 4.2l.5 -30.7l.4 24.9l.4 -19.7l.5 7.8l.4 14.8l.5 -29.8l.4 -24.2l.5 -25l.4 20.6l.4 -52.2l.5 16.3l.4 -27.5l.5 32.3l.4 -16.6l.4 -5.8l.5 -20.7l.4 -2.7l.5 11.8l.4 46.6l.4 -8.2l.5 33.2l.4 -7.6l.5 -3.9l.4 -15.2l.4 34.4l.5 -29.9l.4 46.6l.5 -2l.4 41.5l.4 -9.1l.5 -4.5l.4 -42.6l.5 34.9l.4 13.6l.4 -41.5l.5 -10.1l.4 -1.8l.5 -9l.4 -5l.4 -9.1l.5 6.4l.4 27.2l.5 -3.8l.4 25l.4 7.4l.5 7.6l.4 6.5l.5 -7.6l.4 12.3l.4 -33.2l.5 22.5l.4 33.5l.5 -8.9l.4 -1.5l.4 2.3l.5 14.2l.4 36.5l.5 5.1l.4 -8.6l.4 -32.7l.5 -39.4l.4 2.1l.5 24.9l.4 -8.2l.4 25.4l.5 -55.2l.4 -8l.5 -1.7l.4 35.7l.4 -8.6l.5 21.5l.4 .2l.5 -19.4l.4 21.7l.4 -18.3l.5 -18.6l.4 23l.5 20.1l.4 -4.8l.4 -16.3l.5 33.3l.4 3.4l.5 1.2l.4 -40.8l.4 2l.5 -9.7l.4 -12.5l.5 -31.8l.4 16.8l.4 21.7l.5 -38.2l.4 49l.5 -51.2l.4 20.5l.4 -13.3l.5 -21.6l.4 15.8l.5 -10.6l.4 -15.1l.4 -17.5l.5 -12.7l.4 13.2l.5 18.4l.4 -32.5l.4 -2.7l.5 34.5l.4 6.2l.5 -32l.4 15.2l.4 -11.3l.5 22.5l.4 -16.1l.5 14.4l.4 -21l.4 32.6l.5 -3.1l.4 48l.5 -13l.4 -25l.4 -6.9l.5 34.8l.4 -23.3l.5 26.6l.4 5.3l.4 8.6l.5 2.9l.4 -.9l.5 -14.6l.4 5.6l.4 11.2l.5 5.6l.4 -8.8l.5 -51l.4 -2.6l.4 -45l.5 5.4l.4 3l.5 -8.2l.4 -6.7l.4 6.3l.5 -34.2l.4 6.8l.5 -51.5l.4 -11.9l.4 30l.5 -14.4l.4 37.8l.5 1.6l.4 3.7l.4 15.9l.5 12.9l.4 -6.5l.5 -10.2l.4 37.9l.4 -19.6l.5 12.6l.4 -10.7l.5 21.2l.4 24.6l.4 -18.2l.5 45.8l.4 12.6l.5 -4.1l.4 -4l.4 -58.4l.5 19.6l.4 -21.7l.5 6l.4 -13l.4 -30.3l.5 -6.1l.4 27.3l.5 -19.7l.4 28l.4 31.7l.5 -18.9l.4 -9.3l.5 32.1l.4 -5.6l.4 -24.8l.5 8.3l.4 -4.1l.5 42.3l.4 -28.3l.4 7.9l.5 32.4l.4 25.1l.5 -27.6l.4 9.5l.4 -43.1l.5 24.9l.4 -15.8l.5 -7.1l.4 -38.2l.4 48.4l.5 -15.5l.4 .5l.5 -23.8l.4 34.1l.4 -36.4l.5 4.4l.4 -21.7l.5 -13l.4 9l.5 27.9l.4 26.4l.4 -16.7l.5 31.4l.4 -19.4l.5 23.7l.4 -22.9l.4 30.2l.5 -1.1l.4 -7.8l.5 1.8l.4 11.3l.4 26.3l.5 -12.9l.4 11.1l.5 16l.4 27.2l.4 9.5l.5 6.4l.4 9.6l.5 -8.7l.4 -48.5l.4 -27l.5 -7.8l.4 12.8l.5 -9.4l.4 2.4l.4 12.8l.5 -24.6l.4 41.7l.5 -18.5l.4 -1l.4 -11l.5 27.5l.4 -24.7l.5 37.9l.4 -24.5l.4 25.9l.5 -3.5l.4 19.8l.5 17.2l.4 -19.3l.4 -7.7l.5 15.9l.4 -6.1l.5 21.2l.4 -15.7l.4 39.3l.5 9.1l.4 -10.2l.5 -33.9l.4 1.7l.4 1.3l.5 4.7l.4 -28.4l.5 16.1l.4 -21.3l.4 -17.4l.5 31.5l.4 -18.9l.5 -23l.4 -32.1l.4 -46.6l.5 3.9l.4 -20.5l.5 -31.3l.4 2.7l.4 -27.6l.5 -22.3l.4 18.9l.5 -76.5l.4 -6.2l.4 8.5l.5 4.9l.4 -.5l.5 16.5l.4 .2l.4 1.2l.5 -19.7l.4 6.4l.5 17l.4 16.4l.4 41.4l.5 -59.2l.4 57.9l.5 47.7l.4 12.3l.4 18.8l.5 -33.7l.4 4.2l.5 40.9l.4 -26.3l.4 49.4l.5 60.2l.4 12.4l.5 -7.7l.4 -15.6l.4 -43.7l.5 12.8l.4 -27.8l.5 -19.7l.4 -25l.4 27.6l.5 -21.8l.4 37.3l.5 -31.3l.4 7l.4 -2.8l.5 -58.6l.4 20.6l.5 1.8l.4 -8.5l.4 -24.3l.5 -34l.4 -9.3l.5 11.5l.4 16.5l.4 .4l.5 -3.2l.4 -8.4l.5 24.8l.4 -17.9l.4 10.6l.5 -6.2l.4 -.4l.5 20.1l.4 -.7l.4 -8.3l.5 13.1l.4 -13.4l.5 40.2l.4 -6l.4 57l.5 11.3l.4 -15.6l.5 -18.1l.4 17.5l.4 47.7l.5 11.8l.4 3.4l.5 51.1l.4 7.8l.4 -13.2l.5 -17.6l.4 13.3l.5 -.5l.4 -59.6l.4 28.7l.5 -21.1l.4 -16.9l.5 16.5l.4 10.1l.4 3.4l.5 -2.9l.4 5.4l.5 -19.3l.4 -15.9l.4 45.5l.5 -4.9l.4 -61.3l.5 -5.7l.4 -5.8l.4 -1.8l.5 10.5l.4 -2.1l.5 21.5l.4 5.9l.4 6.3l.5 -7.4l.4 -6l.5 10.5l.4 -29.4l.4 33l.5 -17.6l.4 41.5l.5 1.2l.4 -16.3l.4 -10.5l.5 29.8l.4 -11.6l.5 -5.2l.4 -18l.4 11.8l.5 -20.5l.4 11.7l.5 -32.8l.4 -.8l.4 -7.5l.5 7.3l.4 16.5l.5 24l.4 -20.8l.4 -5.1l.5 21l.4 3.5l.5 -5.8l.4 -8.9l.4 18.1l.5 -21.8l.4 24.4l.5 9.8l.4 4.8l.5 -10.4l.4 -13.7l.4 -5.7l.5 -31.9l.4 -23.7l.5 26.4l.4 -18.3l.4 -1l.5 -5.9l.4 -41.2l.5 -5.6l.4 5.5l.4 27.7l.5 -2.6l.4 27.8l.5 -41.9l.4 33.6l.4 9.5l.5 -14.1l.4 31.4l.5 7.5l.4 3.6l.4 -11.3l.5 0l.4 35.9l.5 -20.1l.4 48.4l.4 -1.5l.5 6.5l.4 -14.4l.5 6.7l.4 -37.8l.4 30l.5 -8.6l.4 -.1l.5 19.3l.4 2.8l.4 -8.7l.5 4.6l.4 -17.3l.5 -13.7l.4 18.6l.4 -.1l.5 -16.9l.4 -7.4l.5 15.7l.4 -25.3l.4 16.2l.5 -51.4l.4 8.8l.5 -12.7l.4 27l.4 -45.6l.5 -7.8l.4 12.7l.5 -9.9l.4 22.9l.4 -13.1l.5 -14.9l.4 -16.7l.5 -41.7l.4 -1.7l.4 -3.2l.5 12.6l.4 7.4l.5 16.8l.4 -25.7l.4 9.9l.5 -7.9l.4 25.6l.5 -22.7l.4 12.8l.4 -9.6l.5 22.3l.4 -2l.5 -19.1l.4 18.4l.4 4.6l.5 16.8l.4 -.1l.5 39.1l.4 31.6l.4 -19.6l.5 -19.9l.4 8l.5 23.8l.4 -4.1l.4 11l.5 51.7l.4 10l.5 -10.7l.4 -23.1l.4 1.8l.5 -4.3l.4 6.2l.5 -19l.4 -2.3l.4 -6.4l.5 -24.9l.4 4l.5 -47.9l.4 54.2l.4 -6.2l.5 20.5l.4 22.8l.5 -1.5l.4 13.7l.4 -68.2l.5 69.1l.4 4l.5 13.3l.4 -7.3l.4 -9.7l.5 -26.8l.4 -1.3l.5 -20.1l.4 21.8l.4 -10.8l.5 -.4l.4 33l.5 -47.2l.4 24.7l.4 -42.2l.5 -5.7l.4 8.4l.5 3.7l.4 57.4l.4 -49.7l.5 15.3l.4 12l.5 20.6l.4 -3.4l.4 -.1l.5 -12.8l.4 7.9l.5 18.4l.4 4.7l.4 -34.7l.5 -18l.4 58.3l.5 -8.2l.4 10l.4 -14.9l.5 31.4l.4 5.6l.5 -8.4l.4 -4.7l.4 -20.1l.5 -9l.4 -10.4l.5 -3.4l.4 -45.4l.4 26.6l.5 -2.1l.4 33.6l.5 -14.6l.4 -26.2l.4 -1l.5 -7.4l.4 -15l.5 23l.4 -2.9l.4 -30.3l.5 -15.1l.4 -11.5l.5 9.2l.4 8.6l.4 -5.4l.5 24.2l.4 47l.5 -26l.4 9.7l.4 -19.9l.5 16.8l.4 -19.2l.5 25.6l.4 -32.8l.4 5.9l.5 62.8l.4 -30.8l.5 28.9l.4 -13.4l.4 26.5l.5 3.7l.4 -13l.5 5.8l.4 11.9l.4 -45.6l.5 21l.4 14.9l.5 6.6l.4 -4.8l.4 -2l.5 -22.1l.4 42.1l.5 -6.5l.4 -46.2l.4 35.1l.5 -51.2l.4 38.5l.5 -23l.4 9.4l.5 -35.5l.4 26.6l.4 -32.4l.5 12.4l.4 -10l.5 -2.9l.4 33.7l.4 -20.7l.5 15.3l.4 -28.6l.5 .6l.4 -27.1l.4 -5.3l.5 6.4l.4 7.5l.5 19.3l.4 34.8l.4 1.9l.5 1.1l.4 13l.5 13l.4 3.4l.4 -26.3l.5 1.2l.4 43.9l.5 -24.7l.4 16.2l.4 -13.7l.5 -3.2l.4 16.6l.5 40.8l.4 -10.9l.4 38.2l.5 1.3l.4 -11l.5 -52.9l.4 7.2l.4 19.1l.5 -17.9l.4 -60.5l.5 24.5l.4 -27.8l.4 29.1l.5 25.7l.4 -21.8l.5 35.4l.4 -15.1l.4 44.9l.5 10.3l.4 -43.6l.5 -70.5l.4 -12.9l.4 6.4l.5 23.9l.4 -20.5l.5 42.7l.4 -31.4l.4 12.8l.5 -2.5l.4 -5.2l.5 -17.9l.4 21.8l.4 -9.9l.5 -.6l.4 -1.1l.5 25.4l.4 -6.9l.4 12.5l.5 -23.1l.4 -22.1l.5 -4.9l.4 30l.4 -16.1l.5 -8.7l.4 2.7l.5 -29.2l.4 31.5l.4 -42.4l.5 11.8l.4 -6.9l.5 -6.1l.4 -13.7l.4 -5.4l.5 -5.3l.4 6.4l.5 38l.4 9.2l.4 .5l.5 .6l.4 -2.7l.5 36.4l.4 -24.7l.4 1.9l.5 38.5l.4 32.6l.5 -35.5l.4 15.5l.4 -11.7l.5 -23.9l.4 -8.8l.5 22.6l.4 -12.5l.4 12.8l.5 -36.7l.4 -.5l.5 -.8l.4 2.3l.4 -10.1l.5 -11l.4 18.1l.5 -9.5l.4 45.1l.4 -32.6l.5 20.8l.4 -11.6l.5 14l.4 8.7l.4 -38.8l.5 29l.4 32.5l.5 -2.1l.4 7.4l.4 -4.2l.5 5.6l.4 -32.1l.5 30.1l.4 -7.5l.4 1.7l.5 2.8l.4 -7l.5 19.2l.4 -18.4l.4 8l.5 -7.7l.4 6l.5 -3l.4 -22l.4 31.4l.5 -36.5l.4 20.4l.5 -11.9l.4 -26.8l.4 12.9l.5 -9.3l.4 6.7l.5 -17.8l.4 29.7l.4 -15.1l.5 11.5l.4 -29.1l.5 -6.7l.4 10.9l.4 -18.7l.5 -8.1l.4 5.6l.5 -3.5l.4 14.3l.4 -20.1l.5 38.2l.4 -33l.5 -.3l.4 23.3l.4 -18.2l.5 -11.9l.4 17.2l.5 25.4l.4 -3.4l.4 29.4l.5 16.8l.4 6.5l.5 20.6l.4 -16.5l.4 19.9l.5 -23.7l.4 29.9l.5 -.1l.4 12.2l.4 -8.5l.5 27.3l.4 -.8l.5 -.2l.4 -4.3l.4 -9.3l.5 -2.6l.4 -13.8l.5 -10.2l.4 -12l.4 21.5l.5 -13.5l.4 -15.8l.5 43.1l.4 -12l.4 -20.2l.5 -29.7l.4 .4l.5 -13.6l.4 -21.8l.5 20.2l.4 -15.2l.4 -38.4l.5 21.8l.4 -33.5l.5 31l.4 -1.9l.4 2.8l.5 -72.6l.4 50.8l.5 -55.5l.4 -3.4l.4 6.6l.5 64l.4 16.4l.5 -7.6l.4 29.2l.4 13.9l.5 7.1l.4 -29.7l.5 -28.2l.4 18l.4 -14.5l.5 -44.7l.4 -9.2l.5 5.6l.4 14.1l.4 20.2l.5 6.5l.4 20.7l.5 17.1l.4 -16.3l.4 23.3l.5 -29.1l.4 -1.4l.5 25.5l.4 -11.2l.4 15.5l.5 -28.1l.4 13.6l.5 15.4l.4 2.6l.4 23.3l.5 2.8l.4 8.6l.5 9.3l.4 -11.7l.4 -26l.5 -3.9l.4 6l.5 -19.5l.4 29.6l.4 13.2l.5 -47.9l.4 27.1l.5 -17.1l.4 36.3l.4 -4.9l.5 -26.5l.4 -16.7l.5 -18.1l.4 -2.5l.4 22.2l.5 -18l.4 -6.7l.5 23.1l.4 -30.7l.4 -5.1l.5 -22l.4 -11.7l.5 -9l.4 5.4l.4 43.3l.5 -24.1l.4 11.6l.5 30.2l.4 -5l.4 9.1l.5 13l.4 -13.7l.5 14.6l.4 33l.4 -26.4l.5 -2.9l.4 14l.5 -7.7l.4 27.3l.4 18.2l.5 -11.8l.4 41.3l.5 5.6l.4 -7.9l.4 6.4l.5 -41.8l.4 -25.5l.5 25.7l.4 -22.8l.4 -7.5l.5 4.8l.4 15.4l.5 5.4l.4 -40.3l.4 24.3l.5 -21.2l.4 2.9l.5 -7.6l.4 -13.8l.4 11.3l.5 -6.5l.4 23l.5 11.2l.4 -14l.4 -2.4l.5 -10l.4 4.7l.5 57.9l.4 -32.3l.4 22.9l.5 7.7l.4 -9l.5 -29.8l.4 -6.1l.4 -29l.5 24.7l.4 -21.5l.5 -11.5l.4 2.1l.4 21.1l.5 1.7l.4 -41.1l.5 7.1l.4 -27.5l.4 -26.7l.5 -2.2l.4 10.8l.5 37.7l.4 -36.1l.4 5.2l.5 -7.9l.4 17.3l.5 36.4l.4 2.6l.4 23.2l.5 -12.6l.4 -17l.5 13.8l.4 14.3l.4 -44.9l.5 -1.1l.4 42.1l.5 9.7l.4 -30.2l.4 32.4l.5 20.2l.4 12.3l.5 -7.3l.4 -1.1l.4 -1.5l.5 -32.9l.4 -9.1l.5 23.6l.4 -29.1l.4 9.7l.5 7.8l.4 -28.3l.5 -19.1l.4 51.9l.4 -25.3l.5 10.6l.4 -11.9l.5 -36.8l.4 4.8l.4 -5l.5 1l.4 .6l.5 6.1l.4 6.4l.4 -12.5l.5 19l.4 20.6l.5 -33.3l.4 27l.4 -25l.5 -3.2l.4 -6.2l.5 36.6l.4 -11.7l.4 -1.4l.5 37.2l.4 -16.1l.5 12.8l.4 -31.2l.4 15.7l.5 9.6l.4 18.9l.5 4.8l.4 2.6l.4 -2.9l.5 25.4l.4 -8.1l.5 1.1l.4 -18.4l.5 29.8l.4 -1.4l.4 -4.5l.5 -9.7l.4 8.4l.5 10l.4 -37.2l.4 35.6l.5 -7.7l.4 12.3l.5 -8l.4 -44.5l.4 6.4l.5 37l.4 -51.7l.5 -7l.4 -6.9l.4 -11.2l.5 9.5l.4 22.5l.5 -38.6l.4 5l.4 -5.3l.5 5.9l.4 -22.5l.5 -10.6l.4 11.9l.4 42.1l.5 -6.6l.4 -16.2l.5 21l.4 -27.2l.4 6.7l.5 17.9l.4 13.6l.5 9.3l.4 -12l.4 -16.2l.5 24.4l.4 4.4l.5 17.3l.4 12.3l.4 2.4l.5 20.9l.4 -2l.5 8.9l.4 -6.6l.4 -42.4l.5 -42.5l.4 35l.5 -13.1l.4 -53l.4 -11.3l.5 1.8l.4 57.2l.5 -60.6l.4 50.5l.4 -10.6l.5 10.3l.4 20.3l.5 3.4l.4 4.2l.4 6l.5 -35.7l.4 16.3l.5 2l.4 10.7l.4 -27.6l.5 58.6l.4 -1.4l.5 15l.4 5.8l.4 -27.5l.5 -16l.4 -7.4l.5 -24.9l.4 3.5l.4 1.5l.5 2.1l.4 -15.9l.5 37.3l.4 -39.8l.4 12.2l.5 -2l.4 -32l.5 23.8l.4 -41.4l.4 11.5l.5 -12.2l.4 -9l.5 -10l.4 -3.1l.4 7.5l.5 39.9l.4 -8.9l.5 4.6l.4 24.9l.4 -11.3l.5 24.2l.4 17.5l.5 6.3l.4 2.5l.4 -38.6l.5 30.4l.4 -2.4l.5 -1l.4 -4.8l.4 27.8l.5 28.4l.4 -5.8l.5 21.8l.4 9.1l.4 -11.4l.5 -1.7l.4 7.2l.5 0l.4 -16.7l.4 -5.4l.5 -6.9l.4 -4.5l.5 4.2l.4 19.8l.4 9.7l.5 -40.7l.4 6.6l.5 3.6l.4 -15.7l.4 -5.1l.5 3.3l.4 -1.2l.5 22.5l.4 7.1l.4 -1.1l.5 13.1l.4 -13.5l.5 1.7l.4 -31l.4 61.1l.5 -41.7l.4 32.3l.5 14.3l.4 -18l.4 10.6l.5 -2.3l.4 13.3l.5 1.4l.4 -11.8l.4 -.4l.5 -27.2l.4 32.6l.5 -5.3l.4 12.5l.4 -27.1l.5 -10.1l.4 23.2l.5 -11.9l.4 -2.7l.4 -12.6l.5 -6.8l.4 6.7l.5 -25.8l.4 -5.3l.4 19.9l.5 -15.5l.4 -18l.5 14.1l.4 -34.3l.4 -10.3l.5 5.5l.4 -31.4l.5 -7.6l.4 4l.4 5.3l.5 10.7l.4 -4.9l.5 5.2l.4 -19l.4 -5.6l.5 9.7l.4 1.5l.5 -18.7l.4 30.8l.4 -22.5l.5 -9.7l.4 30.1l.5 -4.9l.4 -19.3l.4 13.7l.5 11.4l.4 10.6l.5 5.9l.4 27.5l.4 16.6l.5 -10.6l.4 26.7l.5 -7.2l.4 17.7l.4 -14.7l.5 -9.4l.4 18l.5 5.1l.4 -13.1l.5 18.1l.4 41.4l.4 7.3l.5 -5l.4 -25.8l.5 21.9l.4 -10.5l.4 -11.1l.5 6.4l.4 -2.5l.5 10.7l.4 11l.4 -17.3l.5 9.5l.4 -4l.5 -4.9l.4 15.4l.4 -10.3l.5 -8.7l.4 -10.7l.5 3.6l.4 -19.9l.4 -28.6l.5 -10.7l.4 -17.2l.5 -20.7l.4 -5.5l.4 18.7l.5 -2.5l.4 -15.7l.5 -15.1l.4 1.6l.4 3.3l.5 5.5l.4 -35l.5 -21.2l.4 -12.5l.4 -6.5l.5 -25.7l.4 -7.8l.5 18.7l.4 -13.6l.4 15.5l.5 -18.8l.4 13.3l.5 -12.5l.4 17.7l.4 19.2l.5 13.4l.4 -34.3l.5 10.6l.4 24.1l.4 -2.9l.5 .9l.4 5.2l.5 3.1l.4 8.1l.4 26.2l.5 31.2l.4 -.8l.5 19.6l.4 4.6l.4 -3.7l.5 4.7l.4 -27.5l.5 20.2l.4 24.6l.4 -2.2l.5 4.1l.4 60.1l.5 7l.4 -9.3l.4 6.6l.5 -13.7l.4 8.4l.5 -16l.4 16.6l.4 -24.7l.5 24.4l.4 -13.2l.5 1.9l.4 -13.5l.4 4.4l.5 11.4l.4 -11.5l.5 -6.1l.4 18.8l.4 -35l.5 -8.6l.4 -28.6l.5 -26.3l.4 18l.4 -9.4l.5 -26.2l.4 -11.7l.5 23.3l.4 -21.3l.4 38.1l.5 -9.6l.4 -21.7l.5 -19.3l.4 .9l.4 -47.6l.5 -12.6l.4 -10.9l.5 22.8l.4 -14.2l.4 12.9l.5 -8.7l.4 11.1l.5 10.7l.4 -8.6l.4 2.2l.5 21.8l.4 -1.8l.5 25.9l.4 11.5l.4 -5.5l.5 -16.2l.4 -5.6l.5 23.5l.4 -6.4l.4 -13.7l.5 1.6l.4 33.8l.5 7.6l.4 -11.4l.4 11l.5 7.7l.4 6.6l.5 -5l.4 7.4l.4 62.1l.5 -7.4l.4 10.3l.5 -5.4l.4 -1.9l.4 -2.6l.5 -37.4l.4 17.6l.5 11.9l.4 5.4l.4 3.5l.5 -20.8l.4 -21.2l.5 .9l.4 1.5l.4 19.3l.5 24l.4 -14.2l.5 26.4l.4 -12l.4 4.1l.5 11.6l.4 -10.9l.5 -19.1l.4 35.3l.4 6l.5 -8.9l.4 -4.3l.5 -17l.4 -7.1l.4 20.9l.5 -24.2l.4 25l.5 -20.5l.4 -4.6l.4 -12.7l.5 2.3l.4 2.9l.5 -14.3l.4 -10.9l.4 -3l.5 -23.5l.4 1.7l.5 -12.4l.4 22.7l.4 0l.5 -13l.4 9.2l.5 -44.7l.4 -15.5l.4 -1.8l.5 7.7l.4 54.9l.5 11.1l.4 -.2l.4 17.5l.5 -4.4l.4 21.3l.5 7.7l.4 31.8l.4 -29.5l.5 9.4l.4 -3.9l.5 -29l.4 8.7l.5 23.1l.4 -8.3l.4 6.1l.5 -40.2l.4 -7.1l.5 -8l.4 11.4l.4 10.9l.5 32.3l.4 -5.3l.5 -4.5l.4 3.9l.4 9l.5 25.6l.4 -36.9l.5 33.2l.4 -3.3l.4 10.9l.5 15.1l.4 .7l.5 -9.5l.4 -28.5l.4 -17l.5 12.5l.4 -2.2l.5 -8.3l.4 -16.6l.4 -9l.5 -13.3l.4 16.2l.5 -13.7l.4 -7l.4 -5.3l.5 -13.7l.4 16.6l.5 -13.7l.4 11.1l.4 -36l.5 -21.5l.4 -12.3l.5 2.8l.4 21.2l.4 -15l.5 25.3l.4 -10l.5 12l.4 18.9l.4 -26.9l.5 -.1l.4 20.2l.5 5.8l.4 -.9l.4 -6.3l.5 .5l.4 18.3l.5 22.2l.4 3.1l.4 16.5l.5 -29.6l.4 18.6l.5 -3.3l.4 10.2l.4 -21.9l.5 50.2l.4 -9.8l.5 47.7l.4 4.4l.4 -6.9l.5 6.1l.4 -50.3l.5 16.4l.4 -15.6l.4 28.9l.5 -29.9l.4 -7.1l.5 -1.4l.4 .9l.4 11.5l.5 -6.2l.4 2.8l.5 9.6l.4 2.6l.4 1.5l.5 -7.8l.4 1.6l.5 -.2l.4 6.5l.4 -.9l.5 21.4l.4 -36.9l.5 .6l.4 20.4l.4 4.9l.5 12.3l.4 -2l.5 .9l.4 .4l.4 -14.2l.5 -4.1l.4 9l.5 -11.8l.4 10.3l.4 -5.6l.5 -.1l.4 -6.8l.5 2.3l.4 -7.6l.4 -3.5l.5 6.9l.4 -22.3l.5 -8l.4 2.9l.4 -37.4l.5 -11.8l.4 18.1l.5 -8l.4 11.1l.4 -12.4l.5 -46.8l.4 -8.2l.5 6.3l.4 39.8l.4 -5.9l.5 17.5l.4 -4.4l.5 -13.3l.4 21.9l.4 -12.6l.5 -27.5l.4 34.4l.5 -22.9l.4 16.4l.4 -21.7l.5 27.5l.4 24.9l.5 .6l.4 -10.1l.4 -17.2l.5 22.3l.4 -12.6l.5 14l.4 -5.8l.4 .5l.5 -2.5l.4 11.4l.5 -52.6l.4 34l.4 -28.7l.5 -17.2l.4 -19.5l.5 -24.7l.4 -16.4l.4 36.1l.5 -14.3l.4 -48.2l.5 -2.9l.4 -38.4l.4 -9l.5 1l.4 5.4l.5 3.1l.4 11.5l.4 -9.6l.5 2.9l.4 19.1l.5 2.3l.4 3.7l.4 -5.9l.5 -.7l.4 7.3l.5 11.9l.4 -1.9l.4 28.4l.5 -10.7l.4 49.5l.5 42.3l.4 -46.3l.4 1.9l.5 20.2l.4 .1l.5 7.8l.4 68.9l.4 10.3l.5 -11.6l.4 -8.9l.5 -20.4l.4 -5.1l.4 7l.5 -13.6l.4 3.1l.5 -18l.4 3.7l.4 -1.3l.5 -46.2l.4 -8.2l.5 13.4l.4 -5.6l.4 5.5l.5 11.9l.4 -2.7l.5 18.7l.4 1.5l.5 -10.2l.4 22.4l.4 6.6l.5 19.2l.4 -17.5l.5 9.4l.4 -4.9l.4 -12.6l.5 28.8l.4 20.4l.5 -16l.4 22.4l.4 -12l.5 3.8l.4 23.3l.5 -15.2l.4 14.6l.4 9.2l.5 18.3l.4 13.1l.5 -19.4l.4 -4.1l.4 12l.5 -27l.4 -12.5l.5 10.8l.4 -3.6l.4 -11.9l.5 12.1l.4 17.7l.5 3.1l.4 -26l.4 39.2l.5 -50.1l.4 10.3l.5 20.3l.4 -17.8l.4 13.4l.5 15.9l.4 -29.1l.5 -11.1l.4 23l.4 8.6l.5 -28.4l.4 16.4l.5 -45.8l.4 13.8l.4 28.2l.5 -10l.4 -14.2l.5 -20.8l.4 2.1l.4 -1.7l.5 -10.2l.4 8.3l.5 24.4l.4 -2.1l.4 -1l.5 1.5l.4 3l.5 -2.3l.4 34.1l.4 -11.6l.5 -.9l.4 27l.5 -4.1l.4 2.1l.4 8.2l.5 -10.1l.4 -47.3l.5 -1.4l.4 -29.8l.4 -2.6l.5 1.1l.4 -10.8l.5 14.7l.4 -2.6l.4 18.9l.5 -35.6l.4 -5.3l.5 -30.3l.4 -8.2l.4 -30.4l.5 -5.4l.4 8.6l.5 27.5l.4 3.5l.4 22.4l.5 20.9l.4 -27.2l.5 44.8l.4 -14.7l.4 -16.7l.5 14.6l.4 19.2l.5 3.5l.4 -23.6l.4 14.7l.5 34.3l.4 -1.9l.5 26.6l.4 .9l.4 4.9l.5 11l.4 -10l.5 -15.9l.4 2l.4 -13.2l.5 -21.1l.4 -12.9l.5 18.8l.4 -43.2l.4 25.3l.5 -31.8l.4 -5l.5 16l.4 -4.8l.4 -3.4l.5 25l.4 -36l.5 30.1l.4 -10.6l.4 26.9l.5 -9.2l.4 -18.7l.5 26.1l.4 -15l.4 24l.5 -6.4l.4 8.3l.5 -12.8l.4 3.3l.4 -7.8l.5 -4.2l.4 -47.4l.5 47.4l.4 -30.9l.4 -6.4l.5 -28.8l.4 1.6l.5 .6l.4 26.5l.4 -25.7l.5 -5l.4 17.7l.5 -32l.4 -26.3l.4 14.6l.5 -21.2l.4 8.6l.5 22.8l.4 8.2l.4 -17.4l.5 47.4l.4 -31.8l.5 28.4l.4 20.9l.4 -22.7l.5 -26.8l.4 34.3l.5 -1.6l.4 22l.4 4l.5 3.1l.4 -17.5l.5 -24.4l.4 5.4l.4 -19.4l.5 15.2l.4 -11.3l.5 13.8l.4 -7l.4 -34.4l.5 -10.3l.4 2.9l.5 28.8l.4 -4.7l.4 6.3l.5 -20.7l.4 17.7l.5 -7.1l.4 11.9l.4 25.1l.5 -24l.4 -2.3l.5 -34.5l.4 22.9l.4 -15.8l.5 21.7l.4 33.5l.5 20l.4 -21l.4 -23.6l.5 55.5l.4 -1.7l.5 -18l.4 -28.1l.5 51.7l.4 -17.1l.4 8.9l.5 -28.9l.4 25.7l.5 26.7l.4 8.2l.4 -6.1l.5 -34.5l.4 -10.3l.5 -3.8l.4 -33l.4 7.1l.5 -6.5l.4 -17l.5 15.8l.4 -10.5l.4 -18.1l.5 39.7l.4 -18.7l.5 -27.2l.4 0l.4 -45.5l.5 -10.2l.4 -7.6l.5 8l.4 10.1l.4 -9.7l.5 9.1l.4 9.2l.5 19.6l.4 -19.3l.4 25.8l.5 -17.9l.4 2.8l.5 26.1l.4 -16.3l.4 -13.6l.5 14.1l.4 .5l.5 1l.4 26.4l.4 -24.5l.5 8l.4 35.5l.5 -3.8l.4 13.3l.4 11.9l.5 16.1l.4 11.6l.5 -24.3l.4 13.7l.4 5.7l.5 17.3l.4 25.1l.5 -20l.4 12l.4 54.2l.5 10.1l.4 -6.3l.5 -3.2l.4 11.6l.4 -10.8l.5 11.5l.4 -11l.5 17.8l.4 -6.6l.4 -40.5l.5 19.5l.4 -11.9l.5 -7l.4 3.5l.4 -27.9l.5 24.5l.4 16l.5 -1.9l.4 -26l.4 3.3l.5 -25.6l.4 12.6l.5 -21.7l.4 -7.3l.4 8.1l.5 44.4l.4 1.6l.5 35.8l.4 -25.8l.4 23.1l.5 -7l.4 -2.4l.5 35.1l.4 16.5l.4 10.5l.5 -5.2l.4 -25.8l.5 5.7l.4 -28.5l.4 19l.5 -52l.4 16l.5 8.6l.4 12.3l.4 -23.1l.5 32.4l.4 -23.4l.5 -2.9l.4 -26.6l.4 39.5l.5 -28.8l.4 -3.2l.5 3.4l.4 2.8l.4 -29.3l.5 -10.8l.4 13.3l.5 2.1l.4 16.9l.4 31.1l.5 -19.2l.4 -18.9l.5 22.7l.4 1.4l.4 -15.1l.5 17.8l.4 3.5l.5 7.6l.4 5.8l.4 -4.4l.5 -5.4l.4 -9.2l.5 3.8l.4 6.9l.4 -7.1l.5 -4.4l.4 -1.6l.5 -25l.4 27l.4 .7l.5 -9l.4 4.8l.5 -21.1l.4 -2.9l.4 -3.9l.5 24.6l.4 -64.6l.5 24.2l.4 -22.3l.4 54.9l.5 -44.1l.4 8.7l.5 -39.9l.4 -8.6l.4 9.4l.5 44.8l.4 21.6l.5 -.8l.4 -13.5l.4 -2.8l.5 -24.4l.4 26.3l.5 -2.1l.4 -22.6l.4 15.8l.5 -2l.4 -17.4l.5 -5.7l.4 40l.4 -26l.5 -2l.4 7l.5 -40.1l.4 15.9l.4 18.2l.5 15.6l.4 -8.9l.5 -4.2l.4 2.4l.4 .5l.5 10.7l.4 -39.8l.5 54.8l.4 -37.3l.4 19.5l.5 11.7l.4 -22.2l.5 16.4l.4 13.1l.4 -10.6l.5 -9.6l.4 -10.6l.5 9.6l.4 -3.8l.4 -22.1l.5 2.5l.4 -4.6l.5 -11.8l.4 11.2l.4 -.7l.5 2.9l.4 -10.5l.5 6.3l.4 45.3l.5 -18.8l.4 -6.6l.4 25.9l.5 3.6l.4 -24.6l.5 43.4l.4 -45.5l.4 -19.2l.5 12.4l.4 21.3l.5 -8.8l.4 28.7l.4 -9.2l.5 -28.1l.4 -15.7l.5 -7.1l.4 30.2l.4 -31.2l.5 11.5l.4 -11.9l.5 -5.8l.4 13.7l.4 19.3l.5 34.9l.4 -26.8l.5 -10.2l.4 41.8l.4 -60.2l.5 59.2l.4 -19.7l.5 3.5l.4 -8.7l.4 21.4l.5 -9.6l.4 4.9l.5 24.2l.4 25.7l.4 2.9l.5 7.6l.4 -12.1l.5 11.9l.4 -10.7l.4 8.2l.5 -8.7l.4 -15.1l.5 19.7l.4 -27.3l.4 35.7l.5 -14.9l.4 12.8l.5 -39l.4 13.4l.4 7.9l.5 -31.5l.4 -13.9l.5 -6.6l.4 -34.8l.4 17l.5 -.2l.4 2.4l.5 -34.4l.4 16.5l.4 -14.1l.5 -3.1l.4 -58.6l.5 -3.5l.4 7.4l.4 13.7l.5 -18.8l.4 11.4l.5 -8.2l.4 27l.4 22.3l.5 -8.9l.4 -10.1l.5 -28.7l.4 25.6l.4 -.8l.5 13.7l.4 -8.1l.5 14.5l.4 -7.5l.4 29.9l.5 7.4l.4 40.9l.5 -47.9l.4 15l.4 31.5l.5 -10.6l.4 38.9l.5 -18l.4 2.1l.4 -1l.5 29.6l.4 22.7l.5 8.9l.4 -9.4l.4 -28.2l.5 -61.8l.4 -1.7l.5 37.6l.4 -5.3l.4 -9.7l.5 -3.3l.4 4.1l.5 -23.3l.4 -4.9l.4 8.1l.5 -37.4l.4 4l.5 -30l.4 -5.6l.4 11.8l.5 39.5l.4 5.7l.5 -3.6l.4 36.1l.4 -24.7l.5 36.5l.4 5.9l.5 -26.6l.4 30.5l.4 32.4l.5 -.1l.4 6.6l.5 -8.9l.4 -2.9l.4 5.9l.5 -28.6l.4 8.7l.5 11.3l.4 -5.3l.4 -4.7l.5 -11.8l.4 0l.5 17.8l.4 -9.2l.4 6.2l.5 -16.4l.4 -6.3l.5 -10.3l.4 13.4l.4 -34.8l.5 -18.8l.4 20.2l.5 -36.4l.4 15.7l.4 4.8l.5 .5l.4 -51l.5 17.4l.4 8.2l.4 -13.3l.5 -16.9l.4 23.7l.5 -52l.4 -10.9l.4 6.2l.5 4.1l.4 22.8l.5 3l.4 5.2l.4 -10.8l.5 63.3l.4 -36.1l.5 -13l.4 9.4l.4 -1.5l.5 32.9l.4 -13.4l.5 1.9l.4 39l.4 2.6l.5 19.9l.4 -78.1l.5 -29.2l.4 31.8l.4 -24.4l.5 18.2l.4 -28.9l.5 18.8l.4 -32.1l.4 23.3l.5 -40.1l.4 -26.8l.5 8.2l.4 -12.5l.4 -24l.5 -4.9l.4 9.6l.5 82.7l.4 -12.4l.4 68.7l.5 -3.4l.4 23.9l.5 .2l.4 -7.7l.5 28l.4 -9.4l.4 20.7l.5 70.5l.4 49.3l.5 7.6l.4 -6.6l.4 -29.3l.5 -43l.4 -11.5l.5 20.2l.4 -31.6l.4 11.7l.5 -4.1l.4 -9.7l.5 1l.4 -11.9l.4 -18.6l.5 20.8l.4 -31.9l.5 -44.9l.4 -8l.4 -2.8l.5 26.1l.4 -7l.5 19.7l.4 -9.1l.4 -5l.5 7.7l.4 15.2l.5 7.5l.4 -1.3l.4 -2l.5 16.8l.4 .9l.5 36.9l.4 -21.2l.4 -14.1l.5 -14.8l.4 -26.9l.5 -12.8l.4 -22.5l.4 -25.7l.5 36.2l.4 -48.9l.5 9.2l.4 23.2l.4 1.1l.5 -28.9l.4 -23.3l.5 -10.4l.4 -45.7l.4 -6l.5 11l.4 -8.5l.5 10l.4 -2.1l.4 2.5l.5 14.9l.4 3.6l.5 14.7l.4 3l.4 -15.3l.5 3.4l.4 5.8l.5 13.8l.4 -14.6l.4 33l.5 -14.6l.4 83.2l.5 -8.4l.4 -21.4l.4 9.8l.5 37l.4 -6.2l.5 48.8l.4 49.2l.4 8.3l.5 -10.2l.4 -.3l.5 -15.7l.4 -28.3l.4 46.1l.5 -45.1l.4 -14.9l.5 8l.4 -1.6l.4 2.5l.5 13.8l.4 -17.9l.5 5.3l.4 -11l.4 -5.3l.5 7l.4 -54.7l.5 -15.7l.4 28.9l.4 -22.7l.5 -1.8l.4 8.8l.5 -6.2l.4 6.6l.4 6.4l.5 -5.7l.4 13.2l.5 -14.7l.4 3.2l.4 -1.8l.5 27.3l.4 -19l.5 12.6l.4 -3.1l.4 21.7l.5 2.6l.4 34.8l.5 1l.4 -1.9l.4 30.9l.5 -25.7l.4 22.2l.5 19.9l.4 -14.1l.4 40.1l.5 5.3l.4 -2l.5 -18l.4 -10.5l.4 -7.7l.5 34.9l.4 -43l.5 12.3l.4 9.7l.4 2.8l.5 -8.5l.4 -15.3l.5 -7.4l.4 1.4l.4 -38.6l.5 21.6l.4 -54.9l.5 46.8l.4 6.3l.4 -27.8l.5 .4l.4 13.8l.5 -25l.4 -8.1l.4 13.5l.5 11l.4 -22.5l.5 23.3l.4 9.7l.4 6.8l.5 -2.7l.4 16.5l.5 14.1l.4 -46.5l.4 24.3l.5 -46l.4 1.2l.5 -14.5l.4 14.5l.4 28.8l.5 -63.6l.4 28.8l.5 -22.8l.4 12.8l.4 -46.6l.5 -4.6l.4 -1.8l.5 3.3l.4 13.9l.4 35.1l.5 16.4l.4 -2.9l.5 -15.1l.4 21.9l.4 -26.8l.5 8.6l.4 27.8l.5 -.5l.4 -6.5l.4 5.7l.5 -8.7l.4 42.5l.5 3.3l.4 -24.9l.4 42.9l.5 -1.4l.4 9.1l.5 -11.3l.4 -6.8l.4 4.1l.5 -25.8l.4 7.7l.5 19.4l.4 2.4l.4 -4.2l.5 -20.4l.4 -6l.5 18.8l.4 -26.3l.5 3.4l.4 8.5l.4 15.1l.5 -48.1l.4 18.5l.5 -29.9l.4 15.5l.4 -8.3l.5 -34.4l.4 37.6l.5 -52l.4 -2.7l.4 10.4l.5 25.1l.4 -17.8l.5 9.7l.4 -4.9l.4 -41.8l.5 -8.6l.4 21.6l.5 -26l.4 -7.9l.4 11.6l.5 13.5l.4 1.7l.5 -5.1l.4 -4l.4 30.8l.5 -21.1l.4 9.5l.5 11.9l.4 -16.8l.4 2.9l.5 -9.6l.4 -7.1l.5 28.7l.4 12.4l.4 -15.4l.5 41.9l.4 -6.3l.5 1.1l.4 -17.6l.4 32.9l.5 3.2l.4 -33.6l.5 22.5l.4 16l.4 -9.7l.5 -49.5l.4 26l.5 -23.4l.4 -7.9l.4 -7l.5 -1.8l.4 -1.2l.5 3.6l.4 12.1l.4 -30.2l.5 36.5l.4 -56.8l.5 -.8l.4 -24.7l.4 -4.9l.5 7.9l.4 41.7l.5 -30.9l.4 6l.4 1.6l.5 14.2l.4 -26.8l.5 16.3l.4 -9.9l.4 -8.6l.5 1.4l.4 -6.4l.5 13.9l.4 -2.7l.4 9.4l.5 -1.6l.4 18.5l.5 2.4l.4 64.7l.4 -24.9l.5 1.5l.4 20l.5 26.2l.4 -16.3l.4 -5.1l.5 21.3l.4 50.6l.5 -27l.4 31.3l.4 14.5l.5 -27.5l.4 15.4l.5 -8.7l.4 1.9l.4 17l.5 -15.3l.4 16.8l.5 3.8l.4 -12.3l.4 11.2l.5 -6.2l.4 -12.7l.5 16.6l.4 14.7l.4 9.4l.5 -.4l.4 -9.9l.5 -5.9l.4 15.2l.4 -34.5l.5 -6.4l.4 -10.5l.5 43.4l.4 -16l.4 6.4l.5 13.5l.4 -40.4l.5 22.4l.4 -.8l.4 -37.7l.5 36.3l.4 -4l.5 -49.2l.4 -22.2l.4 19.9l.5 -9.9l.4 -54.9l.5 33.1l.4 3.5l.4 -32.6l.5 11.8l.4 -21.1l.5 1l.4 1.3l.4 -11.4l.5 -28.6l.4 -2.2l.5 12.4l.4 -8.8l.4 25.8l.5 -26.9l.4 19.4l.5 -10.5l.4 -6.3l.4 7.1l.5 7.2l.4 2.4l.5 -8l.4 -3.8l.4 3.8l.5 -7l.4 12.4l.5 -11.1l.4 13.8l.4 -7l.5 8.7l.4 -9.3l.5 19.7l.4 -16.9l.4 2l.5 2.3l.4 4.4l.5 4.8l.4 7.3l.4 -17l.5 12.5l.4 -13.4l.5 13.9l.4 10.3l.4 23.9l.5 24.4l.4 -15.3l.5 -16.9l.4 37.2l.4 23l.5 -18l.4 -11.4l.5 7.7l.4 -25.9l.4 21.2l.5 31.1l.4 26l.5 17.4l.4 -6.9l.4 8.5l.5 -4.1l.4 -33.5l.5 -1l.4 -15.5l.4 36l.5 -51.4l.4 52.2l.5 -7.7l.4 -26.1l.4 11.3l.5 -13.8l.4 25.1l.5 -15.6l.4 -7.4l.5 -36.9l.4 32.9l.4 -9.9l.5 34.7l.4 22.9l.5 -22.2l.4 -5.2l.4 16.3l.5 33l.4 -45.3l.5 20.2l.4 1l.4 31.7l.5 -28.2l.4 16.2l.5 38.4l.4 6.2l.4 -8.2l.5 -27.7l.4 -23.1l.5 15.4l.4 -17.1l.4 -1.4l.5 -38.8l.4 40.3l.5 -16.3l.4 22.9l.4 .3l.5 -40.8l.4 6.6l.5 -17.9l.4 .2l.4 -4.1l.5 -21.9l.4 -20l.5 -6.7l.4 3.3l.4 28.4l.5 -6.6l.4 7.3l.5 8.5l.4 8.7l.4 -19l.5 41.6l.4 -14.6l.5 21l.4 13.4l.4 -3.8l.5 -27l.4 10.1l.5 14.3l.4 -4.5l.4 -20.8l.5 -7.7l.4 4.3l.5 24.6l.4 -7.3l.4 -10.9l.5 -4.4l.4 -17.9l.5 -6.4l.4 -24.3l.4 20.4l.5 -6.2l.4 -6.2l.5 -6.2l.4 -8.2l.4 14.2l.5 -31l.4 -3.8l.5 7.9l.4 .1l.4 -3.4l.5 25.3l.4 -1.2l.5 -9.2l.4 10.5l.4 12.4l.5 -31.4l.4 9.4l.5 -13.1l.4 17.7l.4 -6.6l.5 25.7l.4 -15l.5 18.2l.4 -10.1l.4 -6.6l.5 25.9l.4 -32l.5 46.2l.4 6l.4 -8.1l.5 -21.3l.4 -9.6l.5 3.4l.4 17.9" fill="none" stroke="#0f0" stroke-width="5" stroke-linejoin="round" clip-path="url(#ax)"/>
<text transform="translate(193.00 1575.30) scale(1.0000 1.0410)" text-anchor="end" font-family="'Liberation Sans', Arial, Helvetica, sans-serif" font-size="66.5" fill="#262626">30</text>
<text transform="translate(193.00 1369.59) scale(1.0000 1.0410)" text-anchor="end" font-family="'Liberation Sans', Arial, Helvetica, sans-serif" font-size="66.5" fill="#262626">35</text>
<text transform="translate(193.00 1163.87) scale(1.0000 1.0410)" text-anchor="end" font-family="'Liberation Sans', Arial, Helvetica, sans-serif" font-size="66.5" fill="#262626">40</text>
<text transform="translate(193.00 958.16) scale(1.0000 1.0410)" text-anchor="end" font-family="'Liberation Sans', Arial, Helvetica, sans-serif" font-size="66.5" fill="#262626">45</text>
<text transform="translate(193.00 752.44) scale(1.0000 1.0410)" text-anchor="end" font-family="'Liberation Sans', Arial, Helvetica, sans-serif" font-size="66.5" fill="#262626">50</text>
<text transform="translate(193.00 546.73) scale(1.0000 1.0410)" text-anchor="end" font-family="'Liberation Sans', Arial, Helvetica, sans-serif" font-size="66.5" fill="#262626">55</text>
<text transform="translate(193.00 341.01) scale(1.0000 1.0410)" text-anchor="end" font-family="'Liberation Sans', Arial, Helvetica, sans-serif" font-size="66.5" fill="#262626">60</text>
<text transform="translate(193.00 135.30) scale(1.0000 1.0410)" text-anchor="end" font-family="'Liberation Sans', Arial, Helvetica, sans-serif" font-size="66.5" fill="#262626">65</text>
<text transform="translate(206.00 1631.80) scale(1.0000 1.0410)" text-anchor="middle" font-family="'Liberation Sans', Arial, Helvetica, sans-serif" font-size="66.5" fill="#262626">0</text>
<text transform="translate(646.10 1631.80) scale(1.0000 1.0410)" text-anchor="middle" font-family="'Liberation Sans', Arial, Helvetica, sans-serif" font-size="66.5" fill="#262626">1000</text>
<text transform="translate(1086.20 1631.80) scale(1.0000 1.0410)" text-anchor="middle" font-family="'Liberation Sans', Arial, Helvetica, sans-serif" font-size="66.5" fill="#262626">2000</text>
<text transform="translate(1526.30 1631.80) scale(1.0000 1.0410)" text-anchor="middle" font-family="'Liberation Sans', Arial, Helvetica, sans-serif" font-size="66.5" fill="#262626">3000</text>
<text transform="translate(1966.40 1631.80) scale(1.0000 1.0410)" text-anchor="middle" font-family="'Liberation Sans', Arial, Helvetica, sans-serif" font-size="66.5" fill="#262626">4000</text>
<text transform="translate(2406.50 1631.80) scale(1.0000 1.0410)" text-anchor="middle" font-family="'Liberation Sans', Arial, Helvetica, sans-serif" font-size="66.5" fill="#262626">5000</text>
<text transform="translate(1305.45 1727.00) scale(1.0270 1.0400)" text-anchor="middle" font-family="'Liberation Sans', Arial, Helvetica, sans-serif" font-size="73" fill="#262626" stroke="#262626" stroke-width="0.8">time / ms</text>
<text transform="translate(90.80 831.10) rotate(-90) scale(1.0310 1.0190)" text-anchor="middle" font-family="'Liberation Sans', Arial, Helvetica, sans-serif" font-size="73" fill="#262626" stroke="#262626" stroke-width="0.8">CN0 / dBHz</text>
<text transform="translate(1305.05 83.55) scale(0.9950 1.0160)" text-anchor="middle" font-family="'Liberation Sans', Arial, Helvetica, sans-serif" font-size="73" fill="#000" stroke="#000" stroke-width="1.0">CN0</text>
<rect x="1711.4" y="175.6" width="628.9" height="289.8" fill="#fff" stroke="#262626" stroke-width="6.6"/>
<path d="M1735.8 231.4H1987.1" stroke="#f00" stroke-width="5"/>
<circle cx="1861.5" cy="231.4" r="8" fill="none" stroke="#f00" stroke-width="5"/>
<path d="M1735.8 320.45H1987.1" stroke="#00f" stroke-width="5"/>
<path transform="translate(1861.5 320.45)" d="M0 -11.5V11.5M-11.5 0H11.5M-6 -6L6 6M-6 6L6 -6" fill="none" stroke="#00f" stroke-width="5"/>
<path d="M1735.8 409.5H1987.1" stroke="#0f0" stroke-width="5"/>
<text transform="translate(2003.70 255.40) scale(1.0100 1.0260)" text-anchor="start" font-family="'Liberation Sans', Arial, Helvetica, sans-serif" font-size="66.5" fill="#000" stroke="#000" stroke-width="1.0">MEDM</text>
<text transform="translate(2003.70 343.90) scale(1.0100 1.0260)" text-anchor="start" font-family="'Liberation Sans', Arial, Helvetica, sans-serif" font-size="66.5" fill="#000" stroke="#000" stroke-width="1.0">MEAM-VT</text>
<text transform="translate(2003.70 433.00) scale(1.0100 1.0260)" text-anchor="start" font-family="'Liberation Sans', Arial, Helvetica, sans-serif" font-size="66.5" fill="#000" stroke="#000" stroke-width="1.0">Normal</text>
</svg>
</body></html>
